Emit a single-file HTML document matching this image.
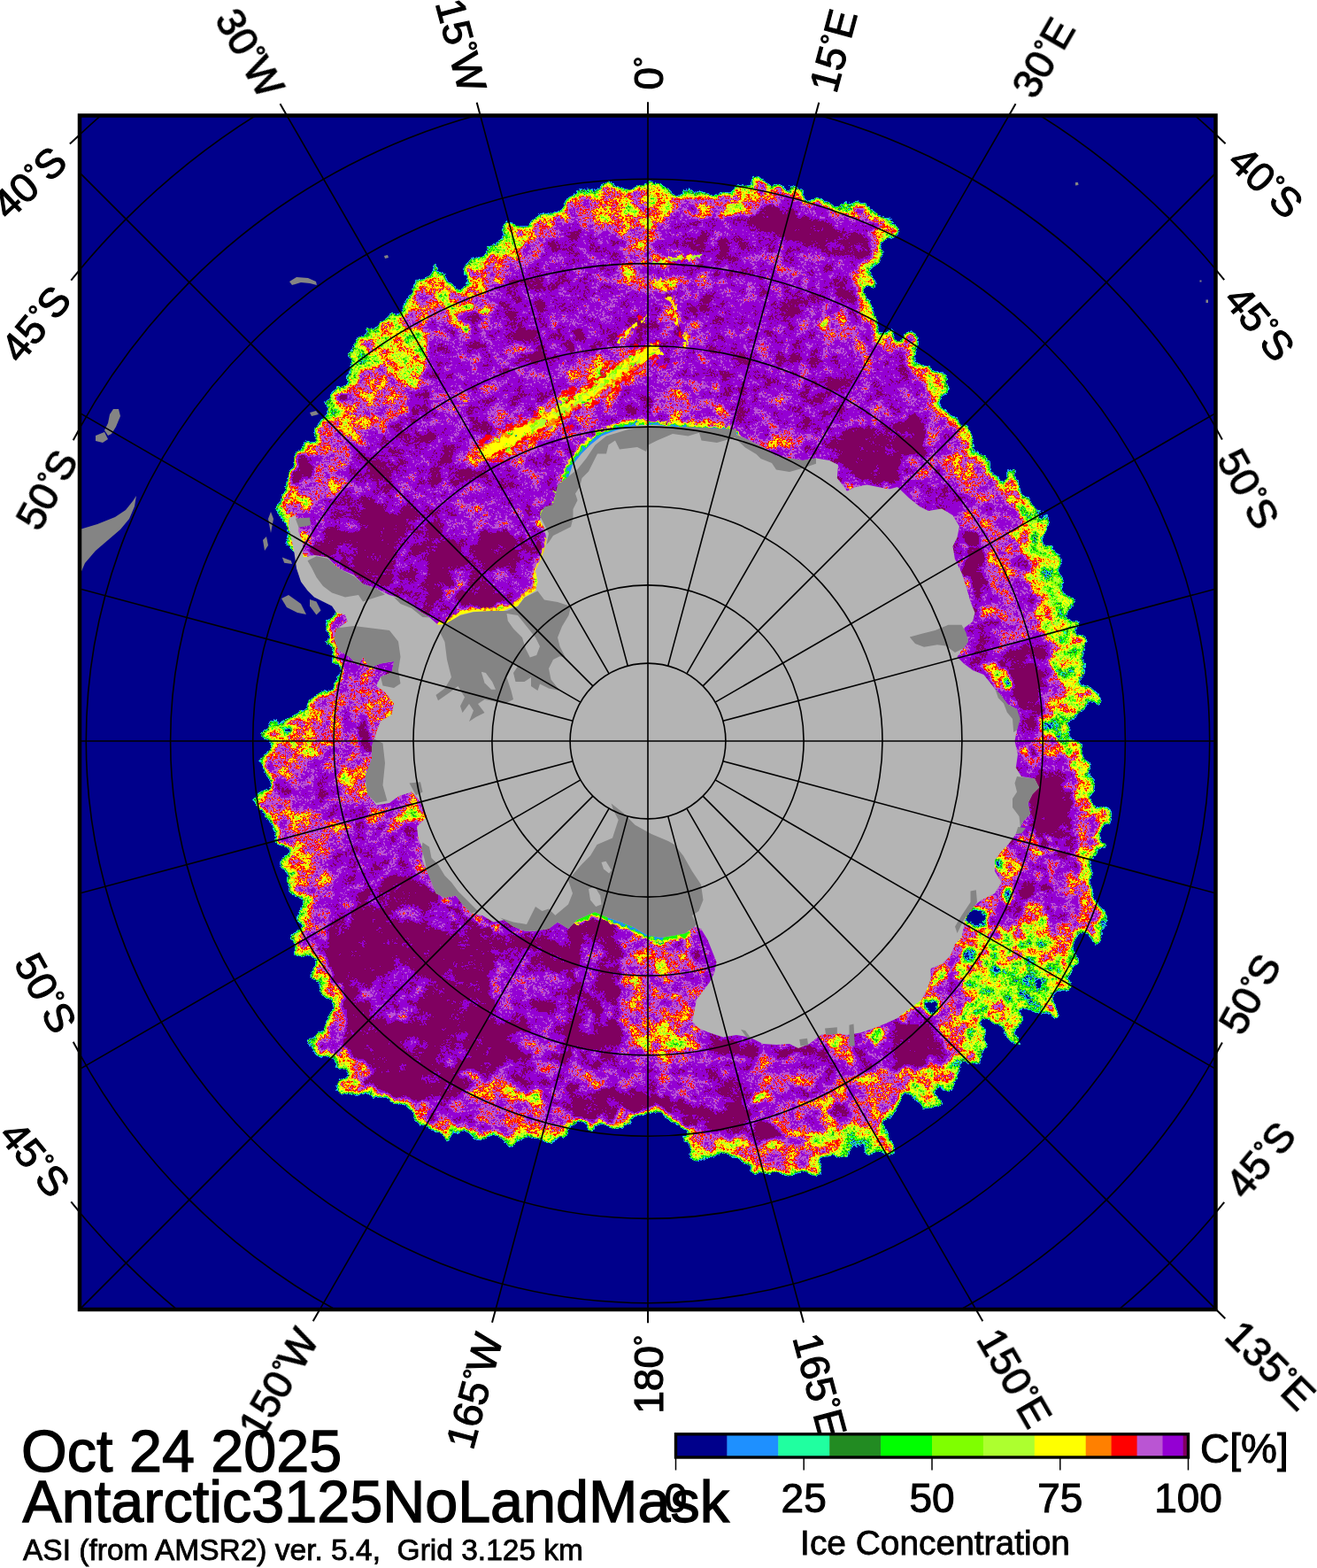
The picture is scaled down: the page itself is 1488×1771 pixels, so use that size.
<!DOCTYPE html>
<html lang="en"><head><meta charset="utf-8"><title>Antarctic sea ice concentration - Oct 24 2025</title>
<style>
html,body{margin:0;padding:0;background:#fff}
body{width:1488px;height:1771px;overflow:hidden;position:relative}
svg{position:absolute;left:0;top:0;display:block}
text{font-family:"Liberation Sans",sans-serif;fill:#000}
.g{fill:none;stroke:#000;stroke-width:1.6}
.lb{font-size:46px;stroke:#000;stroke-width:1.1px}
.tt{stroke:#000;stroke-width:1px}
.t2{stroke:#000;stroke-width:0.8px}
.t3{stroke:#000;stroke-width:1.3px}
</style></head><body>
<svg width="1488" height="1771" viewBox="0 0 1488 1771">
<defs>
<filter id="rag" x="-5%" y="-5%" width="110%" height="110%" color-interpolation-filters="sRGB">
<feTurbulence type="fractalNoise" baseFrequency="0.18" numOctaves="2" seed="5" result="t"/>
<feDisplacementMap in="SourceGraphic" in2="t" scale="9" xChannelSelector="R" yChannelSelector="G"/>
</filter>
<clipPath id="oc"><path d="M642 232 L635 241 L620 244 L605 246 L600 252.5 L602 259 L590 254 L577.5 256 L570 260 L567.5 267.5 L560 272.5 L552.5 280 L550 290 L542.5 297.5 L532.5 297.5 L528.8 305 L532.5 312.5 L530 320 L522.5 330 L515 330 L510 320 L502.5 312.5 L492.5 303.8 L482.5 310 L472.5 320 L467.5 332.5 L457.5 342.5 L450 352.5 L440 357.5 L430 367.5 L417.5 375 L408.8 385 L405 395 L395 398.8 L400 407.5 L397.5 417.5 L400 427.5 L390 436 L380 442.5 L370 445 L366 452.5 L375 460 L372.5 472.5 L362.5 480 L357.5 490 L362.5 500 L355 503.8 L345 501 L338.8 510 L332.5 520 L330 535 L328.8 547.5 L323.8 557.5 L321 562 L318.8 577 L321 589.5 L322.5 602 L326 614.5 L332 622 L340 630 L360 660 L382 692 L372.5 697 L370 707 L370 722 L375 737 L377.5 747 L385 754.5 L382.5 769.5 L370 779.5 L357.5 789.5 L350 792 L345 802 L332.5 809.5 L320 819.5 L302.5 822 L297.5 827 L310 837 L307.5 847 L295 852 L292.5 857 L302.5 867 L307.5 879.5 L302.5 892 L295 899.5 L287.5 907 L295 917 L305 924.5 L312.5 934 L315 944 L327.5 951.5 L330 961.5 L320 971.5 L320 981.5 L332.5 989 L325 999 L335 1009 L347.5 1014 L342.5 1026.5 L337.5 1036.5 L340 1046.5 L330 1054 L326 1059 L337.5 1066.5 L340 1076.5 L352.5 1084 L355 1094 L351 1101.5 L362.5 1109 L367.5 1124 L377.5 1134 L375 1144 L370 1159 L370 1171.5 L357.5 1174 L347.5 1179 L360 1184 L370 1191.5 L380 1196.5 L385 1209 L390 1219 L386 1229 L400 1234 L410 1236.5 L425 1236.5 L440 1241.5 L452.5 1246.5 L465 1251.5 L470 1259 L475 1269 L487.5 1271.5 L500 1276.5 L505 1282.8 L515 1276.5 L530 1284 L542.5 1284 L552.5 1279 L565 1284 L580 1291.5 L595 1284 L610 1284 L625 1286.5 L638 1284 L644 1266 L657 1266.5 L667 1274 L677 1264 L692 1271.5 L699.5 1261.5 L709.5 1274 L717 1259 L727 1251.5 L735 1248.5 L742.5 1252.5 L750 1260 L760 1267.5 L775 1272.5 L782.5 1280 L775 1287.5 L782.5 1297.5 L785 1307.5 L792.5 1312.5 L805 1307.5 L812.5 1300 L825 1305 L835 1307.5 L842.5 1315 L847.5 1322.5 L857.5 1327.5 L870 1327.5 L882.5 1325 L895 1326 L907.5 1325 L920 1320 L925 1310 L937.5 1307.5 L952.5 1300 L970 1297.5 L985 1300 L995 1297.5 L1007.5 1305 L1010 1295 L1002.5 1282.5 L992.5 1272.5 L1002.5 1262.5 L1007.5 1250 L1015 1240 L1015 1230 L1027.5 1235 L1045 1242.5 L1060 1243.8 L1055 1232.5 L1070 1225 L1080 1217.5 L1082.5 1205 L1092 1197.5 L1094 1199 L1106.5 1199 L1109 1189 L1114 1174 L1109 1159 L1114 1149 L1126.5 1156.5 L1139 1169 L1149 1176.5 L1146.5 1166.5 L1149 1154 L1154 1141.5 L1164 1134 L1176.5 1141.5 L1189 1144 L1186.5 1134 L1191.5 1124 L1201.5 1116.5 L1211.5 1109 L1206.5 1099 L1209 1086.5 L1214 1074 L1214 1059 L1219 1049 L1226.5 1054 L1234 1064 L1244 1059 L1247.8 1044 L1244 1029 L1236.5 1019 L1231.5 1006.5 L1226.5 991.5 L1231.5 979 L1241.5 969 L1234 959 L1246.5 951.5 L1239 944 L1251.5 934 L1254 930 L1251.5 919.5 L1239 914.5 L1231.5 907 L1234 894.5 L1236.5 879.5 L1226.5 867 L1224 852 L1219 839.5 L1211.5 832 L1206.5 822 L1211.5 812 L1216.5 802 L1229 799.5 L1239 792 L1239 782 L1226.5 777 L1214 772 L1221.5 762 L1226.5 752 L1214 744.5 L1224 734.5 L1226.5 722 L1214 717 L1211.5 704.5 L1201.5 694.5 L1209 684.5 L1214 674.5 L1201.5 669.5 L1199 657 L1194 647 L1196.5 634.5 L1191.5 624.5 L1181.5 617 L1174 607 L1181.5 597 L1184 584.5 L1176.5 579.5 L1164 572 L1159 562 L1152 558 L1150 547.5 L1149 537.5 L1141.5 535 L1134 547.5 L1126.5 545 L1121.5 535 L1119 525 L1114 517.5 L1104 510 L1096.5 500 L1091.5 490 L1086.5 482.5 L1080 477.5 L1074 470 L1064 462.5 L1054 455 L1061.5 445 L1066.5 435 L1059 421 L1046.5 420 L1034 410 L1031.5 397.5 L1036.5 387.5 L1032.8 377.5 L1024 382.5 L1014 387.5 L1002 380 L992 367.5 L984.5 355 L984.5 345 L977 337.5 L974.5 327.5 L984.5 320 L987 302.5 L989.5 290 L992 275 L999.5 265 L1009.5 260 L1010.8 248.8 L1004.5 245 L999.5 250 L989.5 243.8 L977 235 L964.5 233.8 L957 237.5 L942 235 L929.5 230 L917 225 L902 222.5 L892 215 L879.5 210 L867 212.5 L862 207.5 L854.5 201 L847 203.8 L844.5 211 L832 213.8 L817 217.5 L804.5 222.5 L792 220 L777 217.5 L769.5 222.5 L759.5 222.5 L749.5 215 L742 206 L729.5 207.5 L717 211 L704.5 215 L697 207.5 L690.8 206 L684.5 215 L674.5 220 L662 217.5 L649.5 220Z"/></clipPath>
<clipPath id="fr"><rect x="90.0" y="130.5" width="1283.5" height="1348.5"/></clipPath>
<filter id="ice" x="0" y="0" width="100%" height="100%" filterUnits="objectBoundingBox" color-interpolation-filters="sRGB">
<feTurbulence type="fractalNoise" baseFrequency="0.05" numOctaves="3" seed="21" result="d0"/>
<feDisplacementMap in="SourceGraphic" in2="d0" scale="22" xChannelSelector="R" yChannelSelector="G" result="sd"/>
<feGaussianBlur in="sd" stdDeviation="2.2" result="b"/>
<feTurbulence type="fractalNoise" baseFrequency="0.42" numOctaves="2" seed="7" result="h0"/>
<feColorMatrix in="h0" type="matrix" values="1 0 0 0 0  1 0 0 0 0  1 0 0 0 0  0 0 0 0 1" result="h"/>
<feTurbulence type="fractalNoise" baseFrequency="0.07" numOctaves="2" seed="3" result="m0"/>
<feColorMatrix in="m0" type="matrix" values="0 1 0 0 0  0 1 0 0 0  0 1 0 0 0  0 0 0 0 1" result="m"/>
<feTurbulence type="fractalNoise" baseFrequency="0.02" numOctaves="2" seed="11" result="l0"/>
<feColorMatrix in="l0" type="matrix" values="0 0 1 0 0  0 0 1 0 0  0 0 1 0 0  0 0 0 0 1" result="l"/>
<feComposite in="h" in2="m" operator="arithmetic" k1="0" k2="0.3" k3="0.42" k4="0" result="nm"/>
<feComposite in="nm" in2="l" operator="arithmetic" k1="0" k2="1" k3="0.28" k4="0" result="nml"/>
<feComposite in="b" in2="nml" operator="arithmetic" k1="0.4" k2="1.036" k3="1.06" k4="-0.74" result="f"/>
<feComponentTransfer in="f">
<feFuncR type="discrete" tableValues="0 0 0 0 0 0 0 0 0 0 0.1192 0.1192 0.1192 0.1192 0.1271 0.1271 0.1271 0.1271 0.1349 0.1349 0.1349 0.1349 0 0 0 0 0.4996 0.4996 0.4996 0.4996 0.68 0.68 0.68 0.68 0.68 1 1 1 1 1 1 1 1 1 1 1 1 1 1 1 1 1 0.731 0.731 0.731 0.731 0.731 0.731 0.731 0.731 0.731 0.731 0.582 0.582 0.582 0.582 0.582 0.582 0.582 0.582 0.582 0.582 0.582 0.582 0.582 0.582 0.582 0.582 0.582 0.582 0.5035 0.5035 0.5035 0.5035 0.5035 0.5035 0.5035 0.5035 0.5035 0.5035 0.5035 0.5035 0.5035 0.5035 0.5035 0.5035 0.5035 0.5035 0.5035 0.5035"/>
<feFuncG type="discrete" tableValues="0 0 0 0 0 0 0 0 0 0 0.5663 0.5663 0.5663 0.5663 1 1 1 1 0.5467 0.5467 0.5467 0.5467 1 1 1 1 1 1 1 1 1 1 1 1 1 1 1 1 1 1 1 1 0.5035 0.5035 0.5035 0.5035 0 0 0 0 0 0 0.3349 0.3349 0.3349 0.3349 0.3349 0.3349 0.3349 0.3349 0.3349 0.3349 0 0 0 0 0 0 0 0 0 0 0 0 0 0 0 0 0 0 0 0 0 0 0 0 0 0 0 0 0 0 0 0 0 0 0 0 0 0"/>
<feFuncB type="discrete" tableValues="0.5467 0.5467 0.5467 0.5467 0.5467 0.5467 0.5467 0.5467 0.5467 0.5467 1 1 1 1 0.629 0.629 0.629 0.629 0.1349 0.1349 0.1349 0.1349 0 0 0 0 0 0 0 0 0.1859 0.1859 0.1859 0.1859 0.1859 0 0 0 0 0 0 0 0 0 0 0 0 0 0 0 0 0 0.829 0.829 0.829 0.829 0.829 0.829 0.829 0.829 0.829 0.829 0.829 0.829 0.829 0.829 0.829 0.829 0.829 0.829 0.829 0.829 0.829 0.829 0.829 0.829 0.829 0.829 0.829 0.829 0.378 0.378 0.378 0.378 0.378 0.378 0.378 0.378 0.378 0.378 0.378 0.378 0.378 0.378 0.378 0.378 0.378 0.378 0.378 0.378"/>
</feComponentTransfer>
</filter>
</defs>
<rect x="0" y="0" width="1488" height="1771" fill="#fff"/>
<g clip-path="url(#fr)">
<rect x="90.0" y="130.5" width="1283.5" height="1348.5" fill="#00008b"/>
<g filter="url(#ice)">
<rect x="70.0" y="110.5" width="1323.5" height="1388.5" fill="#000"/>
<path d="M642 232 L635 241 L620 244 L605 246 L600 252.5 L602 259 L590 254 L577.5 256 L570 260 L567.5 267.5 L560 272.5 L552.5 280 L550 290 L542.5 297.5 L532.5 297.5 L528.8 305 L532.5 312.5 L530 320 L522.5 330 L515 330 L510 320 L502.5 312.5 L492.5 303.8 L482.5 310 L472.5 320 L467.5 332.5 L457.5 342.5 L450 352.5 L440 357.5 L430 367.5 L417.5 375 L408.8 385 L405 395 L395 398.8 L400 407.5 L397.5 417.5 L400 427.5 L390 436 L380 442.5 L370 445 L366 452.5 L375 460 L372.5 472.5 L362.5 480 L357.5 490 L362.5 500 L355 503.8 L345 501 L338.8 510 L332.5 520 L330 535 L328.8 547.5 L323.8 557.5 L321 562 L318.8 577 L321 589.5 L322.5 602 L326 614.5 L332 622 L340 630 L360 660 L382 692 L372.5 697 L370 707 L370 722 L375 737 L377.5 747 L385 754.5 L382.5 769.5 L370 779.5 L357.5 789.5 L350 792 L345 802 L332.5 809.5 L320 819.5 L302.5 822 L297.5 827 L310 837 L307.5 847 L295 852 L292.5 857 L302.5 867 L307.5 879.5 L302.5 892 L295 899.5 L287.5 907 L295 917 L305 924.5 L312.5 934 L315 944 L327.5 951.5 L330 961.5 L320 971.5 L320 981.5 L332.5 989 L325 999 L335 1009 L347.5 1014 L342.5 1026.5 L337.5 1036.5 L340 1046.5 L330 1054 L326 1059 L337.5 1066.5 L340 1076.5 L352.5 1084 L355 1094 L351 1101.5 L362.5 1109 L367.5 1124 L377.5 1134 L375 1144 L370 1159 L370 1171.5 L357.5 1174 L347.5 1179 L360 1184 L370 1191.5 L380 1196.5 L385 1209 L390 1219 L386 1229 L400 1234 L410 1236.5 L425 1236.5 L440 1241.5 L452.5 1246.5 L465 1251.5 L470 1259 L475 1269 L487.5 1271.5 L500 1276.5 L505 1282.8 L515 1276.5 L530 1284 L542.5 1284 L552.5 1279 L565 1284 L580 1291.5 L595 1284 L610 1284 L625 1286.5 L638 1284 L644 1266 L657 1266.5 L667 1274 L677 1264 L692 1271.5 L699.5 1261.5 L709.5 1274 L717 1259 L727 1251.5 L735 1248.5 L742.5 1252.5 L750 1260 L760 1267.5 L775 1272.5 L782.5 1280 L775 1287.5 L782.5 1297.5 L785 1307.5 L792.5 1312.5 L805 1307.5 L812.5 1300 L825 1305 L835 1307.5 L842.5 1315 L847.5 1322.5 L857.5 1327.5 L870 1327.5 L882.5 1325 L895 1326 L907.5 1325 L920 1320 L925 1310 L937.5 1307.5 L952.5 1300 L970 1297.5 L985 1300 L995 1297.5 L1007.5 1305 L1010 1295 L1002.5 1282.5 L992.5 1272.5 L1002.5 1262.5 L1007.5 1250 L1015 1240 L1015 1230 L1027.5 1235 L1045 1242.5 L1060 1243.8 L1055 1232.5 L1070 1225 L1080 1217.5 L1082.5 1205 L1092 1197.5 L1094 1199 L1106.5 1199 L1109 1189 L1114 1174 L1109 1159 L1114 1149 L1126.5 1156.5 L1139 1169 L1149 1176.5 L1146.5 1166.5 L1149 1154 L1154 1141.5 L1164 1134 L1176.5 1141.5 L1189 1144 L1186.5 1134 L1191.5 1124 L1201.5 1116.5 L1211.5 1109 L1206.5 1099 L1209 1086.5 L1214 1074 L1214 1059 L1219 1049 L1226.5 1054 L1234 1064 L1244 1059 L1247.8 1044 L1244 1029 L1236.5 1019 L1231.5 1006.5 L1226.5 991.5 L1231.5 979 L1241.5 969 L1234 959 L1246.5 951.5 L1239 944 L1251.5 934 L1254 930 L1251.5 919.5 L1239 914.5 L1231.5 907 L1234 894.5 L1236.5 879.5 L1226.5 867 L1224 852 L1219 839.5 L1211.5 832 L1206.5 822 L1211.5 812 L1216.5 802 L1229 799.5 L1239 792 L1239 782 L1226.5 777 L1214 772 L1221.5 762 L1226.5 752 L1214 744.5 L1224 734.5 L1226.5 722 L1214 717 L1211.5 704.5 L1201.5 694.5 L1209 684.5 L1214 674.5 L1201.5 669.5 L1199 657 L1194 647 L1196.5 634.5 L1191.5 624.5 L1181.5 617 L1174 607 L1181.5 597 L1184 584.5 L1176.5 579.5 L1164 572 L1159 562 L1152 558 L1150 547.5 L1149 537.5 L1141.5 535 L1134 547.5 L1126.5 545 L1121.5 535 L1119 525 L1114 517.5 L1104 510 L1096.5 500 L1091.5 490 L1086.5 482.5 L1080 477.5 L1074 470 L1064 462.5 L1054 455 L1061.5 445 L1066.5 435 L1059 421 L1046.5 420 L1034 410 L1031.5 397.5 L1036.5 387.5 L1032.8 377.5 L1024 382.5 L1014 387.5 L1002 380 L992 367.5 L984.5 355 L984.5 345 L977 337.5 L974.5 327.5 L984.5 320 L987 302.5 L989.5 290 L992 275 L999.5 265 L1009.5 260 L1010.8 248.8 L1004.5 245 L999.5 250 L989.5 243.8 L977 235 L964.5 233.8 L957 237.5 L942 235 L929.5 230 L917 225 L902 222.5 L892 215 L879.5 210 L867 212.5 L862 207.5 L854.5 201 L847 203.8 L844.5 211 L832 213.8 L817 217.5 L804.5 222.5 L792 220 L777 217.5 L769.5 222.5 L759.5 222.5 L749.5 215 L742 206 L729.5 207.5 L717 211 L704.5 215 L697 207.5 L690.8 206 L684.5 215 L674.5 220 L662 217.5 L649.5 220Z" fill="rgb(188,188,188)"/>
<g clip-path="url(#oc)">
<path d="M302.5 892 L307.5 879.5 L302.5 867 L292.5 857 L295 852 L307.5 847 L310 837 L297.5 827 L302.5 822 L320 819.5 L332.5 809.5 L345 802 L350 792 L357.5 789.5 L370 779.5 L382.5 769.5 L385 754.5 L377.5 747 L375 737 L370 722 L370 707 L372.5 697" fill="none" stroke="rgb(167,167,167)" stroke-width="80.0" stroke-linecap="round" stroke-linejoin="round"/>
<path d="M328 842l1 -7M328 853l2 -5M396 758l-3 -5M377 796l-7 -10M362 793l1 -8M350 821l-5 -7M349 820l-5 -12M355 809l6 -6M321 828l-0 -15M333 811l4 -4M396 745l5 -11M386 798l-3 -9M338 853l7 -8M307 862l9 -11M306 832l-1 -14M335 836l-5 -5M290 860l8 -11M329 885l1 -9M324 853l-5 -10M387 776l-6 -10M339 812l5 -10M362 816l-7 -11M318 827l6 -6M314 859l-8 -10M324 869l-0 -15M376 784l-2 -6M402 772l-6 -8M361 823l9 -12M330 858l0 -11M304 895l4 -14M393 751l-1 -6M336 820l-1 -6M368 790l7 -14M330 883l-7 -9M374 716l4 -7M324 853l5 -9M415 769l4 -4M366 793l-0 -6M306 859l-1 -6M329 878l-5 -5M387 766l4 -7M295 857l2 -11M402 720l-3 -10M297 858l-1 -5M400 745l10 -7M375 724l11 -9M304 857l6 -9M359 821l2 -7M300 854l1 -7M368 800l-7 -9M362 809l8 -11M344 849l-10 -12M374 808l1 -5M393 720l1 -10M416 762l-5 -12M323 858l-9 -8M334 843l-2 -14M385 776l-0 -9M401 769l14 -8M327 826l4 -4M375 785l4 -5M357 794l-2 -6M397 720l2 -4M376 798l-1 -12M369 736l9 -8M411 785l-1 -11M376 729l2 -11M294 861l10 -10M373 809l7 -9M381 785l5 -6M396 757l3 -5M369 786l2 -11M355 808l-6 -11M330 852l-2 -11M416 785l-1 -7" fill="none" stroke="rgb(188,188,188)" stroke-width="5" stroke-linecap="round"/>
<path d="M383 757l6 -7M306 854l4 -8M333 834l3 -6M309 893l-2 -11M392 750l8 -7M311 841l-5 -12M385 737l13 -6M309 864l7 -12M358 823l-4 -14M344 883l-5 -4M314 860l5 -7M338 885l4 -14M323 825l-5 -7M378 718l3 -8M395 733l-1 -6M389 741l-6 -13M407 742l6 -4M330 839l2 -14M347 823l-4 -9M371 814l10 -11M322 830l-4 -6M340 824l-6 -7M367 816l-6 -14M399 727l9 -11M340 877l3 -5M321 852l3 -10M333 853l-2 -5M347 844l1 -12M347 805l4 -11M394 760l4 -14M353 807l12 -10M316 843l-6 -11M388 730l-5 -14M389 710l5 -9M333 821l2 -10M389 806l-8 -8M332 868l-11 -11M364 789l5 -4M352 825l-3 -7M294 860l0 -8M331 894l-11 -11M345 887l-5 -8M331 856l-8 -14M354 801l-2 -11M397 778l-4 -6M397 729l-1 -13" fill="none" stroke="rgb(159,159,159)" stroke-width="5" stroke-linecap="round"/>
<path d="M330 858l-6 -4M364 800l-4 -15M392 717l10 -11M397 732l10 -5M328 827l-2 -7M296 868l5 -11M411 790l-4 -12M384 787l-3 -6M381 718l10 -8M324 848l0 -8M345 819l-8 -13M354 827l-7 -11M294 857l3 -9M329 848l-6 -7M323 853l-6 -7M312 844l8 -9M384 727l-4 -7M409 773l4 -12M374 807l-2 -5M305 834l2 -10M335 849l8 -12M410 776l8 -5M376 724l5 -5M301 858l-7 -10M403 729l-2 -13M336 878l5 -11M339 841l-7 -8M323 889l-2 -14M328 882l-2 -12" fill="none" stroke="rgb(134,134,134)" stroke-width="5" stroke-linecap="round"/>
<path d="M310 868l1 -5M387 754l-3 -4M308 870l-5 -8M325 838l-6 -6M410 753l3 -13M323 856l5 -8M382 787l3 -5M304 834l-3 -7M385 788l2 -11M406 787l-1 -7M318 874l-8 -6M328 827l-6 -6M325 851l-4 -4M361 816l-5 -6M336 832l2 -8M420 769l-3 -5M407 762l-2 -12M328 830l0 -8M394 758l-2 -5M395 748l-5 -7M308 882l7 -9M341 826l9 -8M370 802l-1 -7M305 862l-9 -13M387 789l-6 -14" fill="none" stroke="rgb(167,167,167)" stroke-width="5" stroke-linecap="round"/>
<path d="M307 852l3 -4M339 888l-1 -5M408 771l6 -8M342 827l9 -8M312 831l-8 -11M300 831l4 -6M315 885l-5 -5M385 757l-3 -12M382 710l5 -9M391 764l-1 -12M391 768l4 -3" fill="none" stroke="rgb(212,212,212)" stroke-width="5" stroke-linecap="round"/>
<path d="M396 755l2 -7M323 826l9 -8M319 859l5 -13M336 882l-1 -8M302 859l-6 -7M371 800l6 -13M327 831l9 -11M392 766l6 -5M315 857l0 -6M364 795l2 -7M331 845l-1 -7M380 779l7 -10M293 862l8 -9M327 848l4 -4M369 787l2 -5" fill="none" stroke="rgb(146,146,146)" stroke-width="5" stroke-linecap="round"/>
<path d="M411 781l6 -8M373 703l13 -6M304 833l-1 -8M408 772l0 -11M316 829l-6 -9M344 840l-3 -6M316 857l4 -5M376 754l6 -12M411 779l13 -7M347 827l-3 -12M306 874l-3 -5M333 819l-4 -14M377 709l3 -14M317 850l-7 -14M409 757l-3 -13M374 800l5 -4M311 865l-1 -6M370 796l-5 -8M320 828l-5 -13M368 796l9 -8M315 847l-2 -7M383 789l-0 -8M398 757l1 -8M324 853l-4 -4M324 830l2 -11M370 822l-10 -12M300 835l-2 -15M334 826l-5 -7" fill="none" stroke="rgb(134,134,134)" stroke-width="3" stroke-linecap="round"/>
<path d="M392 715l8 -12M342 814l10 -8M316 893l6 -11M391 786l4 -8M396 754l6 -3M416 766l6 -12M403 718l-2 -6M403 786l9 -6M353 803l1 -6M334 830l3 -6M326 862l5 -10M360 792l10 -9M328 844l2 -5M292 866l10 -11M420 780l0 -7M354 806l-4 -15" fill="none" stroke="rgb(146,146,146)" stroke-width="3" stroke-linecap="round"/>
<path d="M320 879l-8 -6M302 829l-0 -10M412 785l6 -8M405 733l3 -11M346 828l0 -11M321 872l5 -14M359 814l10 -10M417 789l-7 -13M314 859l6 -10M301 868l5 -8M363 807l5 -9M391 782l-3 -9M396 746l5 -6M363 794l1 -7M385 753l-1 -6M375 710l10 -4M390 709l1 -9M415 785l1 -7M315 867l-3 -9M392 754l-8 -12M404 741l-2 -5M331 862l2 -11M327 837l-0 -11M414 762l7 -4M392 752l5 -7M391 715l0 -9M359 818l8 -8M337 868l-7 -8M336 888l5 -5M376 753l4 -10M371 812l1 -10M339 892l-0 -11M323 849l4 -3M363 821l1 -5M345 819l2 -7M393 763l1 -15M361 799l-3 -12M337 850l0 -13M333 872l-5 -9M305 858l4 -12M360 804l4 -10M363 799l6 -15M330 825l2 -9M327 844l9 -11M307 835l5 -10M398 760l5 -4M332 824l-6 -8M328 869l-0 -8M379 784l-6 -9M315 828l5 -10M329 852l-2 -12M329 879l-7 -11M312 878l-6 -7M380 787l4 -5M352 814l3 -8M374 721l6 -7M338 815l-10 -10M399 744l3 -8M382 803l0 -7M362 810l5 -11M315 829l3 -8M377 746l5 -5M330 835l-1 -8M402 768l12 -9" fill="none" stroke="rgb(188,188,188)" stroke-width="3" stroke-linecap="round"/>
<path d="M405 790l9 -9M334 883l-2 -13M339 871l-12 -10M353 819l7 -7M327 827l-4 -6M377 745l10 -11M300 863l3 -12M345 877l4 -6M353 796l2 -10M348 814l11 -8M389 761l1 -5M368 811l10 -12M385 804l1 -11M367 793l-3 -10" fill="none" stroke="rgb(167,167,167)" stroke-width="3" stroke-linecap="round"/>
<path d="M401 720l6 -5M317 855l6 -10M345 838l4 -5M304 854l-4 -6M324 840l4 -9M407 771l-2 -13M407 759l4 -8M390 741l-4 -11M385 754l3 -4M393 715l-1 -9M332 847l-4 -4M394 731l12 -8M372 812l8 -6M339 868l-8 -9M317 831l7 -9M396 741l3 -9M377 748l5 -7M304 828l6 -12M389 713l11 -8M319 884l-0 -5M371 798l-2 -11M358 807l-0 -15M409 772l-1 -6M381 794l11 -9M320 857l1 -6M326 858l-6 -6M325 823l-3 -4M400 752l5 -11M365 805l-9 -10M311 850l0 -13M302 828l4 -7M345 841l6 -6M385 756l3 -5M326 830l7 -12" fill="none" stroke="rgb(159,159,159)" stroke-width="3" stroke-linecap="round"/>
<path d="M389 740l4 -10M336 825l-6 -10M307 835l5 -12M339 852l1 -15M313 836l-7 -6M399 756l5 -10M316 828l6 -5M307 829l-8 -10M331 860l-2 -5M383 807l4 -10M370 722l10 -12M325 859l-5 -10M314 831l-5 -13M303 852l7 -7M340 847l-4 -7M315 852l-3 -7M373 744l5 -13M314 826l-5 -10M326 844l3 -5M334 849l-2 -10M421 777l2 -6M381 800l8 -9M333 821l-2 -6" fill="none" stroke="rgb(212,212,212)" stroke-width="3" stroke-linecap="round"/>
<path d="M335 627l2 -9M323 610l3 -7M362 659l5 -2M333 626l10 -6M376 684l2 -13M327 605l4 -11" fill="none" stroke="rgb(146,146,146)" stroke-width="5" stroke-linecap="round"/>
<path d="M315 598l15 -3M364 668l7 -5M334 632l6 -12" fill="none" stroke="rgb(134,134,134)" stroke-width="5" stroke-linecap="round"/>
<path d="M325 612l4 -11M326 617l1 -10M336 630l1 -16M356 651l2 -7M330 602l2 -5M364 665l0 -7" fill="none" stroke="rgb(159,159,159)" stroke-width="5" stroke-linecap="round"/>
<path d="M326 620l15 -4" fill="none" stroke="rgb(167,167,167)" stroke-width="5" stroke-linecap="round"/>
<path d="M338 633l9 -5M328 613l7 -2" fill="none" stroke="rgb(111,111,111)" stroke-width="5" stroke-linecap="round"/>
<path d="M339 632l2 -15M347 647l8 -3M339 634l2 -15" fill="none" stroke="rgb(188,188,188)" stroke-width="5" stroke-linecap="round"/>
<path d="M336 629l7 -3M325 615l5 -13M354 655l8 -13M327 599l3 -4M329 602l-4 -12M337 627l1 -10" fill="none" stroke="rgb(111,111,111)" stroke-width="3" stroke-linecap="round"/>
<path d="M333 627l-0 -11M330 624l4 -4M368 670l5 -6M326 621l13 -4" fill="none" stroke="rgb(134,134,134)" stroke-width="3" stroke-linecap="round"/>
<path d="M340 631l2 -8M357 658l-4 -11M338 636l9 -9M337 628l2 -7M333 623l4 -5" fill="none" stroke="rgb(146,146,146)" stroke-width="3" stroke-linecap="round"/>
<path d="M328 617l3 -12M352 648l-1 -7" fill="none" stroke="rgb(159,159,159)" stroke-width="3" stroke-linecap="round"/>
<path d="M360 659l8 -8" fill="none" stroke="rgb(188,188,188)" stroke-width="3" stroke-linecap="round"/>
<path d="M335 628l4 -12" fill="none" stroke="rgb(167,167,167)" stroke-width="3" stroke-linecap="round"/>
<path d="M407 402l12 -1M420 416l2 -13M414 393l4 -8M350 526l5 -2M415 380l7 -0M406 452l4 -6M333 547l3 -8M337 572l7 -3M332 580l0 -13M369 481l4 -4M328 596l8 -7M376 509l6 -10M374 449l4 -4M336 571l1 -10M374 494l5 -7M377 446l9 -6" fill="none" stroke="rgb(111,111,111)" stroke-width="5" stroke-linecap="round"/>
<path d="M343 560l8 -2M383 448l6 -5M337 520l6 -10M373 474l5 -3M399 429l2 -9M407 390l7 -7M347 537l5 -6M360 523l0 -15M345 525l-1 -10M344 554l0 -9M381 498l5 -2M376 502l-1 -9M401 448l3 -9M405 412l4 -4M343 545l11 -4M392 464l13 -8M416 389l6 -4M377 479l7 -3M371 494l8 -9M354 513l6 -10M339 589l-2 -7M396 410l2 -15M399 447l14 0M325 591l10 -12M325 582l6 -13M369 459l6 -2M328 595l2 -6M363 497l2 -10M351 531l6 -4M325 572l-3 -14M333 588l6 -7M364 507l-1 -8M380 473l6 -8" fill="none" stroke="rgb(159,159,159)" stroke-width="5" stroke-linecap="round"/>
<path d="M331 543l10 -3M404 416l3 -5M405 410l10 2M342 597l-2 -6M407 432l8 -2M323 589l8 -13M356 535l3 -5M392 448l4 -5M413 391l10 -5M390 460l6 -2M361 512l4 -11M341 569l-3 -15M403 452l9 -9M376 477l5 -11M341 516l14 -3M347 564l4 -7M422 415l2 -7M336 569l8 -12M336 575l10 -4M370 499l1 -6M369 513l12 -4M366 507l3 -11M411 420l1 -6M396 401l7 0M335 593l-3 -16M408 425l3 -13M381 472l6 -2M374 523l11 -7M407 393l7 -11M375 450l12 -4M357 509l5 -3M401 417l7 -9M406 402l2 -7M406 446l7 -1M322 583l13 -7M365 521l1 -9M416 412l10 -4M377 472l13 -7M397 419l11 -4M374 468l13 -6M353 512l8 -6M409 433l2 -7M416 401l13 -3M380 500l7 -7" fill="none" stroke="rgb(188,188,188)" stroke-width="5" stroke-linecap="round"/>
<path d="M366 522l2 -9M376 507l-0 -8M348 509l-1 -13M332 531l2 -11M385 460l3 -11M325 571l9 -9M369 515l10 -3M375 456l5 -9M344 559l1 -8M397 402l6 -3M361 515l-1 -14M368 451l9 -5M347 521l8 -10M339 573l14 -7M374 519l7 -1M382 464l13 -7M337 573l5 -10M371 457l4 -6M408 422l6 -3M375 466l11 -2M363 497l3 -8M344 532l4 -5M354 531l4 -15M333 590l2 -8M390 462l1 -7M371 494l1 -6M406 435l8 -8M365 513l4 -4M415 379l7 1M326 571l8 -10" fill="none" stroke="rgb(134,134,134)" stroke-width="5" stroke-linecap="round"/>
<path d="M369 485l-0 -15M340 576l5 -11M331 536l13 -8M374 515l-0 -11M421 410l1 -10M326 565l1 -12M398 412l6 -2M395 412l11 -9M360 515l8 -9M326 555l2 -9M338 542l10 -8M329 580l-2 -10M339 535l9 -4" fill="none" stroke="rgb(167,167,167)" stroke-width="5" stroke-linecap="round"/>
<path d="M329 550l3 -6M340 548l-1 -5M374 517l15 -1M385 438l5 1M376 492l3 -5M378 479l3 -11M367 505l13 -0M380 480l13 0M414 402l10 2M346 538l13 -7M333 542l-1 -8M382 445l7 -5M397 439l1 -15M403 419l13 -2M388 457l11 -3M358 489l8 0M369 473l8 -6M378 519l1 -10M370 523l3 -6M374 470l7 -11M339 578l13 -9M358 506l5 -2M369 508l1 -7M368 459l3 -7" fill="none" stroke="rgb(146,146,146)" stroke-width="5" stroke-linecap="round"/>
<path d="M360 521l14 -5M402 440l3 -6M330 566l9 -2M357 509l10 -0M390 449l14 -6M403 417l6 -0M419 406l14 -7M377 521l8 -8M408 456l5 -8M386 449l13 -4" fill="none" stroke="rgb(167,167,167)" stroke-width="3" stroke-linecap="round"/>
<path d="M400 412l6 -2M410 447l9 -6M347 529l8 -9M344 521l11 -9M354 531l5 -3M415 395l7 -3M344 554l-2 -12M327 589l4 -10M317 567l10 -13M375 466l3 -15M375 484l5 -6M338 568l11 -7M320 570l9 -3M404 416l4 -4M380 476l9 -12M381 476l8 -6M359 512l7 -0M324 588l3 -6M356 516l11 -1M379 471l1 -11M383 489l16 1M331 599l-0 -7M408 405l5 -14M381 465l8 0M359 498l7 -6M374 502l10 -0M343 602l-1 -7M381 471l5 -7M371 457l15 -5M398 411l14 3M373 503l9 -0M374 465l9 -4M404 409l2 -14M401 415l1 -16M383 460l3 -10M407 421l8 -1M366 520l13 -3M365 514l11 -10M376 447l8 -3M388 452l9 -1M367 505l11 -1M408 427l8 -9M370 463l9 -5M376 459l6 -0M411 441l5 -3M347 557l2 -13" fill="none" stroke="rgb(188,188,188)" stroke-width="3" stroke-linecap="round"/>
<path d="M383 474l5 -4M338 594l5 -4M341 554l9 -7M402 411l5 -4M331 553l7 -3M412 452l10 -10M404 409l3 -8M321 576l11 -3M333 554l-1 -6M355 512l10 -7M381 455l3 -12M354 538l0 -14M379 476l10 -11M357 515l8 -7M372 520l-1 -10M334 522l7 -9M381 483l8 -5M387 449l8 -11M378 465l7 -0M343 536l9 -6" fill="none" stroke="rgb(146,146,146)" stroke-width="3" stroke-linecap="round"/>
<path d="M350 515l-1 -10M324 577l5 -1M342 527l14 -4M370 467l5 -15M397 420l5 -6M372 522l0 -12M327 593l2 -7M383 473l2 -6M374 521l0 -10M387 445l13 -0M372 513l1 -6M340 605l7 -4M361 517l4 -4M369 498l13 -2M361 514l6 -6M362 523l1 -12M327 553l7 -8M333 564l4 -10M337 537l1 -13M329 571l8 -8M382 452l6 1M385 478l3 -9M409 419l5 -12M327 594l7 -14M400 408l4 -12M333 542l5 -6M368 520l-1 -9M373 468l15 0M385 452l9 -3M340 585l8 -13M373 486l0 -12" fill="none" stroke="rgb(134,134,134)" stroke-width="3" stroke-linecap="round"/>
<path d="M370 449l7 -5M399 451l1 -15M379 469l5 -3M403 416l5 -5M321 581l5 -14M329 568l1 -10M359 524l9 -11M329 589l10 -8M378 500l3 -5M332 553l-2 -11M373 506l13 -1M379 456l15 -3M377 487l0 -8M384 442l11 1M364 461l12 -4M399 415l7 -5M404 457l6 -2M399 432l2 -6" fill="none" stroke="rgb(159,159,159)" stroke-width="3" stroke-linecap="round"/>
<path d="M417 417l4 -3M400 404l1 -9M319 567l8 -13M324 547l11 -2M338 525l3 -9M409 415l11 -8M344 528l-0 -6M375 518l1 -15M375 522l7 -2M355 522l-1 -12M378 462l7 -4M353 530l1 -10M374 522l2 -13M344 555l2 -7M402 459l1 -14" fill="none" stroke="rgb(111,111,111)" stroke-width="3" stroke-linecap="round"/>
<path d="M400 407.5 L395 398.8 L405 395 L408.8 385 L417.5 375 L430 367.5 L440 357.5 L450 352.5 L457.5 342.5 L467.5 332.5 L472.5 320 L482.5 310 L492.5 303.8 L502.5 312.5 L510 320 L515 330 L522.5 330 L530 320 L528.8 305 L532.5 312.5 L532.5 297.5 L542.5 297.5 L550 290" fill="none" stroke="rgb(159,159,159)" stroke-width="76.0" stroke-linecap="round" stroke-linejoin="round"/>
<path d="M427 404l7 -4M518 339l7 -3M512 343l12 -7M463 335l10 -5M487 319l9 -7M428 383l8 -1M456 352l4 -12M450 379l11 -7M444 362l4 -11M495 347l4 -3M529 336l15 2M460 372l3 -12M439 388l9 -8M466 353l15 4M530 307l11 -0M487 321l13 -8M410 427l3 -14M478 349l7 -10M464 372l5 -11M549 306l7 -6M505 328l7 3M468 341l8 -13M530 324l13 -2M426 400l8 0M532 303l11 -4M529 315l15 5M429 377l1 -6M508 333l13 -8M477 357l7 1M547 315l9 -6M457 369l5 -1M447 390l8 -4M465 343l5 -15M423 402l14 2M528 365l6 -1M417 418l12 1M453 387l6 -5M550 312l3 -5" fill="none" stroke="rgb(134,134,134)" stroke-width="5" stroke-linecap="round"/>
<path d="M410 399l9 -3M446 389l5 -11M430 417l3 -5M422 402l12 -11M506 335l5 2M535 338l12 -6M548 314l15 4M447 395l5 -9M418 411l7 -14M522 340l14 -7M416 430l6 -6M434 388l10 -1M448 373l3 -7M536 313l4 -10M528 328l6 -12M519 353l12 3M424 393l15 1M526 314l9 -10M444 374l11 -6M532 360l6 -10M527 361l14 3M478 354l10 -7M481 346l7 -1M454 397l7 -10M466 364l14 4M408 414l7 -12M481 356l5 -3M438 359l8 -2M447 362l5 -0M538 335l9 -3M424 382l7 -4M521 354l9 -1M429 370l14 -0M544 293l8 1M448 353l14 -7M404 412l7 1M458 373l4 -6M550 317l4 -6M463 389l6 -11M457 383l12 2M458 337l10 2M415 385l9 1M524 348l5 -3M471 354l9 -9M536 334l7 -6M530 321l15 -2M543 325l13 2M403 415l11 1M532 320l4 -6M412 429l13 -8M476 367l4 -12M404 419l7 -5M496 316l9 1M536 325l9 -3M412 402l11 -6M505 332l6 2M547 303l13 2M490 306l11 3M439 389l7 -14M526 364l7 -3M509 343l14 -3" fill="none" stroke="rgb(111,111,111)" stroke-width="5" stroke-linecap="round"/>
<path d="M411 393l3 -7M478 349l16 -2M393 406l8 -8M535 333l7 -5M529 317l7 -1M461 334l10 1M544 330l6 3M456 375l11 -0M454 356l4 -3M414 435l11 -6M430 410l14 -3M525 318l13 7M394 400l6 1M524 348l4 -7M425 410l8 2M532 327l7 -11M514 336l5 2M528 317l12 6M517 343l9 -2M532 334l10 5M407 380l13 0M471 365l8 0" fill="none" stroke="rgb(188,188,188)" stroke-width="5" stroke-linecap="round"/>
<path d="M407 385l7 1M431 402l6 1M403 411l4 -2M483 312l6 3M542 301l12 6M491 328l15 -3M515 347l10 -9M424 387l5 -5M524 320l12 -10M480 330l14 -3M414 433l6 -8M423 388l9 2M414 412l3 -8M485 332l10 -8M469 345l12 1M471 322l9 3M507 330l9 -6M436 361l7 -0M421 411l5 -8M543 333l10 -2M439 375l5 -2M444 364l7 -9M487 345l9 -3M517 345l5 -15M461 381l2 -8M475 349l7 -12M504 319l8 2M542 336l6 -2M493 346l7 -12M496 329l14 -4" fill="none" stroke="rgb(159,159,159)" stroke-width="5" stroke-linecap="round"/>
<path d="M479 370l6 -4M467 351l2 -5M526 309l6 -7M485 344l14 -3M508 334l6 -3M398 404l5 -10M449 391l3 -10M495 318l5 -2M526 315l13 -3M518 356l12 -7M420 383l7 -10M468 330l14 -8M432 412l7 -4M520 351l7 1M487 331l6 -2M507 331l14 1M528 371l8 -13M530 344l6 -5M419 436l0 -9M410 412l12 -2M534 333l10 -7" fill="none" stroke="rgb(89,89,89)" stroke-width="5" stroke-linecap="round"/>
<path d="M414 432l7 -4M418 396l9 -7M452 361l6 -9M547 306l14 7M485 349l12 -6M521 341l5 -13M466 327l14 -4M421 381l4 -12M483 323l4 -6M529 345l7 -6M454 387l4 -6M402 404l5 -1M515 345l7 -9M471 373l3 -5M395 410l14 0M477 338l9 -0M501 326l12 -4M415 433l7 -4" fill="none" stroke="rgb(146,146,146)" stroke-width="5" stroke-linecap="round"/>
<path d="M458 354l9 0M400 412l9 2M536 332l7 1M462 336l10 0M531 370l4 -11M459 391l3 -7M519 345l6 -14M548 317l3 -6M416 391l6 1M473 334l4 -9M484 359l6 -6M517 349l7 -8M549 318l15 -6M515 347l6 -2M528 311l15 -0M523 313l14 -1M409 426l10 -2M513 340l11 -2M413 374l10 2M527 311l13 6M393 401l5 -1M524 332l7 0M550 326l15 2M538 342l9 -2M441 396l3 -13M472 372l6 -7M508 335l11 -4M532 338l12 -7M485 339l8 0M455 372l6 -1M406 394l5 -3M476 348l6 -2M538 335l2 -6M453 379l13 4M398 404l6 -6M456 387l13 -3M531 339l12 -3M530 326l2 -5" fill="none" stroke="rgb(159,159,159)" stroke-width="3" stroke-linecap="round"/>
<path d="M535 303l12 -2M503 327l7 -11M525 310l13 7M523 356l12 6M516 341l13 -1M442 359l12 1M402 408l11 -2M413 419l7 -14M539 336l6 -4M480 340l8 -12M390 400l13 2M528 322l4 -10M538 332l8 -2M539 343l11 3M533 343l12 -3M490 317l3 -5M422 398l9 -12M532 334l3 -7M522 360l6 -14M521 342l16 -1M510 334l11 1M531 316l7 1M514 338l16 -1M521 358l8 -7M529 360l6 -8M490 341l3 -9M521 351l2 -4M512 342l14 -2M490 333l9 -3M404 402l5 -1M543 317l8 -11M538 327l10 -9M482 355l8 2M440 362l11 -11M448 386l6 -11M511 350l14 -6M472 369l2 -6M466 389l3 -7M477 341l15 -0M399 412l3 -10M417 393l4 -8M407 415l7 -0M521 350l5 1M440 378l9 -2M536 359l8 -14M494 328l3 -11M502 321l5 -6M415 396l12 -4" fill="none" stroke="rgb(111,111,111)" stroke-width="3" stroke-linecap="round"/>
<path d="M456 338l15 -2M442 407l1 -7M411 380l5 -1M422 426l11 -1M414 430l7 -4M459 370l5 -14M414 430l8 -1M511 340l13 -8M436 398l3 -8M421 393l4 -7M417 395l7 -8M535 335l10 -7" fill="none" stroke="rgb(146,146,146)" stroke-width="3" stroke-linecap="round"/>
<path d="M491 320l8 -4M554 324l13 4M467 329l10 0M400 412l8 -2M406 395l12 -5M516 346l11 2M447 368l10 -4M510 337l9 -4M554 320l6 -3M498 324l10 -7M527 335l12 -5M447 372l8 -7M404 421l15 -1M472 320l10 -6M462 370l8 -2M509 342l7 -6M523 336l5 -3M425 422l5 -2M508 337l13 -2M453 373l2 -5M413 429l4 -5M547 306l14 -7M539 341l14 -7M408 389l8 1M428 381l12 -10" fill="none" stroke="rgb(188,188,188)" stroke-width="3" stroke-linecap="round"/>
<path d="M410 415l4 -8M466 341l9 -13M404 411l5 -3M503 338l13 1M518 333l8 1M483 320l11 -9M529 352l13 -3M454 352l4 -14M486 355l7 -5M472 323l6 -4" fill="none" stroke="rgb(89,89,89)" stroke-width="3" stroke-linecap="round"/>
<path d="M441 384l8 1M527 321l14 -6M519 334l3 -7M497 317l9 -0M532 332l5 -11M483 360l4 -11M434 391l10 -10M459 343l13 -9M501 317l10 4M519 335l8 2M507 326l11 -1M451 355l9 1M530 323l13 7M554 316l5 1M442 394l7 -4M454 361l10 -10M534 309l13 -3M523 357l5 -3M480 313l13 1M470 385l6 -13M545 308l14 6M494 339l4 -6M420 418l10 -8M403 398l8 -8M452 344l12 3M427 378l4 -11M518 355l13 -3M456 368l6 1M527 340l8 -11M476 324l5 -3M495 314l5 -1M503 335l7 1M483 316l12 3M447 403l3 -16M453 381l5 -6M525 307l10 3M475 378l4 -12" fill="none" stroke="rgb(134,134,134)" stroke-width="3" stroke-linecap="round"/>
<path d="M570 276l7 -6M672 224l13 -6M662 229l10 -11M657 223l3 -4M647 237l7 -10M570 265l13 -2M652 225l6 2M574 268l6 -5M628 248l10 -6M622 247l11 6M635 248l6 3" fill="none" stroke="rgb(146,146,146)" stroke-width="5" stroke-linecap="round"/>
<path d="M602 256l8 -6M553 288l6 3M570 266l10 -3M644 227l13 -3M674 220l8 -2M668 231l14 2M665 226l15 -5M566 260l12 5" fill="none" stroke="rgb(159,159,159)" stroke-width="5" stroke-linecap="round"/>
<path d="M555 287l8 -3M638 245l9 -11M593 262l10 1" fill="none" stroke="rgb(167,167,167)" stroke-width="5" stroke-linecap="round"/>
<path d="M564 269l14 3M606 253l16 -1M650 234l9 -8M591 254l12 0M588 260l5 -7M538 296l13 4" fill="none" stroke="rgb(111,111,111)" stroke-width="5" stroke-linecap="round"/>
<path d="M563 276l13 -7M591 259l8 4M574 261l8 -3M601 268l4 -7M664 217l12 9M627 243l7 4M646 228l11 -5M602 261l4 -8M626 252l8 -13" fill="none" stroke="rgb(134,134,134)" stroke-width="5" stroke-linecap="round"/>
<path d="M633 252l5 3M681 216l7 -0M567 272l9 -11" fill="none" stroke="rgb(188,188,188)" stroke-width="5" stroke-linecap="round"/>
<path d="M575 271l10 -12M637 250l10 -12M678 230l4 -4M609 247l7 -3M646 234l5 -4" fill="none" stroke="rgb(111,111,111)" stroke-width="3" stroke-linecap="round"/>
<path d="M631 238l13 7M640 234l11 2M670 223l11 -1M677 215l10 5M638 240l11 -10M543 305l9 5M550 297l9 -9" fill="none" stroke="rgb(146,146,146)" stroke-width="3" stroke-linecap="round"/>
<path d="M653 233l13 -7M650 226l15 -4M664 227l6 -1M573 273l8 -9M602 251l10 -8M613 260l7 -11M550 293l9 -2M660 224l9 -7M550 287l12 -1M677 227l5 2M599 258l10 4M568 271l4 -6" fill="none" stroke="rgb(134,134,134)" stroke-width="3" stroke-linecap="round"/>
<path d="M658 216l10 5M602 249l11 2M594 260l16 0M559 275l6 1M621 249l13 1" fill="none" stroke="rgb(159,159,159)" stroke-width="3" stroke-linecap="round"/>
<path d="M605 247l4 3M575 268l9 -3M646 230l6 -1M600 262l9 -2M563 262l12 6M678 229l7 -4" fill="none" stroke="rgb(188,188,188)" stroke-width="3" stroke-linecap="round"/>
<path d="M637 247l13 -8M599 261l14 -6M582 270l6 -12M584 252l10 7M671 233l9 -6" fill="none" stroke="rgb(167,167,167)" stroke-width="3" stroke-linecap="round"/>
<path d="M674.5 220 L684.5 215 L690.8 206 L697 207.5 L704.5 215 L717 211 L729.5 207.5 L742 206 L749.5 215 L759.5 222.5 L769.5 222.5 L777 217.5 L792 220 L804.5 222.5 L817 217.5 L832 213.8 L844.5 211 L847 203.8 L854.5 201 L862 207.5" fill="none" stroke="rgb(159,159,159)" stroke-width="56.0" stroke-linecap="round" stroke-linejoin="round"/>
<path d="M781 228l5 -2M699 212l8 5M731 227l10 7M762 239l6 6M699 226l13 -10M754 226l11 7M803 223l8 1M834 221l8 2M833 214l5 3M804 234l10 4M806 237l8 6M698 218l10 -1M800 232l13 1M710 227l9 6M790 227l5 -1M766 221l11 -0M743 233l8 -4" fill="none" stroke="rgb(167,167,167)" stroke-width="5" stroke-linecap="round"/>
<path d="M743 213l8 -3M748 220l11 0M741 221l10 -3M677 248l8 -11M787 235l11 9M684 229l6 2M672 245l11 -1M756 238l5 -5M714 235l7 6M749 220l5 0M840 217l7 -2M741 237l6 0M734 228l8 -0M848 227l9 2M851 225l10 -4M777 243l11 4M768 229l7 -2M774 239l8 4M827 228l5 3M686 216l13 2M753 247l6 -5M726 228l11 3M820 230l8 8M712 215l8 6M781 239l14 -3M849 231l13 -4M685 238l9 -13M831 223l11 6M723 229l6 -2M699 211l6 4M745 238l8 -2M840 222l10 -2M807 232l13 4M815 233l15 -4M694 218l8 -1M751 246l8 3M832 235l3 5M849 198l8 10M732 204l12 7M720 233l14 -3M746 224l9 9M793 249l10 -1M699 239l7 -5M799 224l9 -2M837 217l11 7M731 215l13 -5M825 218l9 -3M795 241l10 1M697 233l10 -9M828 221l11 5M729 230l13 5M835 214l7 -4" fill="none" stroke="rgb(134,134,134)" stroke-width="5" stroke-linecap="round"/>
<path d="M818 234l7 -2M675 229l11 10M691 218l8 -6M841 218l7 9M739 207l7 2M804 229l8 -4M845 201l9 4M802 226l14 2M789 241l11 -7M801 246l11 -3M783 240l7 8M854 209l8 3M765 228l15 3M831 219l15 -3M822 231l6 7M841 213l7 1M692 225l8 -9M762 225l8 5M771 220l4 5M699 221l11 -5M798 242l8 -3M752 232l13 5M705 228l6 1M768 239l5 -3" fill="none" stroke="rgb(146,146,146)" stroke-width="5" stroke-linecap="round"/>
<path d="M845 223l10 10M683 235l8 -2M848 222l8 4M674 247l9 -7M850 222l5 4M696 228l5 3M815 242l6 3M750 232l11 -5M772 241l12 -6M851 212l9 -1M843 228l15 2M728 217l11 -0M835 227l14 0M686 216l7 -2M753 244l7 3M763 240l12 -4M691 233l7 -2M693 217l8 -8M771 228l11 1M796 230l4 4M727 228l7 5M824 222l5 -3M746 218l14 8M697 217l10 2M764 232l15 -4M675 224l15 0M788 234l6 8M839 212l11 2" fill="none" stroke="rgb(188,188,188)" stroke-width="5" stroke-linecap="round"/>
<path d="M691 210l6 -5M747 219l13 -0M699 216l8 1M836 223l12 10M793 225l7 -1M693 231l7 4M845 213l14 6M700 227l9 -3M757 254l7 -7M814 238l7 7M790 227l6 3M686 228l11 -0M679 237l7 -9M704 223l12 -2M851 210l11 1M706 223l10 4M852 205l8 5M768 241l7 -1M699 219l6 -0M837 223l11 4M751 224l9 -3M698 229l12 -3M836 213l7 -0M761 244l6 -1M685 212l8 1" fill="none" stroke="rgb(159,159,159)" stroke-width="5" stroke-linecap="round"/>
<path d="M696 222l14 -2M675 240l5 -4M852 207l8 8M816 233l9 8M710 218l9 -8M742 223l12 -1M699 233l9 6M717 239l4 -4M672 225l16 3M759 235l9 8M790 242l5 -0M695 208l7 5M715 223l7 -7M825 221l6 4M829 218l7 -2M847 219l7 8M765 247l8 -2M802 230l8 -2" fill="none" stroke="rgb(111,111,111)" stroke-width="5" stroke-linecap="round"/>
<path d="M678 246l13 -7M685 230l8 -2M817 220l6 -6M770 231l10 -2M771 246l9 -1M844 209l13 -8M744 221l11 9M839 222l6 3M840 221l6 2M689 215l6 2M674 222l10 4M854 229l5 8M784 237l6 3M848 216l8 3M704 237l5 3M745 214l11 10M748 236l7 -0M802 227l13 2M772 222l9 9M692 215l8 8M697 239l15 4M840 220l7 5" fill="none" stroke="rgb(188,188,188)" stroke-width="3" stroke-linecap="round"/>
<path d="M740 228l8 1M709 214l12 9M741 223l10 2M798 232l13 -9M773 223l8 -3M831 228l7 4M807 243l11 -4M837 216l14 3M820 217l9 1M843 205l15 -1M689 235l11 -8M684 225l7 5M694 228l13 1M698 218l7 -8M752 225l12 -3M798 222l11 10M845 224l10 12M683 240l9 -6M732 211l14 -1M693 213l15 1M801 233l11 5M765 225l11 -4M801 250l9 -7" fill="none" stroke="rgb(159,159,159)" stroke-width="3" stroke-linecap="round"/>
<path d="M736 207l15 1M840 223l9 0M775 229l6 3M693 223l10 10M674 224l8 -2M810 226l9 3M673 243l12 1M700 228l10 7M802 239l14 3M816 238l10 8M814 219l12 3M684 219l8 1M694 219l6 2M846 221l8 12M836 237l5 -1M841 222l6 1M752 234l14 -7M729 218l6 -3M758 239l6 6M838 223l10 -5M846 225l4 -3M691 231l13 -2M725 216l15 -4M726 226l8 -1M780 231l10 -6M715 223l6 -3M683 207l10 9M783 223l6 -4M695 216l15 -2M780 224l8 -4M703 235l10 -8M693 232l15 -1M743 218l10 -1M784 225l4 4M770 226l11 -0M846 229l14 -5" fill="none" stroke="rgb(134,134,134)" stroke-width="3" stroke-linecap="round"/>
<path d="M685 231l5 -2M813 234l14 -7M834 229l8 2M736 225l9 -9M768 232l11 -3M718 210l11 1M745 239l11 11M780 230l13 -8M739 233l12 10M813 230l7 -3M783 223l6 4M682 232l13 -6M838 224l11 -4" fill="none" stroke="rgb(167,167,167)" stroke-width="3" stroke-linecap="round"/>
<path d="M733 206l7 7M788 228l8 6M790 234l9 11M735 221l8 1M848 202l8 12M842 213l9 -3M813 228l7 4M796 234l5 2M815 243l13 -4M691 215l9 5M770 244l8 -4M695 233l6 4M752 223l10 9" fill="none" stroke="rgb(111,111,111)" stroke-width="3" stroke-linecap="round"/>
<path d="M709 232l9 4M694 241l13 -6M755 244l11 -7M677 242l8 3M739 223l6 -4M729 227l9 -3M808 232l15 3M697 233l10 2M729 215l12 -1M760 225l11 -3M713 229l8 -5M676 226l9 4M841 208l10 1M834 222l8 -3M851 199l7 9M697 235l7 3M846 199l7 9M681 212l7 6M678 217l5 2M748 238l13 2M682 226l12 6M848 223l8 6M681 212l11 8M848 200l8 7M753 239l8 7M792 228l6 0M771 242l4 -3M675 234l8 1M723 212l5 5" fill="none" stroke="rgb(146,146,146)" stroke-width="3" stroke-linecap="round"/>
<path d="M1030 392l6 2M912 223l6 7M1024 404l9 -1M989 271l9 1M1048 452l11 7M973 234l4 11M1049 419l6 8M1006 386l5 3M976 347l11 5M978 353l13 6M986 369l6 10M996 280l5 14M892 222l11 1M1057 457l3 7" fill="none" stroke="rgb(188,188,188)" stroke-width="5" stroke-linecap="round"/>
<path d="M957 236l14 7M1055 436l11 3M1024 406l8 2M990 269l12 8M989 368l6 6M1028 408l3 7M994 260l7 5M883 220l14 -5M972 340l6 3M1054 444l8 9M992 262l8 9M989 272l6 3M995 253l11 -1M956 238l8 5M992 278l3 8M857 207l13 7" fill="none" stroke="rgb(134,134,134)" stroke-width="5" stroke-linecap="round"/>
<path d="M984 356l5 7M1030 392l6 4M1058 446l0 7M860 211l5 3M995 275l7 4M869 208l11 8M992 252l13 3M1016 388l9 -1M1008 385l9 6M876 213l8 7M1056 447l7 1M998 247l5 6M1029 373l6 11M974 234l7 14M969 329l12 -4" fill="none" stroke="rgb(159,159,159)" stroke-width="5" stroke-linecap="round"/>
<path d="M967 332l10 2M981 374l15 -4M941 241l14 5M981 309l7 -1M976 337l6 12M997 255l6 0M1027 405l6 -1M856 208l7 10M901 219l8 12M1056 423l4 15M992 266l10 11M909 227l13 -3M854 209l8 0" fill="none" stroke="rgb(146,146,146)" stroke-width="5" stroke-linecap="round"/>
<path d="M1053 445l5 13M1028 391l7 12M971 333l12 6M994 264l4 4" fill="none" stroke="rgb(111,111,111)" stroke-width="5" stroke-linecap="round"/>
<path d="M982 244l9 3M1022 379l5 11M990 375l6 4M841 215l6 1M981 294l14 -2M1028 376l10 11" fill="none" stroke="rgb(167,167,167)" stroke-width="5" stroke-linecap="round"/>
<path d="M1051 463l14 8M875 216l13 7M1028 393l9 3M917 227l11 2M976 311l7 14M870 212l9 3" fill="none" stroke="rgb(111,111,111)" stroke-width="3" stroke-linecap="round"/>
<path d="M1061 457l4 13M1023 402l11 2M991 274l5 9M1003 266l3 11M975 236l5 5M1047 457l6 6M883 216l11 3M867 217l15 1M998 389l5 -1" fill="none" stroke="rgb(146,146,146)" stroke-width="3" stroke-linecap="round"/>
<path d="M857 217l11 -4M859 212l14 5M993 377l6 4M977 314l7 2M1007 391l11 2M1030 378l4 13M980 233l6 14M1061 439l1 8M1056 462l10 6M1027 376l10 5M979 311l6 -2M982 297l15 3" fill="none" stroke="rgb(188,188,188)" stroke-width="3" stroke-linecap="round"/>
<path d="M1047 455l13 4M880 217l16 -3M988 380l11 -1M1028 411l2 5M989 285l8 13M982 310l13 -1M995 378l10 1M995 381l7 0M1056 425l7 2" fill="none" stroke="rgb(159,159,159)" stroke-width="3" stroke-linecap="round"/>
<path d="M955 239l6 -2M981 362l6 10M992 278l9 -1M897 226l9 -5M992 280l11 3M859 221l9 -7M992 248l4 6M1060 436l8 6M976 332l7 -2M842 210l8 -4M838 214l13 -1M852 202l7 9M978 357l11 -0M988 278l11 3" fill="none" stroke="rgb(134,134,134)" stroke-width="3" stroke-linecap="round"/>
<path d="M1025 403l11 2M969 243l15 2" fill="none" stroke="rgb(167,167,167)" stroke-width="3" stroke-linecap="round"/>
<path d="M1075 486l15 5M1177 594l-2 14M1056 456l4 5M1056 461l9 3M1116 539l2 11M1171 603l-2 11M1149 556l8 4M1114 548l10 7M1153 569l12 3M1132 544l14 2M1122 541l11 7" fill="none" stroke="rgb(167,167,167)" stroke-width="5" stroke-linecap="round"/>
<path d="M1080 489l7 3M1061 469l6 5M1125 539l9 9M1156 558l4 7M1113 537l3 12M1141 555l13 8M1176 594l7 8M1106 517l5 15M1154 574l1 6M1171 602l7 4M1046 456l6 8M1111 537l6 3M1074 489l3 6M1147 565l-1 10M1070 483l2 9M1065 465l7 3M1099 512l6 8M1145 563l3 11M1170 592l1 6M1109 519l7 8M1127 541l13 2M1050 455l3 5M1137 548l9 3M1136 540l11 7M1110 520l9 3M1164 572l9 7M1086 491l7 10M1115 537l7 6M1128 549l6 1M1167 575l5 11M1144 545l6 12M1062 471l3 9" fill="none" stroke="rgb(134,134,134)" stroke-width="5" stroke-linecap="round"/>
<path d="M1180 597l-2 7M1057 458l3 5M1081 480l-0 7M1153 557l-1 9M1082 495l5 6M1082 505l9 4M1143 559l4 11M1180 624l-3 6M1148 563l2 10M1109 520l6 7M1152 580l8 4M1077 484l-0 13M1135 555l8 7M1042 464l8 2M1082 477l2 9M1079 500l12 0M1177 625l5 5M1116 540l8 9M1171 612l-0 5M1085 507l7 9M1128 545l-2 16M1067 473l2 6M1168 603l5 9" fill="none" stroke="rgb(159,159,159)" stroke-width="5" stroke-linecap="round"/>
<path d="M1140 558l2 4M1091 504l5 10M1084 494l4 12M1113 531l7 1M1150 567l11 5M1180 619l5 2M1137 543l5 2M1119 537l0 5M1106 521l8 2M1059 477l7 -0M1161 583l6 5M1062 479l6 2M1079 492l0 6M1075 482l3 14M1060 474l10 0" fill="none" stroke="rgb(188,188,188)" stroke-width="5" stroke-linecap="round"/>
<path d="M1108 520l5 4M1138 556l6 10M1088 511l11 7M1070 484l4 8M1190 618l-3 12M1124 539l-2 12M1114 532l4 10M1174 618l5 9M1141 540l-2 6M1087 505l1 11M1175 623l-2 6M1177 594l1 12M1170 577l2 12M1130 547l2 6M1178 618l6 4M1161 576l13 8M1120 540l-0 16M1118 534l-0 14M1045 460l7 3M1065 484l13 2" fill="none" stroke="rgb(146,146,146)" stroke-width="5" stroke-linecap="round"/>
<path d="M1052 452l5 3M1067 484l2 5M1138 540l-0 11M1110 546l7 1" fill="none" stroke="rgb(111,111,111)" stroke-width="5" stroke-linecap="round"/>
<path d="M1142 553l-1 15M1126 542l7 13M1091 487l2 13M1086 491l5 11M1092 508l1 15M1125 542l12 1M1090 492l3 5M1067 469l9 4M1054 446l4 13M1081 492l12 6M1061 472l8 8M1047 459l2 6M1114 534l3 7M1165 604l10 3M1050 464l4 5M1080 489l9 7M1084 487l8 4M1145 546l9 11M1063 469l9 1M1055 445l5 11M1086 488l0 14M1100 512l4 5M1177 575l-1 11M1117 526l4 8M1074 477l15 6M1152 561l-2 14M1118 526l3 15M1114 537l0 16M1094 493l1 8M1115 545l-2 13" fill="none" stroke="rgb(134,134,134)" stroke-width="3" stroke-linecap="round"/>
<path d="M1089 501l9 10M1081 496l7 6M1071 490l9 1M1149 566l5 13M1084 488l10 6M1173 624l11 9M1095 517l6 10M1051 454l0 8M1048 472l15 5M1117 540l3 5M1132 536l5 14M1116 537l6 7M1058 459l8 12M1170 581l-0 15M1087 493l5 12M1059 453l4 15M1129 545l10 5M1050 468l10 3M1049 452l8 7M1169 608l7 11M1165 583l-0 6M1051 467l10 1M1066 473l14 2M1170 584l10 6" fill="none" stroke="rgb(159,159,159)" stroke-width="3" stroke-linecap="round"/>
<path d="M1153 566l10 7M1083 504l9 7M1114 533l-1 10M1177 623l-0 13M1166 609l-1 9M1170 600l5 11M1173 599l3 14M1057 445l1 10M1069 469l4 7M1104 515l8 14M1125 545l6 7M1172 617l7 2M1167 620l2 5M1067 488l6 -0M1096 516l8 5M1116 522l0 6M1115 534l13 8M1132 545l9 3M1143 535l11 6M1142 561l7 6M1049 453l2 13M1113 540l-1 14M1146 551l8 1M1077 474l4 5M1074 489l2 6M1168 595l8 3M1183 593l-4 9M1067 478l0 5M1080 485l10 3" fill="none" stroke="rgb(188,188,188)" stroke-width="3" stroke-linecap="round"/>
<path d="M1100 528l12 3M1109 520l6 2M1105 530l7 10M1129 542l1 12M1114 550l5 2M1063 472l6 4M1139 556l11 3M1160 581l7 2M1129 543l3 14M1115 535l9 12" fill="none" stroke="rgb(167,167,167)" stroke-width="3" stroke-linecap="round"/>
<path d="M1100 524l8 1M1137 544l6 5M1138 543l12 6M1142 548l3 15M1054 469l3 5M1145 546l7 8M1174 591l0 5M1135 555l13 5M1160 607l6 11M1120 542l12 7M1069 482l8 3M1083 489l-1 11M1052 455l14 7M1142 554l8 5M1116 541l6 9" fill="none" stroke="rgb(146,146,146)" stroke-width="3" stroke-linecap="round"/>
<path d="M1162 579l9 8M1118 548l8 1M1129 540l2 10M1129 540l2 5M1081 489l6 15M1140 562l12 8M1134 543l3 8" fill="none" stroke="rgb(111,111,111)" stroke-width="3" stroke-linecap="round"/>
<path d="M1191.5 624.5 L1196.5 634.5 L1194 647 L1199 657 L1201.5 669.5 L1214 674.5 L1209 684.5 L1201.5 694.5 L1211.5 704.5 L1214 717 L1226.5 722 L1224 734.5 L1214 744.5 L1226.5 752 L1221.5 762 L1214 772 L1226.5 777 L1239 782 L1239 792 L1229 799.5 L1216.5 802 L1211.5 812 L1206.5 822" fill="none" stroke="rgb(146,146,146)" stroke-width="64.0" stroke-linecap="round" stroke-linejoin="round"/>
<path d="M1180 811l5 5M1204 805l-0 13M1180 652l-0 6M1165 645l5 14M1212 728l-1 5M1233 784l-2 6M1186 641l2 8M1204 676l3 13M1217 771l7 12M1217 731l-8 14M1185 688l3 7M1197 810l-10 9M1201 740l11 6M1212 768l-4 5M1220 786l7 5M1201 687l-2 8M1207 748l6 13M1194 699l7 10M1191 653l3 10M1201 779l6 11M1209 766l6 12M1201 735l2 10M1222 780l1 7M1195 680l2 7M1184 691l0 10M1172 649l6 7M1221 797l2 7M1182 809l1 13M1204 796l-6 6M1208 802l-2 5M1210 798l-4 4M1233 776l3 9M1178 690l6 6M1213 741l5 10M1211 713l3 13M1188 628l-0 8M1212 755l-2 16M1195 676l9 10M1213 711l-0 10M1220 736l-4 8M1191 774l1 10M1170 653l-4 15M1201 772l-0 6M1178 658l-2 11M1188 720l1 9M1206 763l6 6M1182 808l-0 9M1209 770l8 9M1204 743l6 8M1229 778l-1 12M1201 762l8 10M1202 671l-5 10M1199 800l-1 15M1210 714l-3 8M1235 790l3 5M1210 784l-2 11M1184 674l7 4M1188 639l-3 7M1185 703l2 8M1230 785l-1 10M1166 652l2 12M1208 743l-1 8" fill="none" stroke="rgb(111,111,111)" stroke-width="5" stroke-linecap="round"/>
<path d="M1183 688l11 7M1173 637l8 9M1190 748l4 8M1177 700l6 6M1202 810l-2 11M1169 644l10 5M1182 688l0 6M1198 676l-6 14M1208 710l7 6M1182 692l-2 5M1217 774l2 11M1177 664l5 5M1188 681l4 8M1198 811l6 13M1215 716l2 14M1224 793l8 8" fill="none" stroke="rgb(52,52,52)" stroke-width="5" stroke-linecap="round"/>
<path d="M1190 625l4 5M1220 788l-8 9M1212 793l-1 11M1217 717l-3 15M1202 812l0 7M1194 779l7 7M1198 803l11 11M1198 811l-4 13M1187 691l-0 5M1176 677l2 6M1219 764l-5 9M1194 764l3 6M1165 639l3 11M1221 790l-4 11M1190 713l-4 9M1204 728l4 5M1217 754l-8 12M1197 669l6 3M1167 634l4 5M1225 796l-2 6M1174 672l-5 11M1195 718l5 6M1200 729l0 13M1196 679l7 6M1192 765l-1 7" fill="none" stroke="rgb(188,188,188)" stroke-width="5" stroke-linecap="round"/>
<path d="M1192 674l4 5M1205 763l-1 5M1185 700l2 5M1174 636l2 6M1181 651l-0 9M1188 624l-1 8M1213 796l7 10M1191 631l6 6M1211 771l-6 8M1177 688l9 9M1192 819l6 5M1212 745l0 15M1222 732l-1 6M1189 802l5 15M1169 636l6 6M1213 754l8 9M1222 759l-3 4M1197 672l-2 8M1214 745l1 15M1175 666l5 10M1205 706l-2 9M1199 707l-8 14M1213 797l3 4M1194 693l1 13M1192 724l-2 7M1177 691l5 12M1182 640l5 6M1215 776l3 8M1199 767l2 14M1204 769l5 6M1195 660l3 10M1189 657l-3 8M1166 642l7 7M1195 670l10 10M1177 630l-4 15M1209 713l7 14M1197 739l-4 5M1208 777l-9 11M1195 750l2 5M1185 682l7 13M1207 666l-8 14M1189 719l-0 11M1213 752l10 12M1190 799l6 8M1178 677l13 6M1168 634l-1 5M1224 722l-1 7M1203 746l1 13M1179 665l8 6M1170 697l7 8M1182 644l8 12M1209 735l-5 9M1191 674l3 10M1173 654l-2 8M1191 658l4 5M1213 761l-2 9M1187 716l-2 5M1202 771l11 10M1212 770l-6 9M1180 672l10 12M1218 775l1 11M1181 708l5 9M1190 637l4 7M1212 800l-4 10M1203 717l-3 5M1216 770l-5 9M1163 654l10 3M1183 722l2 5" fill="none" stroke="rgb(134,134,134)" stroke-width="5" stroke-linecap="round"/>
<path d="M1208 747l-6 8M1192 766l9 6M1180 807l4 5M1188 642l4 15M1171 630l3 8M1188 804l3 7M1214 748l8 6M1181 811l1 6M1195 773l8 9M1190 770l5 12M1201 727l3 6M1196 680l8 5M1187 645l5 6M1162 651l13 8M1210 727l2 9M1174 656l-6 13M1218 758l6 7M1218 734l-4 6M1224 789l0 8M1213 795l-5 10M1207 676l5 3M1193 684l7 12" fill="none" stroke="rgb(146,146,146)" stroke-width="5" stroke-linecap="round"/>
<path d="M1197 802l4 6M1201 741l3 6M1226 785l-2 5M1219 773l5 10M1168 658l8 11M1183 703l3 7M1170 646l7 8M1195 762l5 11M1217 775l-6 13M1202 807l11 9M1184 744l3 15M1170 655l3 11M1215 759l-5 6M1196 774l4 11M1199 680l-6 10M1187 707l3 9M1185 671l10 7M1221 757l-2 5M1224 794l5 7M1227 781l4 7M1195 743l8 6M1187 798l0 13M1203 769l-3 5M1190 649l9 4M1204 695l-5 14M1191 727l7 12M1199 776l9 7M1192 661l10 7" fill="none" stroke="rgb(159,159,159)" stroke-width="5" stroke-linecap="round"/>
<path d="M1202 770l0 6M1174 641l12 4M1184 715l-0 10M1210 769l-0 7M1207 707l5 7M1185 650l-4 9M1173 634l7 4M1212 737l5 9M1189 820l1 5M1206 715l3 9M1201 796l-0 13M1183 695l-2 5M1177 656l11 8M1209 798l1 7M1200 760l0 13M1208 760l3 4M1204 759l3 4M1185 657l-1 7M1209 765l2 15M1184 704l5 4M1179 656l3 10M1217 755l2 13M1176 694l-4 12M1201 681l1 14M1186 775l0 5M1193 728l7 10M1195 657l0 9M1206 706l-1 15M1202 754l-6 11M1196 714l2 7M1167 656l8 5M1212 670l-1 9M1188 642l11 11M1227 780l1 11M1199 703l13 6M1189 706l-7 14M1193 719l5 12M1183 669l1 6M1206 716l10 12M1203 801l4 11M1193 773l-0 6M1202 811l4 15M1227 779l8 7M1187 653l-0 8M1208 784l-1 13M1177 709l11 7M1189 706l-0 8M1217 795l-1 12M1194 726l4 15M1193 768l-2 7M1192 775l-2 7M1200 736l5 3M1200 707l-3 8M1213 770l1 12M1180 656l5 7M1173 704l3 6M1189 765l-4 13M1189 685l5 11M1203 722l13 9M1208 790l7 8M1197 680l-4 11M1196 807l-3 6M1168 653l5 14M1202 773l4 8M1196 769l7 11M1214 756l-1 9" fill="none" stroke="rgb(89,89,89)" stroke-width="5" stroke-linecap="round"/>
<path d="M1227 790l4 8M1224 726l0 15M1206 793l3 12M1200 805l1 6M1207 746l10 11M1196 807l1 5M1208 799l-0 5M1174 678l7 7M1210 766l-5 11M1189 800l0 8M1233 789l3 9M1183 689l2 11M1199 762l1 6M1209 795l-4 5M1205 717l-7 11M1197 704l-4 11M1204 676l0 6M1179 678l5 11M1200 678l-5 14M1199 766l-1 8M1201 767l-3 15M1216 716l-0 10M1195 776l3 6M1211 719l-4 12M1204 810l4 10M1197 679l0 15M1210 783l1 5M1206 713l2 5M1190 804l7 7M1165 650l4 15M1174 674l7 14M1183 808l1 6M1203 680l-6 11M1214 721l6 5M1205 796l3 13M1174 652l6 8M1197 803l-4 10M1214 777l-7 10M1213 755l-0 11M1208 798l-2 11M1231 787l-1 7M1183 695l4 8M1216 729l7 5M1196 704l11 10M1183 718l4 13M1216 794l4 9M1207 795l-2 13M1172 672l13 8M1187 687l4 11M1222 775l6 5M1204 670l8 11M1182 699l4 12M1215 733l-3 10M1182 770l2 12M1179 657l-0 7M1177 691l8 10M1204 663l-7 13M1193 769l3 16M1178 674l6 11M1191 748l1 5M1208 714l-2 16M1194 768l-5 13M1177 697l-2 12M1211 797l-7 8M1178 695l4 10M1194 680l4 7M1188 670l2 9M1220 790l5 12M1225 781l-3 4M1196 669l13 6M1206 715l2 12M1211 767l-4 5M1211 717l8 11M1181 634l7 3M1216 797l-9 9M1171 634l0 10M1204 681l3 5M1215 793l-0 14M1208 708l3 10M1204 814l-7 12M1197 815l-0 5M1192 801l3 4M1197 710l7 14M1172 645l-5 10M1197 804l6 8M1180 652l10 4M1196 704l0 13M1201 797l-10 11" fill="none" stroke="rgb(111,111,111)" stroke-width="3" stroke-linecap="round"/>
<path d="M1209 787l5 4M1182 649l3 11M1166 652l2 5M1201 761l-7 8M1214 779l5 7M1188 646l4 6M1205 737l-8 10M1210 798l1 14M1202 809l5 6M1205 742l7 4M1215 796l3 8M1183 818l-6 8M1181 623l2 12M1181 811l1 8M1189 646l-2 8M1200 697l-6 14M1197 721l-0 10M1189 638l5 4M1166 650l12 6M1216 755l7 12M1183 694l1 15M1240 786l-2 8" fill="none" stroke="rgb(52,52,52)" stroke-width="3" stroke-linecap="round"/>
<path d="M1207 772l-4 9M1217 716l8 9M1221 795l-8 9M1188 682l3 12M1224 776l-1 9M1206 736l6 4M1178 665l-4 9M1188 686l4 9M1189 740l8 6M1209 806l-5 5M1208 798l-6 8M1197 680l7 3M1218 763l-3 6M1202 766l4 4M1171 643l6 14M1179 640l-6 14M1183 680l3 12M1208 774l-1 8M1178 696l-2 11M1203 763l2 9M1234 784l-1 6M1221 748l-2 5M1181 672l2 13M1216 779l-3 8M1208 806l4 3M1200 734l-4 7M1188 769l-1 5M1191 691l7 5M1210 719l6 10M1222 760l-3 4M1182 801l12 10M1215 713l-5 9M1170 664l-1 8M1177 630l5 3M1197 778l6 10M1192 738l3 9M1170 655l-2 5M1177 646l4 7M1195 767l-0 8M1208 710l-2 11M1204 791l6 6M1204 744l9 11M1191 757l6 7M1205 816l4 4M1205 788l9 8M1164 663l11 9M1179 661l6 3M1217 729l5 7M1206 675l3 11M1175 677l8 6M1209 808l-3 11M1199 775l10 10M1177 692l-0 9M1217 789l3 9M1214 752l-3 12M1192 724l10 8M1175 679l12 8M1207 812l-6 13M1187 698l-1 10" fill="none" stroke="rgb(134,134,134)" stroke-width="3" stroke-linecap="round"/>
<path d="M1186 646l7 7M1180 701l2 8M1215 748l-5 6M1170 650l5 11M1179 674l1 7M1198 699l5 5M1197 653l-3 13M1198 767l-2 5M1181 679l5 4M1184 698l4 14M1194 713l-6 13M1200 723l2 5M1185 692l-1 11M1210 743l-4 7M1188 685l4 4M1175 688l10 5M1178 651l-1 15M1190 763l4 13M1193 770l5 6M1189 710l-5 8M1173 667l10 10M1179 819l6 8M1203 767l6 7M1199 738l4 4M1196 775l-1 8M1201 812l-9 9M1183 673l6 8M1223 777l3 8M1226 786l-1 14M1214 803l-5 7M1216 745l9 7M1181 656l4 4M1196 723l8 8M1179 670l-5 9M1199 682l-2 8M1185 683l4 10M1221 758l-4 12M1206 702l-7 13M1207 742l1 6M1174 667l-2 13M1204 740l-5 14M1218 762l-4 13M1180 812l4 7M1204 773l2 9M1215 744l4 14M1204 815l-4 6M1197 652l-4 15M1204 722l-5 7M1168 667l6 8M1201 803l9 13M1179 658l-5 14M1210 741l-7 12M1165 666l7 4M1208 717l8 9M1171 632l-1 7M1192 670l9 11M1181 629l9 6M1183 659l5 7" fill="none" stroke="rgb(89,89,89)" stroke-width="3" stroke-linecap="round"/>
<path d="M1193 799l-4 9M1191 708l12 7M1189 658l-3 6M1195 800l-0 5M1208 797l6 9M1217 786l0 14M1201 692l4 9M1213 789l-4 4M1187 653l-1 8M1184 655l5 10M1188 709l-2 8M1187 631l8 5M1185 709l8 9M1193 755l7 5M1221 746l3 12M1210 733l7 11M1199 730l2 11M1180 651l4 4M1184 646l3 10M1183 628l2 11M1184 659l-5 13M1188 775l4 5M1170 703l6 4M1217 767l1 16M1231 780l-2 10M1211 806l-1 16M1222 750l6 11M1199 682l9 4M1188 623l7 11M1215 791l-4 6M1188 750l7 11M1211 775l13 9" fill="none" stroke="rgb(188,188,188)" stroke-width="3" stroke-linecap="round"/>
<path d="M1198 711l2 12M1207 774l2 9M1193 725l5 5M1203 778l5 8M1192 679l6 6M1192 752l8 5M1186 801l6 5M1193 765l0 6M1195 800l3 4M1177 636l2 15M1190 684l4 15M1196 660l-4 9M1208 672l1 7M1167 644l1 15M1177 630l-2 7M1194 714l-0 9M1163 637l12 5M1211 703l-3 9M1216 753l-2 5M1193 686l4 5M1186 635l2 5M1194 672l-1 12M1237 785l-2 7M1213 787l6 7M1191 771l2 9M1183 674l7 12M1206 771l4 5" fill="none" stroke="rgb(159,159,159)" stroke-width="3" stroke-linecap="round"/>
<path d="M1186 660l-3 9M1208 795l10 12M1187 713l7 10M1204 762l3 7M1216 757l8 12M1178 688l5 12M1192 761l-1 12M1210 781l-2 4M1198 744l6 8M1194 666l-7 14M1209 804l-0 8M1167 637l12 5M1234 776l-2 9M1183 687l6 6M1223 780l0 12M1173 655l9 4M1214 788l10 11M1197 700l4 5M1201 712l4 12M1186 678l7 4M1189 629l10 13M1189 643l1 11M1171 647l7 8M1185 806l-3 6M1164 659l11 5M1227 790l1 11M1207 812l-1 6" fill="none" stroke="rgb(146,146,146)" stroke-width="3" stroke-linecap="round"/>
<path d="M1230 935l-1 11M1206 819l-7 14M1191 819l1 8M1209 844l-2 12M1232 937l-3 4M1207 823l-1 6M1226 955l-4 11M1213 824l-7 9M1222 861l3 11M1215 837l6 13M1230 886l1 5M1237 927l-7 11M1208 839l0 8M1231 939l-2 10M1215 847l-9 10M1203 834l9 8M1221 853l4 11M1221 856l3 12M1226 866l1 6" fill="none" stroke="rgb(89,89,89)" stroke-width="5" stroke-linecap="round"/>
<path d="M1197 825l5 8M1230 878l4 5M1239 962l-1 9M1255 917l-8 9M1239 942l-8 6M1221 887l2 9M1239 950l-9 6M1236 905l-5 9M1211 826l-3 8M1232 906l-2 8M1237 879l-12 9M1219 896l-4 8M1231 956l-5 8M1224 893l-2 13M1229 902l-6 4M1237 946l-4 5M1215 838l0 12M1199 823l6 9M1240 915l4 5M1227 903l1 16M1250 914l2 13M1245 945l-6 7M1242 943l2 11M1211 834l-5 12M1227 899l-4 13M1195 831l6 6M1233 902l-5 11M1226 902l2 12M1197 818l-5 12M1223 906l3 13M1218 845l3 5M1237 926l4 8M1237 952l-4 9M1216 835l1 5M1232 962l2 9" fill="none" stroke="rgb(111,111,111)" stroke-width="5" stroke-linecap="round"/>
<path d="M1232 905l-9 11M1234 959l-10 11M1220 866l0 11M1221 905l-3 7M1212 844l-6 7M1232 901l-3 14M1241 949l0 7M1225 940l3 7M1222 898l-9 12M1218 904l5 8M1223 857l-4 8M1244 909l-12 9M1235 945l5 8M1217 900l4 13M1233 944l7 11M1226 901l4 8M1236 922l3 7M1231 956l4 10M1223 891l4 12" fill="none" stroke="rgb(134,134,134)" stroke-width="5" stroke-linecap="round"/>
<path d="M1240 955l-6 4M1224 873l-6 6M1245 925l-9 7M1197 829l-1 7M1213 857l5 13M1222 898l3 9M1234 912l1 5M1252 924l1 12M1242 911l5 14M1239 880l-8 8M1237 880l-5 13M1228 945l-3 13M1200 825l7 8" fill="none" stroke="rgb(159,159,159)" stroke-width="5" stroke-linecap="round"/>
<path d="M1194 829l10 11M1228 901l2 5M1238 942l-5 3M1216 867l0 11M1208 837l-4 5M1245 948l2 7M1208 829l-5 9M1245 931l-3 14M1216 834l-6 8M1234 939l3 11" fill="none" stroke="rgb(52,52,52)" stroke-width="5" stroke-linecap="round"/>
<path d="M1225 905l-2 15M1212 850l3 11M1247 917l-9 9M1219 865l8 8M1235 940l-2 12M1230 904l-7 12M1235 889l-3 9M1216 854l-1 11M1230 953l-5 8" fill="none" stroke="rgb(188,188,188)" stroke-width="5" stroke-linecap="round"/>
<path d="M1213 854l-4 15M1230 878l8 10M1222 898l-3 4M1235 958l-12 7M1225 899l1 5M1215 838l8 13M1229 938l0 16M1220 847l3 9M1233 899l-6 12M1219 852l-1 13M1230 875l-0 6M1234 879l-2 12" fill="none" stroke="rgb(146,146,146)" stroke-width="5" stroke-linecap="round"/>
<path d="M1231 939l-5 3M1214 838l-4 8M1213 838l-5 13M1223 903l-0 10M1205 827l-2 14M1228 897l7 10M1224 852l1 15M1244 913l2 10M1218 859l-10 11M1234 963l-5 6M1227 949l2 7M1238 936l0 7M1239 928l-10 9M1206 839l5 7M1222 954l2 12M1219 869l-1 7M1219 858l0 8M1225 874l-8 11M1224 949l2 6M1192 821l3 5M1217 838l-8 11M1235 942l1 9M1219 854l4 5M1226 960l-1 5M1241 907l-3 15M1251 912l-0 15M1211 858l0 9" fill="none" stroke="rgb(111,111,111)" stroke-width="3" stroke-linecap="round"/>
<path d="M1207 829l-0 6M1230 909l-10 8M1191 819l8 10M1242 922l-1 6M1244 919l2 5M1236 938l-5 11M1229 930l2 12M1233 938l-3 14M1226 887l-3 10" fill="none" stroke="rgb(52,52,52)" stroke-width="3" stroke-linecap="round"/>
<path d="M1232 950l3 5M1230 940l5 8M1238 926l-2 7M1219 857l8 9M1242 934l-5 8M1204 815l-3 15M1215 863l6 15M1246 914l-7 12M1238 948l-3 15M1231 911l3 8" fill="none" stroke="rgb(146,146,146)" stroke-width="3" stroke-linecap="round"/>
<path d="M1213 830l1 10M1223 895l9 12M1232 883l-0 5M1200 830l4 9M1238 915l7 10M1237 904l-10 11M1250 927l-4 11M1233 869l-8 6M1235 909l-5 4M1238 942l-5 7M1240 914l0 16M1234 937l4 6M1211 834l3 11M1221 865l-0 14M1237 949l-2 12M1243 915l5 13M1227 890l1 5M1227 893l-2 12M1226 891l-9 7M1211 828l-6 13" fill="none" stroke="rgb(89,89,89)" stroke-width="3" stroke-linecap="round"/>
<path d="M1237 914l3 4M1252 947l-13 10M1227 884l-1 6M1247 921l7 8M1205 819l-1 7M1237 913l-3 7M1217 840l-4 8M1219 867l1 8M1208 838l-2 9M1230 949l-6 5M1226 853l-7 14" fill="none" stroke="rgb(159,159,159)" stroke-width="3" stroke-linecap="round"/>
<path d="M1230 952l-4 4M1217 843l4 7M1223 862l-2 10M1218 894l-3 15M1232 870l0 11M1207 846l11 11M1213 834l-1 15M1213 832l-1 7M1232 955l2 6M1240 914l-6 14M1246 917l-2 11M1244 918l-5 14M1196 820l4 7M1214 832l-2 13M1212 840l4 8M1230 961l-5 3" fill="none" stroke="rgb(134,134,134)" stroke-width="3" stroke-linecap="round"/>
<path d="M1224 953l-3 12M1220 953l2 12M1242 913l-1 6M1245 919l9 13M1215 854l-8 8M1234 960l-10 7M1246 947l-1 6M1242 927l-11 7M1232 902l-8 12M1243 911l-4 10" fill="none" stroke="rgb(188,188,188)" stroke-width="3" stroke-linecap="round"/>
<path d="M1241.5 969 L1231.5 979 L1226.5 991.5 L1231.5 1006.5 L1236.5 1019 L1244 1029 L1247.8 1044 L1244 1059 L1219 1049 L1226.5 1054 L1234 1064 L1214 1059 L1214 1074 L1209 1086.5 L1206.5 1099 L1211.5 1109 L1201.5 1116.5 L1191.5 1124 L1186.5 1134 L1189 1144 L1176.5 1141.5 L1164 1134 L1154 1141.5 L1149 1154" fill="none" stroke="rgb(146,146,146)" stroke-width="92.0" stroke-linecap="round" stroke-linejoin="round"/>
<path d="M1123 1110l-0 12M1189 1140l-2 5M1190 1133l-6 6M1177 1081l3 12M1149 1108l3 13M1212 1058l-4 3M1146 1113l-12 9M1238 1027l-6 6M1175 1090l-5 4M1242 1036l-8 3M1128 1116l-9 6M1139 1134l-5 3M1183 1100l-0 6M1166 1122l-6 8M1205 991l-8 8M1218 1050l-7 9M1205 1040l-1 8M1201 981l-5 5M1223 1007l3 5M1206 995l-2 10M1135 1132l-5 9M1153 1136l-5 4M1207 1048l4 15M1198 1036l-4 13M1198 1038l-6 5M1215 1015l-2 5M1177 1105l-3 13M1224 1021l-4 3M1234 1017l-5 3M1187 1110l-6 4M1196 989l6 11M1215 1037l-4 5M1185 1098l-9 5M1199 1097l2 9M1185 1075l-4 8M1207 1014l-4 5M1198 1065l1 12M1158 1116l-1 12M1178 1056l-3 6M1217 968l-2 11M1140 1122l-2 9M1179 1070l-9 3M1199 1088l-11 5M1212 983l-9 8M1184 1083l-7 14M1161 1114l-12 3M1170 1118l-1 6M1192 983l-6 5M1165 1122l-2 8M1214 982l-4 4M1188 1073l2 8M1238 1037l-12 9M1162 1119l-5 14M1204 1000l3 11M1167 1098l-2 9M1145 1130l-12 5M1206 1096l-7 2M1194 1065l1 11M1140 1133l-8 4M1220 1047l4 9M1217 960l6 13M1205 1074l-7 4M1211 1041l4 14M1192 991l3 10M1185 1040l5 12M1143 1121l-11 9M1124 1119l-8 6M1189 1054l-8 13M1167 1126l-8 1M1168 1104l-11 8M1206 1110l-4 6M1222 997l3 14M1145 1145l-3 5M1142 1118l-7 11M1208 1024l-4 12M1195 1107l-9 9M1218 966l-3 5M1228 1052l-4 3M1187 1089l-2 11M1199 1006l-0 9M1182 1060l3 7M1195 987l1 14M1127 1125l-12 5M1131 1125l-8 11M1204 1087l-13 4M1198 961l-1 7M1227 1007l-6 10M1187 1043l3 6M1179 1063l2 11M1195 959l-5 11M1179 1135l-8 4M1171 1109l-0 11M1192 1106l-1 10M1178 1085l-5 10M1136 1138l-4 5M1196 962l0 5M1170 1099l-4 6" fill="none" stroke="rgb(89,89,89)" stroke-width="5" stroke-linecap="round"/>
<path d="M1184 1101l-0 8M1197 975l-10 9M1180 1108l0 14M1202 966l-1 7M1165 1131l-9 7M1189 1057l-3 8M1209 997l5 12M1233 1011l-7 10M1208 1003l5 9M1192 958l1 9M1165 1106l-8 12M1146 1142l-4 15M1186 1051l-1 7M1158 1140l-8 3M1204 1047l-9 4M1216 997l-4 9M1174 1118l-4 7M1208 960l4 5M1146 1122l2 10M1216 1046l-5 4M1231 976l-7 10M1151 1104l2 13M1208 1044l-8 11M1184 1059l4 15M1246 1050l-4 12M1183 1094l-1 11M1154 1130l-3 10M1166 1105l2 15M1197 983l-11 9M1205 1052l-10 6M1202 1042l-2 8M1215 1055l-7 3M1224 1044l2 6M1220 1003l3 7M1206 1066l-2 6M1177 1129l-7 8M1190 1030l-1 13M1219 1044l-8 11M1204 966l3 6M1147 1117l-14 7M1129 1119l2 11M1214 1012l-1 10M1187 1136l-5 10M1217 1016l-5 3M1207 1051l-11 7" fill="none" stroke="rgb(188,188,188)" stroke-width="5" stroke-linecap="round"/>
<path d="M1179 1127l1 8M1185 976l6 10M1220 1046l-5 5M1157 1123l1 12M1171 1131l-4 10M1226 1051l1 15M1199 1001l-3 5M1197 1112l2 5M1239 1033l-0 6M1213 1002l-5 14M1184 1031l3 10M1225 1059l-0 6M1189 1052l-7 3M1204 1064l-7 11M1246 1043l-9 6M1216 1034l-2 11M1205 1101l4 13M1213 1042l-1 12M1215 974l3 10M1172 1125l-6 13M1223 983l3 10M1170 1075l-6 5M1222 1007l-5 6M1160 1117l-13 6M1223 1056l3 7M1166 1126l0 7M1211 999l-1 10M1156 1116l-13 8M1183 1048l-6 6M1201 1117l-5 3M1229 1013l-2 9M1232 1011l-7 11M1143 1129l-5 7M1210 997l6 14M1169 1125l-8 13M1160 1124l-3 11M1202 1067l-9 3M1137 1128l-2 6M1212 961l-1 15M1153 1124l-1 6M1151 1121l-5 8M1189 1068l-5 2M1178 1097l-1 8M1203 1042l-4 15M1203 1040l2 5M1160 1127l0 7M1215 991l-2 6M1219 1044l-6 8M1213 1099l-15 4M1222 1037l-7 7M1203 968l2 9M1163 1128l-8 3M1214 1108l-11 6M1191 1099l-3 6M1197 1040l-10 3M1234 1010l-12 6M1199 989l-3 6M1202 1052l3 9M1217 977l2 7M1224 1044l-8 12M1178 1129l-10 4M1175 1079l-8 5M1245 1039l-5 3M1240 1029l2 5M1244 1049l-3 15M1156 1124l1 8M1131 1127l1 5M1162 1111l-3 5M1223 1000l1 9M1204 1105l-7 2M1145 1114l-0 12M1193 1098l-8 3M1169 1097l-7 12M1205 1112l-5 1M1209 1057l-8 14M1243 1053l-7 8M1224 978l-7 4M1156 1102l-5 5M1188 1137l-8 5M1202 967l-13 6M1192 1128l-11 2M1203 1098l-1 9M1171 1092l-0 12M1211 981l-7 3M1228 1056l-13 7M1210 1085l-7 2M1136 1116l-3 7M1198 1077l3 14M1173 1132l-6 3M1205 1043l-7 13M1168 1127l-6 4M1211 1058l-7 4M1144 1131l-11 3M1234 969l-2 12M1156 1096l-1 7M1215 1053l-11 4M1198 1058l-12 4M1216 1043l3 14M1173 1064l-1 15M1193 1071l-8 5M1217 1050l-3 10M1196 1036l2 11M1157 1119l-10 11M1171 1103l1 8M1148 1135l1 7M1122 1127l-1 6M1164 1122l-14 7M1194 969l-5 6M1160 1122l-7 10M1193 1090l-1 9M1201 1005l-4 5M1191 1140l-9 5M1162 1118l-3 9M1146 1134l-5 8M1220 1019l-13 8M1162 1111l-2 14M1183 1118l1 9" fill="none" stroke="rgb(111,111,111)" stroke-width="5" stroke-linecap="round"/>
<path d="M1214 1020l2 6M1220 1038l-3 11M1252 1044l-14 7M1186 1129l-4 14M1205 1001l-1 13M1188 1115l-5 6M1220 1022l-5 11M1238 1049l-9 11M1239 1025l-8 9M1179 1035l2 14M1190 1110l3 10M1157 1122l-0 5M1180 1106l-3 14M1196 1046l-0 6M1234 1015l-3 5M1187 1058l-1 10M1219 964l-6 4M1130 1133l-3 9M1219 1047l-1 5M1193 1123l-11 3M1199 1077l-4 4M1210 1038l2 15M1182 1043l-2 11M1233 1020l-7 8M1196 1039l3 9M1144 1122l-5 5M1168 1131l-4 3M1167 1129l1 8M1193 989l-4 4M1203 1039l3 8M1233 1008l-7 7M1220 1044l-10 6M1204 1085l-0 6M1162 1122l1 8M1222 995l-11 10M1150 1118l1 11M1210 1093l-8 10M1223 1048l-13 7M1197 1002l-1 7M1174 1089l-12 10" fill="none" stroke="rgb(159,159,159)" stroke-width="5" stroke-linecap="round"/>
<path d="M1210 1064l-4 3M1206 1041l2 5M1226 1057l-4 5M1215 965l-5 12M1201 1036l1 9M1179 1082l-2 8M1202 992l-1 8M1221 1043l-13 7M1198 1044l-6 2M1204 1095l4 11M1182 1128l-7 2M1199 1101l2 14M1230 1060l1 6M1184 1031l2 10M1197 1035l-5 7M1200 1099l-7 7M1188 1041l1 7M1212 1043l-3 4M1187 1064l-4 15M1230 1017l-9 6M1184 1101l-9 2M1199 1090l-0 13M1198 1042l3 12M1187 1051l-11 11M1200 1069l-10 4M1191 976l1 9M1158 1129l-6 4M1224 1046l-9 5M1213 996l-3 14M1235 1040l4 9M1214 1054l-0 8M1161 1112l-0 7M1227 972l-4 14M1133 1108l-13 2M1202 999l-5 12M1147 1118l-3 6M1180 1066l-5 10M1217 1008l-5 14M1194 1120l-11 7M1195 1048l-5 5M1159 1117l-7 2M1198 1043l-5 3M1187 1045l3 15M1195 1042l-7 14M1195 1098l0 6" fill="none" stroke="rgb(52,52,52)" stroke-width="5" stroke-linecap="round"/>
<path d="M1195 1037l3 12M1159 1093l0 10M1179 1040l2 5M1240 1022l1 11M1204 987l-3 6M1168 1123l-9 4M1209 1093l-8 13M1134 1135l-3 4M1215 1106l-9 2M1159 1119l-14 7M1179 1132l-12 6M1195 1085l-8 11M1192 1113l-2 6M1195 1104l2 16M1200 989l1 15M1212 1002l-4 8M1196 1037l2 5M1189 1042l-11 3M1235 1024l-7 6M1170 1125l-15 2M1214 1036l4 12M1213 961l-12 7M1200 1045l3 12M1225 983l2 7M1148 1116l-4 5M1154 1109l-3 9M1215 1006l-1 15M1221 1012l-6 14M1225 994l-11 7M1206 967l-3 8M1206 1051l-10 4M1142 1131l-2 7M1218 1053l-0 10M1175 1116l-4 11" fill="none" stroke="rgb(146,146,146)" stroke-width="5" stroke-linecap="round"/>
<path d="M1183 1060l-6 2M1193 1109l-4 6M1175 1059l-5 3M1234 966l8 11M1123 1115l-2 10M1184 1029l-8 5M1190 1120l-4 9M1146 1126l-5 6M1240 1022l3 10M1169 1054l5 11M1177 1120l2 14M1161 1118l-3 4M1151 1119l3 15M1195 1111l-7 3M1231 1048l-6 8M1205 1048l-11 4M1189 1101l-2 8M1219 1046l4 10M1199 1115l-13 4M1161 1131l-8 1M1225 980l-4 4M1208 984l-8 11M1162 1094l-2 14M1190 1129l-6 5M1199 1057l-0 9M1202 1100l-3 5M1214 1045l-7 4M1199 1096l-1 5M1129 1112l-8 9M1237 966l3 10M1222 1055l-10 10M1133 1118l-9 6M1216 1020l6 12M1204 1047l-4 12M1227 1056l0 10M1162 1104l-1 15M1231 1021l-13 7M1138 1110l0 12M1203 1011l-1 8M1190 1063l3 8M1209 979l-9 12M1173 1084l1 13M1150 1104l-2 8M1236 1030l-2 6M1196 1113l-12 10M1148 1129l-11 3M1184 1129l-6 6M1152 1135l-14 6M1215 1081l-12 10M1186 1083l-5 5M1199 957l-1 5M1190 1078l-6 4M1193 1091l-2 13M1232 1011l-8 6M1226 981l-3 10M1143 1115l-6 3M1151 1111l-2 11M1215 1013l-9 4M1233 1035l-10 7M1199 1032l0 15M1190 965l-0 10M1168 1061l3 10M1191 1059l-5 6M1117 1115l1 7M1184 1042l-5 9M1223 1044l-9 4M1176 1132l-12 8M1184 1048l3 12M1208 1084l-9 5M1235 1029l-11 10M1218 966l-11 8M1203 1045l-1 10" fill="none" stroke="rgb(134,134,134)" stroke-width="5" stroke-linecap="round"/>
<path d="M1203 1047l-9 6M1175 1041l2 7M1209 1062l-14 4M1198 1039l-8 7M1182 1085l-5 4M1159 1135l-9 10M1190 989l0 10M1179 1101l-4 5M1162 1124l-7 1M1225 965l1 12M1164 1085l3 16M1188 1078l-3 15M1190 1044l1 9M1188 1089l-6 5M1175 1069l2 10M1204 1044l-4 6M1215 1007l-1 12M1193 1054l-11 8M1193 1043l3 7M1152 1120l3 12M1131 1132l-14 5M1243 1052l-11 9M1208 1044l1 6M1246 1026l-10 8M1152 1112l-7 12M1162 1125l-7 9M1196 1034l-10 6M1219 1051l-3 5M1176 1052l1 10M1162 1104l-3 9M1228 977l-8 14M1167 1132l1 8M1166 1128l-4 10M1238 964l-3 11M1190 1112l-2 5M1126 1121l-4 11M1221 1027l-5 8M1234 1006l-8 8M1217 1046l3 9M1185 1113l-7 9M1204 985l-3 14M1195 983l-2 7M1198 1047l-4 6M1184 1041l1 9M1228 996l-9 7M1153 1117l-12 10M1119 1116l-4 4M1189 1120l-5 14M1209 1032l-10 10M1202 1036l-5 11M1177 1132l-1 12M1204 971l-5 6M1196 1071l-5 9M1199 955l6 14M1249 1041l-6 8M1179 1100l-10 4M1217 1004l-5 15M1168 1075l-4 4M1201 1058l-10 3M1217 996l-9 12M1117 1119l2 8M1213 1105l-7 9M1213 1024l-5 4M1243 1029l-2 7M1178 1056l-2 11" fill="none" stroke="rgb(89,89,89)" stroke-width="3" stroke-linecap="round"/>
<path d="M1133 1127l-8 2M1190 1124l-5 3M1217 1016l-3 6M1193 1078l0 7M1219 1014l-3 14M1216 1045l-8 3M1127 1123l-3 11M1184 1099l-5 5M1204 993l-5 9M1164 1124l-8 13M1223 977l-10 9M1223 1033l-15 5M1196 1044l-2 5M1227 1055l-1 12M1208 1047l-4 10M1201 1034l6 15M1169 1125l-8 12M1165 1088l-3 14M1169 1112l-2 5M1192 1077l-4 8M1142 1127l-3 5M1184 1051l-8 9M1204 1035l-7 12M1192 1056l4 12M1198 1037l-9 6M1207 1052l-9 6M1219 1072l-15 5M1185 1071l-9 7M1210 975l-4 4M1148 1116l-4 9M1241 1019l-14 6M1195 1102l-4 11M1187 1051l-5 11M1188 986l3 9M1150 1138l-13 8M1211 967l2 6M1179 1039l-1 12M1222 977l3 7M1209 965l-6 4M1184 1076l-3 9M1166 1116l3 13M1171 1133l-4 5M1132 1131l-6 8M1156 1122l2 12M1177 1079l1 16M1226 961l-3 8M1206 995l-14 6M1193 1039l-0 7M1205 960l-5 4M1233 1060l-9 4M1207 969l-3 7M1199 1092l4 14M1214 1041l0 7M1196 1088l-5 9M1193 1060l3 7M1244 1045l3 11M1140 1109l-9 9M1184 1129l2 9M1204 1099l-7 2M1223 1035l1 6M1164 1115l-5 10M1127 1110l-11 7M1201 994l-5 12M1170 1127l-6 3M1177 1135l-6 1M1210 1039l-6 11M1217 1010l-10 5M1167 1131l-5 5M1186 1112l-3 10M1145 1117l-8 2M1156 1122l-11 10M1174 1078l-11 4M1190 1065l-1 6M1225 992l-9 5M1233 1013l-5 15M1173 1073l-0 8M1230 1029l-2 10M1221 991l2 14M1159 1114l-0 6M1170 1130l2 8M1216 971l7 12M1223 988l-6 4M1195 1079l-9 3M1209 1075l-14 6M1205 1010l2 9M1231 1046l1 15M1181 1044l3 9M1144 1114l-7 6M1163 1131l-5 6M1172 1122l-7 1M1175 1120l1 14M1185 1081l-6 10M1167 1107l-5 4M1229 979l-3 8M1207 1041l-6 2M1214 1038l-2 8M1132 1127l-6 8M1232 1037l-2 8M1230 998l-5 7M1205 1037l3 16M1194 983l-12 8M1204 993l-5 4M1185 1049l-11 7M1195 1097l2 6M1198 979l-0 7M1179 1025l-3 12M1157 1091l-1 15M1177 1116l-5 7M1153 1145l-6 7M1216 995l-3 10M1195 1041l2 10M1206 1004l-11 10M1237 1047l2 7M1162 1115l-8 9M1199 1053l2 6M1196 1099l0 9M1152 1120l-6 5M1193 959l7 14M1153 1109l2 14M1223 1037l4 12M1182 1031l2 6M1209 1048l2 5M1231 993l-6 11M1191 1081l-8 11M1193 976l1 6M1210 1052l1 7" fill="none" stroke="rgb(111,111,111)" stroke-width="3" stroke-linecap="round"/>
<path d="M1149 1118l-8 2M1210 1045l1 6M1228 1013l3 9M1230 1029l-0 5M1182 1028l4 13M1200 1095l-5 10M1199 1034l0 14M1183 1036l-2 14M1130 1107l-11 7M1204 1094l-11 10M1145 1134l-1 8M1162 1124l-3 4M1125 1129l-13 2M1213 1012l-9 4M1151 1121l-5 4M1182 1071l2 12M1195 1039l1 7M1182 1135l-10 7M1228 1037l4 14M1186 1117l-3 6M1204 996l-2 12M1204 1036l-10 8M1166 1115l-3 7M1231 968l5 13M1219 1045l4 10M1205 1051l-7 2M1124 1112l1 9M1173 1107l-12 7M1158 1101l0 10M1146 1143l-4 10M1220 995l-2 7M1240 1024l-8 9M1181 1055l-1 10M1238 1037l-1 13M1223 988l-5 4M1225 1048l-8 6M1126 1111l-4 5M1184 1030l1 11M1199 990l-11 9M1202 1035l-7 12M1199 1090l-13 3M1186 1059l-0 6M1238 1023l-4 4M1212 983l1 6M1167 1103l-6 9M1213 1044l-13 7M1152 1123l-1 9M1206 1077l-7 14M1210 1026l-7 6M1174 1100l-14 6M1176 1084l-2 10M1205 1007l3 14M1197 1071l1 11M1178 1093l-11 11M1159 1106l-0 10M1204 1039l3 7M1168 1124l1 7M1187 1079l3 14M1132 1119l-11 9M1229 1050l-5 3M1242 1022l0 10M1226 966l5 9M1182 1138l-7 3M1165 1098l-6 6M1116 1115l1 5" fill="none" stroke="rgb(134,134,134)" stroke-width="3" stroke-linecap="round"/>
<path d="M1135 1121l-6 3M1206 1006l-11 4M1206 1032l-5 3M1178 1134l-2 5M1216 1010l-11 8M1188 973l1 11M1173 1061l-7 11M1183 1100l-10 5M1219 1036l-1 12M1211 1052l1 5M1124 1113l-13 9M1185 1092l-5 4M1163 1128l-5 6M1186 1032l5 10M1186 1098l-3 6M1172 1039l1 10M1235 972l-3 6M1210 1038l-8 12M1234 1049l-1 11M1191 1061l-11 3M1201 1032l6 13M1191 1061l-5 9M1224 987l-6 7M1215 1071l-8 2M1206 1038l-7 8M1163 1121l-2 11M1178 1078l-3 14M1212 1018l-4 5M1190 976l4 9M1233 1055l-2 16M1215 1056l-9 6M1206 1039l-10 4M1222 1010l-3 6M1212 1016l-5 14M1218 1049l-9 3M1184 1030l-1 8M1220 1038l2 11M1158 1124l-6 10M1219 992l1 11M1212 1043l-2 6M1219 1028l-1 5M1196 1118l-5 5M1160 1129l-0 6" fill="none" stroke="rgb(146,146,146)" stroke-width="3" stroke-linecap="round"/>
<path d="M1149 1129l-11 11M1211 1106l-12 3M1251 1036l-10 10M1216 1035l-6 10M1198 972l-7 4M1198 1099l2 8M1119 1126l-0 8M1187 1122l-9 4M1246 1055l-11 5M1171 1130l-0 9M1196 1120l-13 7M1211 977l-6 5M1156 1116l-5 9M1228 1043l-3 13M1199 1084l4 12M1186 1089l-10 7M1202 1045l5 11M1145 1144l-4 5M1191 1095l2 9M1133 1118l-7 3M1176 1118l-6 6M1217 1053l0 12M1224 961l-10 11M1177 1099l1 8M1192 1071l-10 10M1196 1000l2 15M1129 1115l-8 10M1176 1086l-1 12M1232 1053l-11 6M1212 1048l-14 5M1204 1037l-6 11M1177 1047l-6 5M1213 1005l-1 6M1153 1139l-13 5M1180 1138l-4 6M1202 1089l-9 11M1171 1095l2 9M1222 1049l-5 6M1159 1088l4 13" fill="none" stroke="rgb(52,52,52)" stroke-width="3" stroke-linecap="round"/>
<path d="M1140 1109l1 15M1198 1037l-1 5M1181 1108l-1 9M1222 989l-3 7M1184 1114l-10 7M1240 1019l-14 6M1233 1016l1 8M1208 1002l-4 7M1176 1064l-6 10M1218 975l0 6M1143 1128l-8 1M1221 997l6 11M1213 1070l2 6M1188 1131l-7 8M1177 1078l-13 7M1215 1066l-7 14M1230 1009l0 11M1152 1121l1 11M1190 1030l2 15M1149 1138l2 14M1231 1057l-2 7M1196 1089l2 10M1212 1040l5 15M1139 1132l-5 14M1201 1036l-1 15M1217 977l-5 4M1248 1029l-10 8M1163 1124l-7 14M1203 1002l2 15M1187 1099l-12 6M1164 1125l-1 8M1222 1030l-4 15M1155 1120l-0 7M1125 1110l-5 6M1211 1076l-1 9M1158 1141l-14 4M1216 1008l2 9M1169 1090l-1 13M1162 1096l-5 1M1183 1029l3 11M1130 1121l-12 9M1208 1054l-6 8M1200 1035l2 14M1209 1046l-1 8M1192 1122l-11 10M1172 1117l-12 7M1162 1134l-4 3M1174 1077l-7 6M1165 1109l-10 7M1195 1108l-2 10M1143 1113l-10 4M1205 1069l-15 4M1239 1024l4 13M1212 1040l-5 3M1186 960l6 15M1193 963l4 8M1164 1101l-6 8M1143 1120l-14 7M1222 1045l-0 10" fill="none" stroke="rgb(159,159,159)" stroke-width="3" stroke-linecap="round"/>
<path d="M1187 1028l-4 15M1199 966l1 5M1200 1111l1 11M1151 1139l-4 6M1171 1107l-9 6M1236 1018l1 5M1126 1118l-11 10M1156 1136l-5 9M1202 1008l-6 3M1121 1127l-9 1M1182 1060l1 6M1222 999l2 11M1198 1107l-6 4M1200 1083l-5 9M1201 1072l-2 8M1209 1085l-2 8M1245 1031l-4 6M1178 1108l2 10M1182 1122l-9 7M1207 982l3 6M1148 1103l1 12M1203 1037l-0 11M1187 1113l-6 9M1183 1136l-7 6M1190 1132l-7 5M1245 1036l4 10M1153 1120l-2 12M1207 966l3 10M1231 1029l2 13M1177 1120l-5 10M1213 1033l-4 12M1228 971l-6 8M1142 1116l1 6M1184 1090l-4 11M1225 1027l-5 7M1190 970l-1 8M1168 1102l-3 9M1196 1110l-10 3M1234 1015l3 16M1207 1003l-4 8M1126 1120l-4 15M1206 1037l-11 8M1165 1124l-3 14M1132 1120l-4 9M1203 974l-7 6M1200 1115l-6 6M1212 1053l-5 5M1125 1106l-1 10M1221 1011l-5 4M1172 1129l-15 2M1211 1045l-4 14M1143 1116l1 15M1216 1042l3 13" fill="none" stroke="rgb(188,188,188)" stroke-width="3" stroke-linecap="round"/>
<path d="M1116 1148l-1 5M1100 1186l-9 13M1054 1227l-6 4M1111 1173l-8 13M1129 1154l-9 8M1005 1220l-3 9M1142 1165l-5 6M1018 1217l-14 -0M1032 1221l-14 6M1123 1153l-2 6M1052 1224l-6 4M1131 1154l-8 6M1015 1225l-4 5M1132 1137l2 13M1116 1174l-7 6M1137 1159l-8 12M1110 1139l-2 12M1101 1191l-7 14M1063 1239l-11 7M1084 1202l-14 6" fill="none" stroke="rgb(134,134,134)" stroke-width="5" stroke-linecap="round"/>
<path d="M1122 1152l-5 2M1137 1161l-4 8M1135 1154l-11 2M1019 1227l-9 10M1020 1220l-14 4M1147 1167l-5 13M1095 1179l-2 9M1128 1147l-3 9M1108 1148l-7 5M1047 1224l-7 10M1132 1152l-8 8M1071 1213l-9 2M1102 1133l-5 11M1064 1216l-6 -1M1137 1156l-6 4M1074 1204l-10 12M1103 1135l-8 6M1060 1220l-1 14M1145 1153l-15 2M1146 1150l-15 2M1118 1148l-0 8M1129 1156l0 9M1129 1153l-8 4M1123 1151l-7 1M1077 1200l-2 9M1097 1138l-1 7M1057 1228l-7 7M1138 1161l-7 6" fill="none" stroke="rgb(89,89,89)" stroke-width="5" stroke-linecap="round"/>
<path d="M1151 1158l-14 8M1053 1214l-11 9M1012 1222l-14 2M1005 1232l-9 7M1055 1229l-5 6M1032 1222l-3 8M1106 1139l-10 3M1140 1150l-1 14M1098 1175l-3 10M1010 1216l-4 5M1104 1192l-13 7M1133 1154l-3 7M1063 1207l-7 5M1098 1144l-4 3M1085 1187l-5 3M1009 1232l-7 10M1024 1221l-1 12M1093 1181l-2 12M1034 1229l-5 1M1078 1212l-10 3M1148 1172l-5 4M1026 1228l-14 5" fill="none" stroke="rgb(52,52,52)" stroke-width="5" stroke-linecap="round"/>
<path d="M1105 1146l-8 2M1072 1208l-11 5M1099 1148l-3 11M1105 1142l2 12M1134 1138l2 10M1143 1165l-4 9M1143 1169l-6 1M1058 1216l-11 5M1016 1230l-11 8M1023 1220l-3 10M1142 1158l-8 8" fill="none" stroke="rgb(159,159,159)" stroke-width="5" stroke-linecap="round"/>
<path d="M1115 1140l-4 15M1024 1221l-11 8M1105 1175l-7 10M1018 1219l-12 9M1018 1230l-7 8M1103 1188l-6 5M1049 1223l-6 -0M1148 1159l-12 7M1058 1229l-11 8M1053 1227l-2 12M1064 1211l0 7M1013 1211l-4 15M1047 1227l-5 4M1131 1156l-1 9" fill="none" stroke="rgb(146,146,146)" stroke-width="5" stroke-linecap="round"/>
<path d="M1134 1152l-3 6M1058 1221l-12 8M1017 1229l-6 6M1132 1150l-0 9M1012 1229l-15 1M1110 1171l-11 11M1009 1224l-3 6M1051 1221l-9 4M1145 1168l-14 1M1084 1184l-8 2M1007 1233l-8 -2M1147 1165l-11 11M1117 1147l-10 7M1134 1155l-8 13M1110 1183l-10 10M1085 1185l-10 -0M1050 1219l-4 11M1022 1219l-6 6M1093 1183l-10 9M1103 1189l-7 11M1053 1237l-14 -3M1137 1149l-9 11M1102 1165l-5 7M1011 1221l-14 3M1149 1169l-14 3M1096 1149l0 8M1134 1155l-13 3M1135 1152l-4 6M1062 1224l-7 4M1102 1186l-5 3M1018 1222l-6 -0M1027 1220l-6 13M1141 1157l-12 2M1132 1160l1 8M1141 1167l-6 2M1067 1213l-14 2M1145 1157l-9 2" fill="none" stroke="rgb(111,111,111)" stroke-width="5" stroke-linecap="round"/>
<path d="M1087 1183l-10 9M1073 1209l-10 -1M1055 1227l-2 16M1073 1195l-4 10M1105 1171l2 14M1104 1147l-9 13M1109 1151l1 6M1110 1149l-11 10" fill="none" stroke="rgb(188,188,188)" stroke-width="5" stroke-linecap="round"/>
<path d="M1108 1141l-4 14M1043 1223l-1 15M1143 1167l-6 6M1137 1153l-12 4M1015 1225l-4 9M1049 1230l-6 13M1143 1167l-6 5M1082 1204l-9 0M1097 1169l-3 8M1134 1156l-15 5M1144 1160l0 10M1052 1232l-5 2M1023 1224l-10 10M1146 1167l-16 1M1098 1195l-9 6M1107 1178l-12 4M1055 1227l-2 13M1071 1191l-4 10M1092 1189l-10 6M1093 1186l-1 11M1079 1189l-9 2M1130 1147l-4 13M1053 1229l-6 -0M1009 1214l-8 11M1095 1188l-12 8M1025 1229l-7 4M1087 1180l-0 13M1091 1186l-8 12M1101 1184l-2 11M1027 1230l-5 4" fill="none" stroke="rgb(134,134,134)" stroke-width="3" stroke-linecap="round"/>
<path d="M1124 1147l-10 6M1079 1201l-0 15M1119 1173l-13 4M1050 1221l-6 9M1149 1155l-7 4M1092 1190l-4 4M1079 1211l-11 6M1131 1156l2 14M1142 1162l-10 8M1080 1199l-8 4M1104 1151l-3 9M1114 1173l-10 10M1139 1150l-14 7M1105 1172l-7 8M1140 1162l-0 13M1131 1153l-7 5M1093 1194l-10 -0M1097 1187l-8 5M1077 1220l-7 -1M1059 1236l-6 13M1099 1181l-8 1M1109 1140l-1 9M1101 1176l-7 12M1116 1174l-13 4M1138 1164l-5 4M1013 1236l-12 3M1009 1235l-7 11M1080 1182l-8 7M1116 1181l-12 4M1088 1190l-6 2M1015 1244l-14 -2M1076 1193l-12 8M1079 1217l-14 6M1003 1229l-11 6M1074 1199l-2 14M1096 1188l-1 9M1086 1192l-7 0M1060 1212l-8 14M1046 1230l-4 4M1068 1200l-1 6M1007 1222l-8 7M1098 1132l-2 15M1019 1229l-12 7M1088 1187l-12 1M1077 1195l-0 15M1089 1187l-4 11M1105 1172l-13 1M1022 1228l-3 8M1144 1149l-13 1" fill="none" stroke="rgb(111,111,111)" stroke-width="3" stroke-linecap="round"/>
<path d="M1102 1148l-13 2M1135 1155l-8 10M1098 1187l-4 5M1145 1152l-3 13M1106 1191l-6 3M1020 1229l-14 -2M1127 1152l-1 14M1084 1183l-9 5M1077 1179l0 11M1112 1144l-8 1M1129 1155l-0 6M1016 1236l-6 4" fill="none" stroke="rgb(159,159,159)" stroke-width="3" stroke-linecap="round"/>
<path d="M1128 1152l-2 11M1017 1224l-9 9M1106 1170l-4 8M1109 1145l-3 6M1135 1148l-1 6M1006 1226l-6 11M1010 1224l-13 2M1111 1165l2 13M1029 1230l-9 0M1076 1214l-12 10M1107 1151l-13 9M1121 1150l-6 5M1142 1166l-8 1M1134 1158l-4 9M1073 1209l-0 8M1043 1226l-1 11M1149 1171l-13 1" fill="none" stroke="rgb(146,146,146)" stroke-width="3" stroke-linecap="round"/>
<path d="M1124 1148l-9 1M1085 1189l-5 14M1021 1221l-14 3M1134 1161l1 10M1082 1199l-14 8M1132 1153l-6 12M1129 1154l-4 11M1111 1165l-11 2M1102 1144l-10 9M1016 1217l-11 2M1009 1221l-10 8M1106 1146l-8 0M1103 1151l-10 11M1115 1182l-13 8M1074 1194l-3 10M1010 1236l-9 -2M1022 1223l-6 5M1096 1187l-12 3M1129 1151l-4 14M1039 1231l-6 7M1019 1226l-12 4M1137 1164l-2 5M1111 1143l-4 10M1080 1203l-10 11M1133 1154l-12 6M1111 1141l-8 6M1113 1161l-7 3M1102 1145l-3 5M1082 1207l-7 7M1099 1188l-4 7M1087 1180l-9 13M1130 1159l-6 0" fill="none" stroke="rgb(89,89,89)" stroke-width="3" stroke-linecap="round"/>
<path d="M1107 1189l-8 12M1086 1183l-9 12M1147 1154l-6 2M1150 1155l-7 12M1073 1186l-2 12M1072 1220l-5 1M1147 1169l-2 10M1093 1191l-13 2M1100 1141l-7 8M1101 1166l0 11" fill="none" stroke="rgb(188,188,188)" stroke-width="3" stroke-linecap="round"/>
<path d="M1102 1141l-1 8M1135 1155l-9 4M1092 1187l-15 1M1052 1222l-3 15M1085 1197l-6 9M1015 1232l-14 6M1096 1193l-14 4M1086 1182l-15 4M1108 1143l-10 6M1125 1149l-2 11" fill="none" stroke="rgb(52,52,52)" stroke-width="3" stroke-linecap="round"/>
<path d="M996 1268l-10 7M1003 1270l-10 6M951 1285l-7 2M1004 1297l-6 7M906 1325l-14 0M995 1268l-12 1M975 1289l-10 -1M838 1301l-4 5M923 1305l-8 2M830 1297l-7 12M846 1306l-9 11M942 1295l-8 4" fill="none" stroke="rgb(167,167,167)" stroke-width="5" stroke-linecap="round"/>
<path d="M1000 1268l-8 9M943 1293l-4 11M835 1302l-13 5M876 1313l-12 7M838 1300l-8 12M944 1296l-6 6M1000 1244l-9 7M1009 1286l-2 10M882 1316l-9 12M995 1292l-4 6M846 1310l-6 9M916 1309l-8 7M874 1317l-10 5M934 1302l-2 5M999 1283l-3 6M866 1315l-6 11M951 1290l-7 9M833 1303l-9 4M986 1290l-10 0M920 1303l-9 6M897 1315l-5 4M988 1258l-3 12M880 1328l-14 -3M994 1267l-7 2M1010 1284l-10 5M834 1300l-8 0M919 1310l-12 1M1002 1292l-8 12M1000 1296l-11 -0M909 1320l-15 5M921 1309l-7 -2M868 1317l-12 1M998 1278l-2 8M883 1310l-15 4M947 1293l-12 6M915 1318l-5 1" fill="none" stroke="rgb(188,188,188)" stroke-width="5" stroke-linecap="round"/>
<path d="M816 1290l-6 8M1010 1286l-8 3M854 1310l-6 6M1011 1297l-11 9M985 1285l-4 5M814 1294l-7 1M893 1316l-13 -2M970 1290l-3 10M997 1287l-9 7M857 1314l-14 3M997 1288l-10 2M1002 1258l-7 5M847 1309l-10 9M862 1327l-11 -3M963 1290l-7 10M919 1303l-3 5M1000 1235l-4 9M829 1291l-12 -1M886 1318l-7 9M987 1286l-3 15M927 1299l-10 -3M826 1291l-5 5M978 1294l-3 5M834 1300l-4 6M814 1286l-15 5M849 1312l-7 9M883 1316l-5 4M987 1289l-11 -2M989 1289l-3 11M1007 1279l-10 -2M993 1299l-16 1M826 1296l-7 -0M998 1258l-3 12M995 1297l-14 0M833 1293l-8 5M949 1283l-4 6M1000 1281l-10 -3M979 1290l-13 5M997 1252l-5 7M841 1294l-10 12M1003 1295l-10 2M923 1299l-9 0M825 1290l-9 7" fill="none" stroke="rgb(134,134,134)" stroke-width="5" stroke-linecap="round"/>
<path d="M887 1322l-9 2M995 1284l-12 4M995 1266l-5 7M1001 1260l-8 11M983 1287l-6 12M821 1291l-5 3M930 1297l-16 0M957 1293l-6 6M813 1285l-4 7M845 1305l-6 -1M975 1290l-11 4M885 1320l-5 4M813 1307l-10 -8M999 1295l-11 -0M940 1291l-6 6M872 1317l-14 -6M1001 1283l-7 -0M988 1257l-3 10M833 1295l-5 4M851 1310l-10 6M923 1306l-7 4M927 1307l-11 2M820 1296l-8 1M922 1317l-10 -3" fill="none" stroke="rgb(146,146,146)" stroke-width="5" stroke-linecap="round"/>
<path d="M974 1284l-2 7M1004 1238l-10 8M993 1286l-10 10M818 1297l-4 4M936 1306l-5 4M1006 1298l-5 4M892 1312l-6 -1M856 1318l-8 -4M852 1312l-10 -1M825 1291l-6 -2M887 1317l-5 3M1006 1276l-8 11M919 1299l-3 6M860 1322l-15 -6M949 1296l-4 4M1010 1302l-15 -2M859 1317l-5 9M818 1296l-4 -3M923 1301l-9 -4M834 1292l-12 3M925 1298l-5 7M897 1322l-6 0M999 1296l-5 -2M1002 1269l-8 -0M812 1308l-13 -8M817 1290l-9 3M919 1318l-5 2M1006 1284l-3 4M888 1319l-13 -7M869 1318l-3 6M865 1320l-3 4M966 1286l-9 -3M929 1303l-13 -4M828 1301l-14 1M839 1300l-8 -6M932 1289l-3 8M934 1288l-10 11M889 1312l-6 1M895 1312l-4 7" fill="none" stroke="rgb(159,159,159)" stroke-width="5" stroke-linecap="round"/>
<path d="M1005 1255l-8 12M975 1288l-9 -3M1014 1292l-13 -2M918 1305l-9 13M921 1305l-11 8M841 1301l-7 6M999 1266l-5 10M903 1322l-7 2M1002 1295l-10 8M1002 1275l-6 7M836 1301l-15 -1M999 1273l-8 11M829 1294l-13 -7M995 1272l-7 2M967 1289l-11 10" fill="none" stroke="rgb(111,111,111)" stroke-width="5" stroke-linecap="round"/>
<path d="M807 1294l-4 7M1002 1282l-12 -4M923 1303l-6 -2M871 1326l-5 3M998 1290l-10 11M857 1321l-7 6M849 1320l-9 -6M887 1310l-5 8M973 1292l-10 11M982 1287l-7 7M967 1297l-13 -2M926 1295l-11 10M985 1284l-10 6M864 1324l-16 -0M956 1288l-6 11M904 1319l-6 4M1008 1243l-10 1M930 1303l-12 7M961 1296l-12 1M847 1312l-12 -4M1007 1296l-8 1M893 1316l-4 10M840 1303l-9 6M1001 1272l-11 6M985 1286l-5 2M1005 1238l-8 2M878 1310l-11 5M976 1288l-15 2M910 1307l-9 8M961 1291l-13 -4M1001 1292l-11 0M980 1294l-8 8" fill="none" stroke="rgb(159,159,159)" stroke-width="3" stroke-linecap="round"/>
<path d="M999 1292l-13 -3M952 1288l-3 5M991 1294l-11 5M884 1319l-6 2M1007 1269l-10 1M854 1317l-7 -1M1002 1257l-11 4M867 1326l-15 2M809 1291l-5 5M873 1319l-7 -4M955 1292l-1 6M928 1297l-14 -1M843 1298l-10 7M844 1306l-13 -1M843 1303l-13 7M868 1326l-11 2M847 1319l-5 -2M807 1296l-8 -2M888 1315l-12 2M1005 1263l-5 6M1007 1280l-13 -0M884 1310l-9 7M933 1297l-7 2M862 1317l-8 6M999 1252l-5 7" fill="none" stroke="rgb(188,188,188)" stroke-width="3" stroke-linecap="round"/>
<path d="M813 1294l-7 6M898 1317l-9 3M840 1305l-14 2M853 1320l-6 -2M994 1285l-2 9M1001 1249l-2 6M1003 1253l-5 3M927 1312l-12 9M906 1322l-14 3M833 1294l-11 2M928 1303l-11 3M818 1302l-5 -2M826 1299l-6 9M839 1300l-3 6M947 1296l-5 -1M937 1292l-12 2" fill="none" stroke="rgb(167,167,167)" stroke-width="3" stroke-linecap="round"/>
<path d="M917 1305l-5 6M866 1311l-6 9M848 1302l-14 8M864 1320l-6 5M920 1315l-8 1M974 1288l-11 11M999 1281l-6 4M1003 1291l-2 8M931 1309l-13 1M867 1313l-7 6M1007 1269l-11 6M1004 1283l-10 10M951 1303l-11 -5M849 1316l-4 7M847 1303l-10 7M843 1310l-12 -8M891 1308l-3 8M1000 1291l-12 -1M993 1265l-10 1M923 1296l-4 4M838 1290l-9 9M874 1328l-8 -3M873 1322l-15 5" fill="none" stroke="rgb(111,111,111)" stroke-width="3" stroke-linecap="round"/>
<path d="M814 1304l-7 -5M847 1309l-15 -3M1000 1265l-6 4M850 1308l-14 7M824 1297l-11 -2M1003 1267l-5 5M852 1313l-10 -2M1006 1277l-13 -3M851 1321l-12 -5M819 1298l-9 0M980 1288l-4 11M1005 1254l-10 -2M821 1297l-14 -1M1004 1276l-12 5M819 1294l-13 -3M939 1296l-14 8M814 1296l-5 6M867 1314l-14 -2M970 1280l-8 12M890 1318l-6 7M861 1315l-8 6M997 1259l-4 7M993 1268l-7 5M913 1321l-6 2M998 1290l-7 2M893 1317l-7 -2M838 1303l-9 -1M964 1291l-12 9M847 1311l-7 -1" fill="none" stroke="rgb(134,134,134)" stroke-width="3" stroke-linecap="round"/>
<path d="M984 1293l-7 -1M961 1292l-3 7M837 1295l-8 6M991 1290l-7 0M996 1270l-4 5M850 1318l-5 5M977 1294l-13 -3M919 1314l-7 4M811 1292l-9 -5M868 1315l-8 2M839 1299l-9 11M830 1298l-14 -1M1000 1295l-6 6M963 1285l-7 4M1000 1261l-3 15M811 1308l-10 -6M870 1317l-14 -4M1002 1239l-2 12M833 1305l-8 -5M843 1307l-11 -4M1003 1266l-12 5M1005 1297l-5 8M1003 1272l-7 11M988 1287l-8 5M981 1298l-14 0M847 1313l-9 -7" fill="none" stroke="rgb(146,146,146)" stroke-width="3" stroke-linecap="round"/>
<path d="M588 1284l-11 5M616 1282l-8 -7M743 1244l-10 5M645 1285l-12 -9M757 1264l-12 -8M602 1282l-12 -2" fill="none" stroke="rgb(159,159,159)" stroke-width="5" stroke-linecap="round"/>
<path d="M690 1264l-5 2M796 1306l-10 6M699 1263l-6 -3M787 1301l-6 1M809 1307l-7 -3M778 1282l-7 -3M613 1278l-10 5M753 1256l-11 1" fill="none" stroke="rgb(188,188,188)" stroke-width="5" stroke-linecap="round"/>
<path d="M813 1295l-5 1M611 1280l-11 -1M750 1251l-4 3M646 1270l-8 5M677 1266l-13 -0" fill="none" stroke="rgb(167,167,167)" stroke-width="5" stroke-linecap="round"/>
<path d="M746 1246l-15 -2M770 1266l-16 0M590 1286l-6 0M702 1264l-9 -6M718 1267l-9 -4M738 1249l-9 -3M789 1293l-11 -1" fill="none" stroke="rgb(134,134,134)" stroke-width="5" stroke-linecap="round"/>
<path d="M623 1280l-9 2M703 1258l-6 0M791 1306l-14 -7M778 1278l-6 -4" fill="none" stroke="rgb(111,111,111)" stroke-width="5" stroke-linecap="round"/>
<path d="M640 1286l-12 -9M788 1285l-6 -1" fill="none" stroke="rgb(146,146,146)" stroke-width="5" stroke-linecap="round"/>
<path d="M732 1246l-6 7M751 1251l-14 -1M648 1266l-8 -6M781 1278l-8 -2M651 1263l-7 5M781 1284l-12 -3M704 1263l-11 -4M795 1303l-12 -6" fill="none" stroke="rgb(134,134,134)" stroke-width="3" stroke-linecap="round"/>
<path d="M672 1273l-10 -6M763 1258l-10 9M807 1303l-5 4M596 1287l-10 -11M628 1280l-13 9M736 1245l-12 -1M788 1298l-11 -0" fill="none" stroke="rgb(159,159,159)" stroke-width="3" stroke-linecap="round"/>
<path d="M781 1275l-11 -2M789 1285l-12 6M586 1285l-6 1M804 1306l-9 7M794 1305l-4 3M740 1251l-10 -5M746 1247l-5 4" fill="none" stroke="rgb(188,188,188)" stroke-width="3" stroke-linecap="round"/>
<path d="M808 1300l-8 12M649 1266l-9 -3M650 1261l-7 2" fill="none" stroke="rgb(167,167,167)" stroke-width="3" stroke-linecap="round"/>
<path d="M614 1278l-14 1M598 1280l-5 -1" fill="none" stroke="rgb(111,111,111)" stroke-width="3" stroke-linecap="round"/>
<path d="M631 1279l-8 4" fill="none" stroke="rgb(146,146,146)" stroke-width="3" stroke-linecap="round"/>
<path d="M565 1278l-7 -7M362 1087l-10 -6M334 1057l1 -8M347 1077l-6 -7M348 1028l-0 -6M357 1013l-6 -3M445 1236l-9 -4M383 1138l-7 -1M472 1254l-3 -6M378 1145l-5 -2M476 1246l-13 2M512 1281l-3 -7M570 1284l-9 -5M372 1190l-5 -6M378 1136l0 -8M372 1181l-12 -8M516 1281l-14 -5M466 1248l-7 -11M503 1272l-14 -5" fill="none" stroke="rgb(146,146,146)" stroke-width="5" stroke-linecap="round"/>
<path d="M390 1211l-4 -13M367 1174l-11 -3M403 1240l-3 -12M368 1128l2 -11M372 1194l-2 -10M370 1192l0 -8M341 1068l-1 -8M413 1240l-2 -11M513 1281l-10 -3M373 1166l-10 -9M497 1268l-8 2M362 1090l-6 -4M522 1273l-7 2M544 1285l-9 -10M491 1270l-9 1M360 1100l-8 -5M409 1234l-13 -3M517 1279l-6 -8M520 1275l-5 -8M353 1179l-1 -9M520 1278l-14 -3M350 1034l-7 -13M395 1210l-7 -2M331 1058l2 -10M369 1183l-4 -6M385 1137l-5 -13M543 1284l-10 -3" fill="none" stroke="rgb(159,159,159)" stroke-width="5" stroke-linecap="round"/>
<path d="M379 1194l0 -6M523 1275l-9 -10M470 1251l-6 -10M353 1022l-11 -8M363 1189l-3 -15M356 1083l-9 -1M387 1137l-12 -6M356 1095l-1 -11M411 1231l-11 -4M568 1278l-6 -2M394 1208l-5 -5M372 1167l-8 -13M415 1240l-2 -14M371 1176l-3 -8M383 1131l-7 -8M331 1062l-3 -13M419 1241l-1 -14M382 1136l1 -6M479 1260l-13 -8" fill="none" stroke="rgb(188,188,188)" stroke-width="5" stroke-linecap="round"/>
<path d="M346 1013l-7 -5M417 1235l-7 -9M583 1291l-11 -8M407 1233l-11 -11M430 1233l-15 -5M366 1167l-8 -2M353 1179l-6 -4M481 1265l-3 -5M349 1029l-1 -16M553 1283l-7 -8M357 1177l-13 0M376 1191l-6 -7M330 1060l-1 -10M382 1193l-5 -6M362 1165l-5 -2M403 1234l-1 -14M382 1130l-11 -11M361 1097l-3 -14M388 1228l-0 -8M479 1258l-6 -4M357 1015l-9 -4M486 1262l-10 2M337 1054l-3 -5M340 1081l0 -15M369 1109l-6 -9" fill="none" stroke="rgb(134,134,134)" stroke-width="5" stroke-linecap="round"/>
<path d="M480 1265l-6 -11M364 1089l-10 -9M372 1175l-8 -7M397 1222l-13 -7M354 1091l3 -12M379 1151l-5 -13M373 1161l-8 -3M517 1276l-2 -7M337 1068l1 -14" fill="none" stroke="rgb(111,111,111)" stroke-width="5" stroke-linecap="round"/>
<path d="M347 1082l-3 -10M576 1276l-12 6M471 1259l-4 -7M428 1237l-8 -6M392 1229l-7 -8M339 1053l-4 -7M335 1058l-1 -13M350 1035l-11 -11M483 1274l-3 -14M363 1091l-8 -8M447 1240l-2 -6M423 1231l-11 1" fill="none" stroke="rgb(167,167,167)" stroke-width="5" stroke-linecap="round"/>
<path d="M369 1164l1 -7M346 1068l-4 -4M344 1067l-8 -7M350 1018l3 -15M488 1269l-15 -2M490 1269l-4 -8M358 1110l-6 -13M394 1222l-7 -14M367 1110l-7 -2M430 1236l-13 -3" fill="none" stroke="rgb(167,167,167)" stroke-width="3" stroke-linecap="round"/>
<path d="M473 1261l-1 -5M384 1130l-11 -7M355 1109l-2 -15M329 1065l-5 -15M585 1282l-7 2M474 1257l-7 2M586 1288l-13 -1M461 1242l-6 -3M343 1048l-7 -13M552 1282l-12 -2M517 1276l-14 6M393 1230l-3 -8M347 1082l-6 -14M374 1116l-10 -5M376 1186l-12 -0" fill="none" stroke="rgb(159,159,159)" stroke-width="3" stroke-linecap="round"/>
<path d="M514 1283l-10 -8M347 1068l-7 -2M334 1059l-8 -4M330 1058l-5 -2M349 1034l-11 -10M477 1265l-7 -7M392 1228l-10 -0M562 1278l-14 -2M384 1139l-8 -3M380 1134l-7 -4M429 1230l-7 2M481 1264l-9 -12M338 1051l-4 -3M368 1157l-1 -8M520 1279l-13 -3M355 1103l-1 -9M341 1071l-3 -5M471 1247l-8 -5M381 1194l-5 -3M343 1078l-7 -11M347 1036l-7 -14" fill="none" stroke="rgb(146,146,146)" stroke-width="3" stroke-linecap="round"/>
<path d="M395 1223l-11 -2M384 1129l-6 -1M378 1147l-2 -6M350 1086l2 -8M368 1113l-7 -1M391 1216l-9 -12M339 1051l2 -16M361 1187l1 -8M436 1239l-8 -10M366 1170l-4 -7M337 1054l-12 -3M348 1049l-8 -8M480 1263l-8 -10M360 1101l-4 -13M382 1147l-13 -10M370 1180l-4 -10M381 1133l-5 -10M484 1268l-7 -3M363 1165l-3 -6M559 1281l-13 -5M395 1224l-11 1M448 1244l-7 -11" fill="none" stroke="rgb(134,134,134)" stroke-width="3" stroke-linecap="round"/>
<path d="M359 1112l-2 -14M342 1052l3 -13M368 1191l-7 -11M429 1235l-11 -1M458 1249l-2 -6M378 1162l-11 -11M349 1182l0 -8M338 1053l-6 -1M346 1044l-4 -4M364 1110l-8 -7M389 1199l-4 -8M516 1275l-12 4M384 1130l-12 -10M568 1282l-9 -5" fill="none" stroke="rgb(188,188,188)" stroke-width="3" stroke-linecap="round"/>
<path d="M360 1096l-9 -3M370 1185l-5 -1M579 1283l-16 1M360 1089l-4 -4M483 1270l-5 -7M395 1227l-10 -0M535 1283l-8 -2" fill="none" stroke="rgb(111,111,111)" stroke-width="3" stroke-linecap="round"/>
<path d="M344 955l-14 -7M338 1003l-7 -7M332 988l-3 -8M344 986l-11 -8M314 939l7 -9M342 1007l-6 -13M339 963l-6 -5M336 1015l4 -13M332 972l-6 -8M299 908l1 -7M337 971l-9 -11M337 968l-9 -8" fill="none" stroke="rgb(146,146,146)" stroke-width="5" stroke-linecap="round"/>
<path d="M318 932l-3 -13M342 1011l-3 -12M326 958l5 -14M322 944l3 -6M303 903l-5 -5M337 989l-12 -7M344 1016l5 -14M330 980l-13 -7M341 986l-6 -4M319 950l6 -9M327 941l-5 -9M321 933l-10 -6" fill="none" stroke="rgb(188,188,188)" stroke-width="5" stroke-linecap="round"/>
<path d="M332 1005l-6 -10M337 991l-2 -11M327 981l-4 -9M341 959l-6 -4M303 905l-4 -9M302 900l-4 -7M331 957l-3 -10M339 991l-10 -11M307 920l-7 -11M327 951l-3 -6M325 948l-11 -7M337 1009l-2 -7M301 918l3 -5" fill="none" stroke="rgb(159,159,159)" stroke-width="5" stroke-linecap="round"/>
<path d="M348 1012l-9 -13M326 983l-12 -9M321 952l2 -9M321 941l-14 -7M324 943l0 -7M307 897l-4 -6M334 989l-3 -9" fill="none" stroke="rgb(111,111,111)" stroke-width="5" stroke-linecap="round"/>
<path d="M333 984l1 -7M342 1015l2 -8M346 1007l-4 -5M297 910l-7 -10M286 911l5 -9M325 972l8 -12M332 962l2 -16M315 924l-8 -9M330 1004l-3 -5M319 937l-5 -3M332 989l-1 -6M324 943l-7 -10M300 898l2 -5M329 962l2 -10M323 979l2 -12M297 903l0 -5" fill="none" stroke="rgb(134,134,134)" stroke-width="5" stroke-linecap="round"/>
<path d="M327 943l-5 -4M334 1003l1 -12M295 904l2 -6M325 949l1 -6M289 907l6 -7M305 915l-8 -11M359 1015l-9 -13" fill="none" stroke="rgb(167,167,167)" stroke-width="5" stroke-linecap="round"/>
<path d="M350 1008l-11 -4M330 990l6 -13M329 1002l-3 -12M314 928l-8 -11M355 1015l-13 -5M347 1015l-6 -13M305 902l-3 -6M305 929l1 -15M338 966l-7 -14M297 903l5 -10M300 905l1 -13M325 981l1 -14M331 1008l0 -9M334 980l-11 -7M321 936l-4 -6M328 960l3 -14M344 1016l2 -14M337 961l0 -9M313 897l-7 -10M327 985l-10 -12" fill="none" stroke="rgb(134,134,134)" stroke-width="3" stroke-linecap="round"/>
<path d="M308 897l-1 -11M301 909l-8 -13M329 1000l0 -6M330 973l-0 -16M297 919l-0 -7M320 973l3 -6" fill="none" stroke="rgb(167,167,167)" stroke-width="3" stroke-linecap="round"/>
<path d="M315 930l-5 -5M337 1012l-2 -6M341 999l-12 -5M301 905l-12 -10M355 1012l-4 -7M336 963l1 -6M338 1009l-5 -9M331 967l5 -15M315 925l0 -6M356 1014l-7 -11M335 963l-8 -4M308 902l-9 -11" fill="none" stroke="rgb(159,159,159)" stroke-width="3" stroke-linecap="round"/>
<path d="M333 1011l-2 -13M313 939l2 -9M312 927l-6 -7M290 919l3 -14M310 929l-6 -11M290 913l7 -13" fill="none" stroke="rgb(111,111,111)" stroke-width="3" stroke-linecap="round"/>
<path d="M320 932l-12 -8M322 934l-4 -5M329 972l2 -5M289 914l3 -10M313 926l3 -8M293 905l4 -6M335 1005l1 -9M323 976l-2 -8M330 974l-2 -14M298 919l-5 -14M310 900l-5 -13M309 926l-9 -13M337 1009l-5 -3" fill="none" stroke="rgb(146,146,146)" stroke-width="3" stroke-linecap="round"/>
<path d="M337 954l-5 -3M340 1015l-2 -13M336 1004l-3 -6M331 975l-8 -6M346 1015l-1 -14M307 898l-10 -7M337 996l-7 -5M336 960l-6 -4M308 919l-4 -6M334 999l-8 -4M340 956l-5 -3M338 968l-3 -13M298 916l-5 -12M306 900l-1 -6M341 1009l-4 -13M310 896l-3 -8" fill="none" stroke="rgb(188,188,188)" stroke-width="3" stroke-linecap="round"/>
<path d="M392 1030 L420 1000 L460 985 L500 1020 L560 1050 L620 1062 L650 1075 L690 1060 L700 1100 L690 1150 L650 1175 L640 1200 L600 1195 L570 1200 L540 1225 L500 1240 L470 1240 L440 1232 L412 1225 L395 1190 L390 1150 L382 1115 L372 1085 L365 1050Z" fill="rgb(235,235,235)"/>
<ellipse cx="445" cy="1124" rx="37.5" ry="27.5" transform="rotate(-30 445 1124)" fill="rgb(188,188,188)"/>
<ellipse cx="450" cy="1146.5" rx="12.5" ry="10" transform="rotate(0 450 1146.5)" fill="rgb(167,167,167)"/>
<ellipse cx="482.5" cy="1034" rx="32.5" ry="12.5" transform="rotate(10 482.5 1034)" fill="rgb(188,188,188)"/>
<ellipse cx="520" cy="1184" rx="30" ry="15" transform="rotate(-20 520 1184)" fill="rgb(188,188,188)"/>
<path d="M557.5 1089 L595 1084 L642 1096.5 L642 1184 L607.5 1196.5 L582.5 1184 L565 1146.5 L552.5 1114Z" fill="rgb(188,188,188)"/>
<ellipse cx="620" cy="1134" rx="15" ry="10" transform="rotate(0 620 1134)" fill="rgb(235,235,235)"/>
<ellipse cx="582.5" cy="1159" rx="12.5" ry="10" transform="rotate(0 582.5 1159)" fill="rgb(235,235,235)"/>
<path d="M545 1054 L582.5 1059 L620 1074 L642 1084 L642 1096.5 L595 1084 L557.5 1089Z" fill="rgb(212,212,212)"/>
<path d="M540 1221.5 L565 1214 L590 1221.5 L615 1241.5 L642 1256.5 L642 1284 L595 1284 L557.5 1274 L532.5 1259 L525 1239Z" fill="rgb(159,159,159)"/>
<ellipse cx="570" cy="1229" rx="10" ry="5" transform="rotate(20 570 1229)" fill="rgb(134,134,134)"/>
<ellipse cx="600" cy="1241.5" rx="10" ry="7.5" transform="rotate(0 600 1241.5)" fill="rgb(111,111,111)"/>
<ellipse cx="535" cy="1216.5" rx="10" ry="7.5" transform="rotate(0 535 1216.5)" fill="rgb(134,134,134)"/>
<path d="M470 949 L477.5 984 L487.5 1009 L507.5 1019 L532.5 1034 L545 1044 L570 1051.5" fill="none" stroke="rgb(146,146,146)" stroke-width="8.0" stroke-linecap="round" stroke-linejoin="round"/>
<path d="M565 1044 L575 1049 L602.5 1050.2 L625 1044" fill="none" stroke="rgb(134,134,134)" stroke-width="4.0" stroke-linecap="round" stroke-linejoin="round"/>
<path d="M315 934 L382.5 934 L387.5 959 L380 984 L370 1009 L352.5 1014 L332.5 999 L322.5 979 L325 959Z" fill="rgb(159,159,159)"/>
<ellipse cx="340" cy="966.5" rx="17.5" ry="15" transform="rotate(0 340 966.5)" fill="rgb(134,134,134)"/>
<ellipse cx="337.5" cy="1001.5" rx="12.5" ry="7.5" transform="rotate(0 337.5 1001.5)" fill="rgb(134,134,134)"/>
<path d="M342.5 1039 L352.5 1064 L365 1089 L375 1114 L382.5 1134 L387.5 1154 L382.5 1174 L390 1196.5 L395 1216.5" fill="none" stroke="rgb(146,146,146)" stroke-width="12.0" stroke-linecap="round" stroke-linejoin="round"/>
<path d="M335 1054 L355 1084 L367.5 1109 L377.5 1129" fill="none" stroke="rgb(134,134,134)" stroke-width="6.0" stroke-linecap="round" stroke-linejoin="round"/>
<ellipse cx="400" cy="1209" rx="15" ry="17.5" transform="rotate(0 400 1209)" fill="rgb(134,134,134)"/>
<ellipse cx="395" cy="1201.5" rx="7.5" ry="7.5" transform="rotate(0 395 1201.5)" fill="rgb(111,111,111)"/>
<path d="M642 1039 L672 1034 L692 1041.5 L702 1074 L699.5 1109 L704.5 1146.5 L699.5 1174 L679.5 1184 L657 1186.5 L642 1184Z" fill="rgb(235,235,235)"/>
<ellipse cx="667" cy="1089" rx="15" ry="25" transform="rotate(0 667 1089)" fill="rgb(188,188,188)"/>
<ellipse cx="672" cy="1154" rx="20" ry="15" transform="rotate(0 672 1154)" fill="rgb(188,188,188)"/>
<path d="M642 1226.5 L679.5 1231.5 L717 1234 L742 1237.8 L772 1244 L804.5 1254 L832 1266.5 L817 1276.5 L782 1269 L752 1259 L737 1246.5 L717 1254 L692 1259 L667 1266.5 L642 1261.5Z" fill="rgb(235,235,235)"/>
<path d="M802 1180.2 L832 1177.8 L867 1184 L892 1185.2 L917 1182.8 L917 1191.5 L887 1195.2 L854.5 1194 L822 1191.5 L802 1189Z" fill="rgb(235,235,235)"/>
<path d="M802 1194 L832 1196.5 L867 1199 L904.5 1199 L929.5 1209 L917 1229 L879.5 1234 L842 1229 L812 1219 L792 1204Z" fill="rgb(167,167,167)"/>
<path d="M702 1079 L724.5 1074 L754.5 1074 L782 1079 L797 1094 L792 1124 L784.5 1149 L787 1174 L789.5 1199 L772 1206.5 L747 1204 L724.5 1194 L707 1179 L699.5 1154 L702 1124Z" fill="rgb(167,167,167)"/>
<path d="M707 1109 L724.5 1099 L729.5 1129 L727 1159 L729.5 1184 L714.5 1179 L704.5 1159Z" fill="rgb(146,146,146)"/>
<path d="M742 1094 L767 1094 L782 1114 L777 1139 L782 1164 L787 1189 L767 1199 L752 1184 L747 1159 L749.5 1129Z" fill="rgb(146,146,146)"/>
<path d="M738 1099l-3 10M759 1192l-5 10M763 1089l12 -2M779 1101l9 -9M728 1078l-3 7M742 1164l14 -1M772 1095l0 7M705 1137l6 7M789 1097l-4 3M743 1123l10 5M740 1088l-3 -7M730 1131l-7 3M746 1157l-8 4M725 1137l4 10M776 1189l-2 5M728 1182l-11 -6M707 1150l6 -2M718 1131l4 6M765 1101l7 7M722 1154l-3 12M743 1107l-9 5M755 1111l5 13M781 1097l13 1M745 1096l-11 8M781 1146l8 -3M731 1167l-3 5M770 1107l6 12M728 1186l3 5" fill="none" stroke="rgb(146,146,146)" stroke-width="5" stroke-linecap="round"/>
<path d="M742 1167l-10 5M738 1073l5 7M748 1093l-8 2M732 1187l-3 -6M759 1090l5 7M762 1197l4 4M786 1146l-6 3M745 1082l-4 6M720 1075l8 10M708 1106l3 11M793 1128l-13 -3M706 1085l6 8M714 1109l-4 9M759 1196l-10 5M760 1096l12 -2" fill="none" stroke="rgb(134,134,134)" stroke-width="5" stroke-linecap="round"/>
<path d="M720 1161l8 6M796 1101l-6 10M711 1161l-7 1M728 1181l-3 6M762 1073l-5 8M760 1110l1 6M754 1187l-8 7M716 1143l-11 -3M720 1153l-4 8M756 1102l-13 2M716 1158l-2 5M759 1119l2 9M736 1153l-2 11M730 1158l8 -0M745 1082l-9 -6M742 1156l-1 10M757 1105l4 9M760 1113l7 -3M769 1123l13 3" fill="none" stroke="rgb(159,159,159)" stroke-width="5" stroke-linecap="round"/>
<path d="M785 1102l-6 1M767 1123l-4 8M783 1160l6 -1M779 1151l-2 9M756 1144l-5 -11M754 1146l-5 9M788 1108l-1 13M755 1171l-4 -4M744 1170l5 -1M714 1114l11 -7M716 1172l-3 5M780 1140l-8 4M749 1124l10 5M784 1136l5 4M777 1113l1 -11M761 1186l2 7M773 1170l5 7" fill="none" stroke="rgb(134,134,134)" stroke-width="3" stroke-linecap="round"/>
<path d="M710 1089l-2 7M762 1100l-6 -5M750 1100l6 4M765 1175l10 3M707 1129l3 13M730 1077l-8 0M771 1119l3 8M749 1104l-5 6M739 1173l-6 6M784 1111l-13 -4M754 1084l-12 0M711 1138l-6 12M744 1103l9 1M765 1188l7 5M763 1184l11 5M720 1156l1 6M765 1163l3 13M772 1148l8 10M733 1088l1 12M761 1162l7 11M735 1153l9 9M708 1115l-10 -6M746 1148l-11 -7M715 1162l10 7M709 1152l-10 4" fill="none" stroke="rgb(146,146,146)" stroke-width="3" stroke-linecap="round"/>
<path d="M715 1128l-5 10M784 1124l6 8M750 1084l-4 12M768 1191l-4 5M779 1183l3 7M723 1130l2 10M771 1150l4 13M731 1105l10 9M726 1080l3 6M787 1158l-8 -7M739 1133l9 -6M774 1194l5 5M696 1128l11 6M767 1129l-4 6M704 1089l9 8M753 1073l-1 6M763 1148l5 10M755 1170l5 6M785 1114l-14 -1M775 1160l8 2M752 1102l9 10M762 1105l-3 8M737 1139l-1 6M737 1138l4 -6M761 1136l3 4M729 1116l8 -10M763 1077l9 7M750 1149l2 -6M757 1118l7 -1M753 1091l-3 9M755 1146l6 -4M715 1113l5 1M714 1183l6 -9M732 1121l-6 5M702 1098l7 12M704 1143l5 -4" fill="none" stroke="rgb(159,159,159)" stroke-width="3" stroke-linecap="round"/>
<ellipse cx="767" cy="1179" rx="10" ry="10" transform="rotate(0 767 1179)" fill="rgb(134,134,134)"/>
<ellipse cx="667" cy="1216.5" rx="20" ry="12.5" transform="rotate(0 667 1216.5)" fill="rgb(159,159,159)"/>
<path d="M747 1214 L782 1226.5 L817 1244" fill="none" stroke="rgb(159,159,159)" stroke-width="8.0" stroke-linecap="round" stroke-linejoin="round"/>
<path d="M654.5 1040.2 L674.5 1032.8 L692 1039 L712 1047.8 L729.5 1055.2 L749.5 1059 L772 1056.5" fill="none" stroke="rgb(111,111,111)" stroke-width="5.0" stroke-linecap="round" stroke-linejoin="round"/>
<ellipse cx="772" cy="1061.5" rx="7.5" ry="10" transform="rotate(0 772 1061.5)" fill="rgb(134,134,134)"/>
<ellipse cx="867" cy="1241.5" rx="7.5" ry="10" transform="rotate(0 867 1241.5)" fill="rgb(146,146,146)"/>
<ellipse cx="862" cy="1237.75" rx="10" ry="3" transform="rotate(0 862 1237.75)" fill="rgb(89,89,89)"/>
<ellipse cx="949.5" cy="1179" rx="7.5" ry="20" transform="rotate(-20 949.5 1179)" fill="rgb(89,89,89)"/>
<ellipse cx="949.5" cy="1179" rx="15" ry="25" transform="rotate(-20 949.5 1179)" fill="rgb(134,134,134)"/>
<ellipse cx="992" cy="1166.5" rx="7.5" ry="10" transform="rotate(0 992 1166.5)" fill="rgb(89,89,89)"/>
<ellipse cx="937" cy="1166.5" rx="12.5" ry="7.5" transform="rotate(0 937 1166.5)" fill="rgb(134,134,134)"/>
<path d="M892 1249 L929.5 1234 L967 1211.5 L1014 1204 L1014 1306 L867 1306 L877 1271.5Z" fill="rgb(159,159,159)"/>
<ellipse cx="947" cy="1284" rx="37.5" ry="12.5" transform="rotate(-10 947 1284)" fill="rgb(134,134,134)"/>
<ellipse cx="992" cy="1221.5" rx="20" ry="15" transform="rotate(0 992 1221.5)" fill="rgb(134,134,134)"/>
<ellipse cx="917" cy="1266.5" rx="20" ry="12.5" transform="rotate(0 917 1266.5)" fill="rgb(188,188,188)"/>
<path d="M782 1281.5 L817 1284 L854.5 1294 L867 1306 L792 1306Z" fill="rgb(146,146,146)"/>
<path d="M845 1300 L870 1290 L895 1295 L920 1285 L945 1275 L970 1270 L995 1275 L1007.5 1295 L995 1300 L970 1297.5 L945 1305 L920 1320 L895 1325 L870 1326.2 L850 1320Z" fill="rgb(146,146,146)"/>
<ellipse cx="957.5" cy="1287.5" rx="30" ry="12.5" transform="rotate(-10 957.5 1287.5)" fill="rgb(111,111,111)"/>
<ellipse cx="802.5" cy="1300" rx="20" ry="10" transform="rotate(0 802.5 1300)" fill="rgb(146,146,146)"/>
<ellipse cx="870" cy="1280" rx="20" ry="10" transform="rotate(0 870 1280)" fill="rgb(235,235,235)"/>
<ellipse cx="945" cy="1255" rx="15" ry="10" transform="rotate(0 945 1255)" fill="rgb(235,235,235)"/>
<ellipse cx="832.5" cy="1255" rx="15" ry="10" transform="rotate(0 832.5 1255)" fill="rgb(235,235,235)"/>
<path d="M970 1225 L995 1205 L1020 1200 L1045 1205 L1070 1212.5 L1080 1220 L1055 1232.5 L1032.5 1235 L1015 1240 L1002.5 1262.5 L982.5 1262.5Z" fill="rgb(146,146,146)"/>
<ellipse cx="1040" cy="1227.5" rx="22.5" ry="10" transform="rotate(20 1040 1227.5)" fill="rgb(111,111,111)"/>
<path d="M927.5 1245 L937.5 1262.5" fill="none" stroke="rgb(134,134,134)" stroke-width="5.0" stroke-linecap="round" stroke-linejoin="round"/>
<path d="M882.5 1272.5 L895 1285" fill="none" stroke="rgb(134,134,134)" stroke-width="5.0" stroke-linecap="round" stroke-linejoin="round"/>
<path d="M895 1245 L920 1242.5 L950 1240" fill="none" stroke="rgb(134,134,134)" stroke-width="5.0" stroke-linecap="round" stroke-linejoin="round"/>
<path d="M345 619.5 L370 577 L420 567 L470 577 L495 592 L520 612 L522.5 637 L510 662 L495 697 L482.5 694.5 L460 675.8 L432.5 668.2 L410 657 L385 640.8 L365 627.5Z" fill="rgb(212,212,212)"/>
<path d="M350 622 L375 597 L400 587 L425 577 L460 582 L450 602 L455 627 L445 657 L430 664.5 L410 654.5 L385 639.5 L365 627Z" fill="rgb(235,235,235)"/>
<path d="M480 587 L510 607 L520 632 L510 662 L495 692 L482.5 687 L475 662 L485 637 L482.5 612Z" fill="rgb(235,235,235)"/>
<ellipse cx="460" cy="644.5" rx="17.5" ry="22.5" transform="rotate(0 460 644.5)" fill="rgb(188,188,188)"/>
<ellipse cx="395" cy="594.5" rx="15" ry="10" transform="rotate(0 395 594.5)" fill="rgb(188,188,188)"/>
<ellipse cx="557.5" cy="622" rx="27.5" ry="20" transform="rotate(-20 557.5 622)" fill="rgb(235,235,235)"/>
<ellipse cx="540" cy="672" rx="25" ry="15" transform="rotate(0 540 672)" fill="rgb(235,235,235)"/>
<ellipse cx="580" cy="644.5" rx="12.5" ry="15" transform="rotate(0 580 644.5)" fill="rgb(188,188,188)"/>
<path d="M517.5 693.5 L545 688.5 L570 689.5 L586.2 681.5" fill="none" stroke="rgb(126,126,126)" stroke-width="6.0" stroke-linecap="round" stroke-linejoin="round"/>
<path d="M590 674.5 L603.8 663.2 L604.5 644.5 L613 622 L614.5 599.5 L610 585.8" fill="none" stroke="rgb(134,134,134)" stroke-width="4.0" stroke-linecap="round" stroke-linejoin="round"/>
<path d="M320 562 L352.5 562 L355 577 L350 592 L352.5 612 L345 624.5 L332.5 614.5 L323.8 589.5 L318.8 577Z" fill="rgb(159,159,159)"/>
<ellipse cx="345" cy="572" rx="10" ry="10" transform="rotate(0 345 572)" fill="rgb(134,134,134)"/>
<path d="M382.5 769.5 L420 762 L430 774.5 L445 794.5 L440 812 L425 824.5 L420 849.5 L415 887 L425 912 L445 912 L465 897 L482.5 922 L482.5 934 L312.5 934 L295 912 L307.5 879.5 L295 854.5 L310 837 L300 824.5 L332.5 809.5 L357.5 789.5Z" fill="rgb(159,159,159)"/>
<ellipse cx="395" cy="787" rx="12.5" ry="5" transform="rotate(-10 395 787)" fill="rgb(146,146,146)"/>
<ellipse cx="395" cy="812" rx="22.5" ry="15" transform="rotate(0 395 812)" fill="rgb(159,159,159)"/>
<ellipse cx="352.5" cy="839.5" rx="22.5" ry="10" transform="rotate(10 352.5 839.5)" fill="rgb(146,146,146)"/>
<ellipse cx="327.5" cy="824.5" rx="15" ry="6.25" transform="rotate(0 327.5 824.5)" fill="rgb(134,134,134)"/>
<ellipse cx="302.5" cy="857" rx="10" ry="10" transform="rotate(0 302.5 857)" fill="rgb(134,134,134)"/>
<ellipse cx="326.25" cy="825.75" rx="5.5" ry="3" transform="rotate(0 326.25 825.75)" fill="rgb(52,52,52)"/>
<ellipse cx="387.5" cy="874.5" rx="20" ry="22.5" transform="rotate(0 387.5 874.5)" fill="rgb(159,159,159)"/>
<ellipse cx="412.5" cy="832" rx="6.25" ry="22.5" transform="rotate(0 412.5 832)" fill="rgb(235,235,235)"/>
<ellipse cx="320" cy="889.5" rx="12.5" ry="12.5" transform="rotate(0 320 889.5)" fill="rgb(212,212,212)"/>
<ellipse cx="357.5" cy="907" rx="27.5" ry="20" transform="rotate(0 357.5 907)" fill="rgb(188,188,188)"/>
<ellipse cx="400" cy="917" rx="15" ry="15" transform="rotate(0 400 917)" fill="rgb(188,188,188)"/>
<path d="M435 787 L442.5 802 L432.5 814.5 L425 827" fill="none" stroke="rgb(111,111,111)" stroke-width="5.0" stroke-linecap="round" stroke-linejoin="round"/>
<ellipse cx="465" cy="919.5" rx="15" ry="12.5" transform="rotate(0 465 919.5)" fill="rgb(134,134,134)"/>
<path d="M415 887 L422.5 909.5 L442.5 910.8" fill="none" stroke="rgb(134,134,134)" stroke-width="4.0" stroke-linecap="round" stroke-linejoin="round"/>
<path d="M412.5 382.5 L432.5 365 L450 352.5 L465 362.5 L477.5 380 L485 402.5 L477.5 422.5 L465 440 L450 430 L435 415 L420 402.5Z" fill="rgb(124,124,124)"/>
<path d="M470 325 L485 307.5 L495 302.5 L507.5 315 L517.5 330 L535 340 L530 352.5 L512.5 357.5 L502.5 350 L490 350 L480 365 L467.5 362.5 L460 350Z" fill="rgb(134,134,134)"/>
<path d="M552.5 285 L565 270 L580 260 L595 255 L592.5 272.5 L580 292.5 L567.5 305 L557.5 300Z" fill="rgb(134,134,134)"/>
<path d="M375 455 L395 442.5 L410 427.5 L425 415 L445 435 L465 450 L460 465 L445 477.5 L430 492.5 L410 505 L395 497.5 L382.5 480 L370 467.5Z" fill="rgb(146,146,146)"/>
<path d="M352.5 510 L370 502.5 L387.5 507.5 L400 520 L390 540 L380 562 L345 562 L340 545Z" fill="rgb(159,159,159)"/>
<ellipse cx="387.5" cy="447.5" rx="8.75" ry="6.25" transform="rotate(0 387.5 447.5)" fill="rgb(235,235,235)"/>
<path d="M331.2 520 L345 512.5 L352.5 525 L345 540 L332.5 545Z" fill="rgb(235,235,235)"/>
<path d="M542.5 517.5 L570 502.5 L600 487.5 L625 470 L642 455" fill="none" stroke="rgb(146,146,146)" stroke-width="30.0" stroke-linecap="round" stroke-linejoin="round"/>
<path d="M545 516.2 L570 502.5 L600 487.5 L625 470 L642 455" fill="none" stroke="rgb(122,122,122)" stroke-width="16.0" stroke-linecap="round" stroke-linejoin="round"/>
<path d="M582.5 496.2 L600 487.5 L625 470" fill="none" stroke="rgb(111,111,111)" stroke-width="5.0" stroke-linecap="round" stroke-linejoin="round"/>
<ellipse cx="570" cy="470" rx="22.5" ry="10" transform="rotate(-30 570 470)" fill="rgb(159,159,159)"/>
<ellipse cx="532.5" cy="357.5" rx="15" ry="10" transform="rotate(0 532.5 357.5)" fill="rgb(212,212,212)"/>
<ellipse cx="590" cy="377.5" rx="20" ry="10" transform="rotate(0 590 377.5)" fill="rgb(212,212,212)"/>
<ellipse cx="607.5" cy="402.5" rx="17.5" ry="7.5" transform="rotate(0 607.5 402.5)" fill="rgb(212,212,212)"/>
<ellipse cx="505" cy="512.5" rx="15" ry="7.5" transform="rotate(0 505 512.5)" fill="rgb(212,212,212)"/>
<ellipse cx="470" cy="497.5" rx="20" ry="10" transform="rotate(0 470 497.5)" fill="rgb(212,212,212)"/>
<ellipse cx="445" cy="522.5" rx="12.5" ry="7.5" transform="rotate(0 445 522.5)" fill="rgb(212,212,212)"/>
<ellipse cx="620" cy="345" rx="12.5" ry="7.5" transform="rotate(0 620 345)" fill="rgb(212,212,212)"/>
<ellipse cx="545" cy="485" rx="12.5" ry="7.5" transform="rotate(0 545 485)" fill="rgb(212,212,212)"/>
<ellipse cx="520" cy="540" rx="17.5" ry="10" transform="rotate(0 520 540)" fill="rgb(212,212,212)"/>
<ellipse cx="482.5" cy="545" rx="15" ry="7.5" transform="rotate(0 482.5 545)" fill="rgb(212,212,212)"/>
<ellipse cx="540" cy="405" rx="10" ry="7.5" transform="rotate(0 540 405)" fill="rgb(159,159,159)"/>
<ellipse cx="557.5" cy="435" rx="15" ry="6.25" transform="rotate(0 557.5 435)" fill="rgb(159,159,159)"/>
<ellipse cx="615" cy="425" rx="17.5" ry="10" transform="rotate(0 615 425)" fill="rgb(159,159,159)"/>
<ellipse cx="520" cy="340" rx="12.5" ry="6.25" transform="rotate(0 520 340)" fill="rgb(159,159,159)"/>
<ellipse cx="570" cy="305" rx="12.5" ry="7.5" transform="rotate(0 570 305)" fill="rgb(159,159,159)"/>
<ellipse cx="617.5" cy="295" rx="12.5" ry="7.5" transform="rotate(0 617.5 295)" fill="rgb(159,159,159)"/>
<ellipse cx="495" cy="452.5" rx="12.5" ry="7.5" transform="rotate(0 495 452.5)" fill="rgb(159,159,159)"/>
<path d="M642 227.5 L667 222.5 L692 215 L729.5 215 L754.5 227.5 L772 235 L767 252.5 L747 260 L729.5 272.5 L704.5 270 L679.5 265 L654.5 260 L642 255Z" fill="rgb(159,159,159)"/>
<ellipse cx="692" cy="240" rx="30" ry="12.5" transform="rotate(0 692 240)" fill="rgb(134,134,134)"/>
<ellipse cx="747" cy="232.5" rx="15" ry="10" transform="rotate(0 747 232.5)" fill="rgb(134,134,134)"/>
<path d="M739.5 295 L759.5 291.2 L779.5 290" fill="none" stroke="rgb(134,134,134)" stroke-width="8.0" stroke-linecap="round" stroke-linejoin="round"/>
<path d="M724.5 297.5 L759.5 291.2 L787 290" fill="none" stroke="rgb(159,159,159)" stroke-width="14.0" stroke-linecap="round" stroke-linejoin="round"/>
<path d="M699.5 275 L724.5 272.5 L729.5 302.5 L724.5 330 L707 325 L697 302.5Z" fill="rgb(159,159,159)"/>
<ellipse cx="754.5" cy="320" rx="12.5" ry="10" transform="rotate(0 754.5 320)" fill="rgb(146,146,146)"/>
<ellipse cx="757" cy="362.5" rx="15" ry="8.75" transform="rotate(0 757 362.5)" fill="rgb(134,134,134)"/>
<ellipse cx="787" cy="377.5" rx="10" ry="12.5" transform="rotate(0 787 377.5)" fill="rgb(159,159,159)"/>
<ellipse cx="707" cy="380" rx="7.5" ry="15" transform="rotate(0 707 380)" fill="rgb(159,159,159)"/>
<path d="M642 410 L672 402.5 L704.5 390 L732 390 L737 410 L717 430 L692 452.5 L667 472.5 L642 480Z" fill="rgb(159,159,159)"/>
<path d="M642 462.5 L667 440 L692 420 L717 405 L729.5 397.5" fill="none" stroke="rgb(122,122,122)" stroke-width="18.0" stroke-linecap="round" stroke-linejoin="round"/>
<path d="M657 450 L692 420 L724.5 400" fill="none" stroke="rgb(111,111,111)" stroke-width="5.0" stroke-linecap="round" stroke-linejoin="round"/>
<path d="M742 440 L767 435 L792 445 L817 460 L829.5 472.5 L827 482.5 L792 482.5 L754.5 477.5 L737 465Z" fill="rgb(159,159,159)"/>
<path d="M762 477.5 L792 481.2 L827 481.2" fill="none" stroke="rgb(111,111,111)" stroke-width="4.0" stroke-linecap="round" stroke-linejoin="round"/>
<path d="M655.8 508.8 L677 490 L703.2 479.5 L729.5 475" fill="none" stroke="rgb(89,89,89)" stroke-width="7.0" stroke-linecap="round" stroke-linejoin="round"/>
<path d="M792 407.5 L817 415 L837 427.5" fill="none" stroke="rgb(159,159,159)" stroke-width="8.0" stroke-linecap="round" stroke-linejoin="round"/>
<path d="M847 240 L867 235 L892 240 L917 247.5 L942 257.5 L967 265 L984.5 275 L979.5 290 L954.5 287.5 L929.5 282.5 L904.5 272.5 L879.5 265 L854.5 257.5Z" fill="rgb(235,235,235)"/>
<ellipse cx="687" cy="325" rx="12.5" ry="10" transform="rotate(0 687 325)" fill="rgb(212,212,212)"/>
<ellipse cx="649.5" cy="380" rx="12.5" ry="12.5" transform="rotate(0 649.5 380)" fill="rgb(212,212,212)"/>
<ellipse cx="897" cy="350" rx="20" ry="12.5" transform="rotate(0 897 350)" fill="rgb(212,212,212)"/>
<ellipse cx="904.5" cy="397.5" rx="12.5" ry="12.5" transform="rotate(0 904.5 397.5)" fill="rgb(212,212,212)"/>
<ellipse cx="869.5" cy="427.5" rx="10" ry="12.5" transform="rotate(0 869.5 427.5)" fill="rgb(212,212,212)"/>
<ellipse cx="804.5" cy="342.5" rx="10" ry="12.5" transform="rotate(0 804.5 342.5)" fill="rgb(212,212,212)"/>
<ellipse cx="952" cy="430" rx="10" ry="10" transform="rotate(0 952 430)" fill="rgb(212,212,212)"/>
<ellipse cx="817" cy="277.5" rx="15" ry="10" transform="rotate(0 817 277.5)" fill="rgb(212,212,212)"/>
<ellipse cx="782" cy="265" rx="12.5" ry="7.5" transform="rotate(0 782 265)" fill="rgb(212,212,212)"/>
<ellipse cx="842" cy="440" rx="12.5" ry="10" transform="rotate(0 842 440)" fill="rgb(212,212,212)"/>
<path d="M937 490 L967 480 L997 485 L1014 490 L1014 540 L992 545 L967 540 L942 515Z" fill="rgb(235,235,235)"/>
<path d="M992 272.5 L982 302.5 L974.5 330 L978.2 352.5 L992 375 L1007 390" fill="none" stroke="rgb(134,134,134)" stroke-width="14.0" stroke-linecap="round" stroke-linejoin="round"/>
<ellipse cx="974.5" cy="310" rx="11.25" ry="15" transform="rotate(0 974.5 310)" fill="rgb(111,111,111)"/>
<path d="M937 345 L962 370 L979.5 402.5 L992 427.5" fill="none" stroke="rgb(159,159,159)" stroke-width="9.0" stroke-linecap="round" stroke-linejoin="round"/>
<ellipse cx="879.5" cy="500" rx="22.5" ry="10" transform="rotate(0 879.5 500)" fill="rgb(146,146,146)"/>
<ellipse cx="932" cy="365" rx="7.5" ry="7.5" transform="rotate(0 932 365)" fill="rgb(134,134,134)"/>
<path d="M1021.5 387.5 L1036.5 415 L1051.5 435 L1064 460 L1076.5 477.5" fill="none" stroke="rgb(134,134,134)" stroke-width="14.0" stroke-linecap="round" stroke-linejoin="round"/>
<ellipse cx="1029" cy="490" rx="20" ry="25" transform="rotate(0 1029 490)" fill="rgb(235,235,235)"/>
<path d="M1051.5 477.5 L1076.5 485 L1096.5 502.5 L1119 522.5 L1139 540 L1149 562 L1089 562 L1064 540 L1051.5 515Z" fill="rgb(159,159,159)"/>
<path d="M1084 490 L1101.5 512.5 L1121.5 535 L1139 550" fill="none" stroke="rgb(134,134,134)" stroke-width="10.0" stroke-linecap="round" stroke-linejoin="round"/>
<path d="M1089 569.5 L1119 577 L1144 612 L1154 649.5 L1164 682 L1169 712 L1154 722 L1134 702 L1119 674.5 L1109 644.5 L1099 612 L1084 592Z" fill="rgb(159,159,159)"/>
<path d="M1086.5 599.5 L1104 602 L1114 637 L1119 669.5 L1104 674.5 L1096.5 657 L1089 624.5Z" fill="rgb(235,235,235)"/>
<path d="M1091.5 707 L1114 702 L1126.5 717 L1124 742 L1109 747 L1094 737Z" fill="rgb(212,212,212)"/>
<path d="M1131.5 737 L1154 734.5 L1169 752 L1176.5 782 L1176.5 812 L1164 824.5 L1154 802 L1144 774.5 L1134 757Z" fill="rgb(235,235,235)"/>
<path d="M1164 887 L1189 882 L1209 894.5 L1211.5 934 L1164 934Z" fill="rgb(235,235,235)"/>
<path d="M1101.5 752 L1121.5 744.5 L1139 757 L1149 774.5 L1139 782 L1121.5 772Z" fill="rgb(134,134,134)"/>
<ellipse cx="1140.25" cy="774.5" rx="6.25" ry="4.5" transform="rotate(0 1140.25 774.5)" fill="rgb(52,52,52)"/>
<ellipse cx="1166.5" cy="852" rx="10" ry="13.75" transform="rotate(0 1166.5 852)" fill="rgb(134,134,134)"/>
<ellipse cx="1166.5" cy="852" rx="4.5" ry="6.25" transform="rotate(0 1166.5 852)" fill="rgb(188,188,188)"/>
<path d="M1164 577 L1179 612 L1189 637 L1194 662 L1199 687 L1204 717 L1209 737 L1209 762 L1214 787 L1206.5 812" fill="none" stroke="rgb(111,111,111)" stroke-width="30.0" stroke-linecap="round" stroke-linejoin="round"/>
<path d="M1144 604.5 L1164 612 L1174 632" fill="none" stroke="rgb(89,89,89)" stroke-width="10.0" stroke-linecap="round" stroke-linejoin="round"/>
<path d="M1154 599.5 L1169 642 L1176.5 674.5 L1184 712" fill="none" stroke="rgb(134,134,134)" stroke-width="14.0" stroke-linecap="round" stroke-linejoin="round"/>
<path d="M1189 752 L1204 762 L1219 757" fill="none" stroke="rgb(89,89,89)" stroke-width="8.0" stroke-linecap="round" stroke-linejoin="round"/>
<path d="M1189 767 L1199 787 L1204 802" fill="none" stroke="rgb(146,146,146)" stroke-width="14.0" stroke-linecap="round" stroke-linejoin="round"/>
<path d="M1214 837 L1226.5 874.5 L1234 899.5 L1244 924.5" fill="none" stroke="rgb(134,134,134)" stroke-width="16.0" stroke-linecap="round" stroke-linejoin="round"/>
<ellipse cx="1119" cy="687" rx="15" ry="15" transform="rotate(0 1119 687)" fill="rgb(159,159,159)"/>
<path d="M1084 612 L1089 644.5 L1096.5 669.5" fill="none" stroke="rgb(159,159,159)" stroke-width="8.0" stroke-linecap="round" stroke-linejoin="round"/>
<path d="M1154 944 L1176.5 934 L1204 934 L1214 959 L1209 979 L1189 984 L1169 971.5Z" fill="rgb(235,235,235)"/>
<path d="M1164 984 L1189 989 L1214 984 L1234 1009 L1239 1039 L1234 1059 L1214 1074 L1204 1099 L1189 1109 L1174 1084 L1164 1046.5 L1154 1014Z" fill="rgb(146,146,146)"/>
<ellipse cx="1189" cy="1016.5" rx="17.5" ry="30" transform="rotate(-20 1189 1016.5)" fill="rgb(188,188,188)"/>
<ellipse cx="1159" cy="1004" rx="10" ry="15" transform="rotate(0 1159 1004)" fill="rgb(212,212,212)"/>
<path d="M1089 1074 L1119 1059 L1144 1054 L1169 1064 L1189 1084 L1194 1109 L1186.5 1134 L1164 1139 L1149 1159 L1126.5 1151.5 L1109 1139 L1096.5 1119 L1086.5 1096.5Z" fill="rgb(111,111,111)"/>
<ellipse cx="1134" cy="1114" rx="30" ry="20" transform="rotate(0 1134 1114)" fill="rgb(89,89,89)"/>
<ellipse cx="1169" cy="1041.5" rx="15" ry="25" transform="rotate(-10 1169 1041.5)" fill="rgb(134,134,134)"/>
<path d="M1124 961.5 L1144 959 L1149 984 L1139 1009 L1124 1024 L1109 1039 L1096.5 1059 L1084 1074 L1071.5 1094 L1056.5 1114 L1039 1134 L1024 1149 L1014 1149 L1029 1134 L1046.5 1119 L1051.5 1094 L1074 1079 L1086.5 1059 L1091.5 1034 L1109 1016.5 L1124 1009 L1131.5 996.5 L1124 984Z" fill="rgb(146,146,146)"/>
<ellipse cx="1127.75" cy="975.25" rx="4.5" ry="7.5" transform="rotate(0 1127.75 975.25)" fill="rgb(52,52,52)"/>
<ellipse cx="1101.5" cy="1039" rx="11.25" ry="12.5" transform="rotate(0 1101.5 1039)" fill="rgb(52,52,52)"/>
<ellipse cx="1094" cy="1076.5" rx="6.25" ry="7.5" transform="rotate(0 1094 1076.5)" fill="rgb(52,52,52)"/>
<ellipse cx="1051.5" cy="1136.5" rx="8.75" ry="10" transform="rotate(0 1051.5 1136.5)" fill="rgb(52,52,52)"/>
<ellipse cx="1137.75" cy="1014" rx="5.5" ry="10" transform="rotate(0 1137.75 1014)" fill="rgb(52,52,52)"/>
<ellipse cx="1079" cy="1106.5" rx="5" ry="3.75" transform="rotate(0 1079 1106.5)" fill="rgb(52,52,52)"/>
<path d="M1014 1159 L1034 1154 L1051.5 1164 L1056.5 1184 L1046.5 1204 L1029 1209 L1014 1204Z" fill="rgb(235,235,235)"/>
<path d="M1014 1204 L1039 1209 L1064 1204 L1079 1209 L1074 1224 L1059 1239 L1034 1241.5 L1014 1246.5Z" fill="rgb(134,134,134)"/>
<ellipse cx="1034" cy="1229" rx="20" ry="10" transform="rotate(0 1034 1229)" fill="rgb(111,111,111)"/>
<path d="M1059 1159 L1084 1149 L1104 1159 L1111.5 1184 L1106.5 1199 L1084 1199 L1069 1184Z" fill="rgb(146,146,146)"/>
<ellipse cx="1096.5" cy="1174" rx="10" ry="15" transform="rotate(0 1096.5 1174)" fill="rgb(111,111,111)"/>
<path d="M1154 944 L1176.5 934 L1209 934 L1221.5 964 L1214 996.5 L1221.5 1029 L1209 1049 L1189 1044 L1174 1016.5 L1164 984Z" fill="rgb(188,188,188)"/>
<path d="M1159 939 L1184 934 L1204 939 L1209 964 L1194 979 L1174 971.5Z" fill="rgb(235,235,235)"/>
<path d="M1202 947l-0 6M1170 970l-6 4M1213 1002l-1 13M1193 1038l-3 6M1188 1022l-7 8M1217 988l-10 3M1204 984l-4 5M1207 1040l-5 5M1200 988l-8 2M1203 1014l4 6M1189 976l-7 -7M1182 993l10 2M1221 963l-7 7" fill="none" stroke="rgb(159,159,159)" stroke-width="5" stroke-linecap="round"/>
<path d="M1184 953l11 8M1193 961l8 -3M1189 981l1 5M1220 959l-6 2M1167 954l2 10M1192 997l-1 11M1203 999l-6 4" fill="none" stroke="rgb(167,167,167)" stroke-width="5" stroke-linecap="round"/>
<path d="M1185 1022l5 4M1210 955l-11 -11M1185 996l-4 5M1195 983l7 5M1197 975l-5 -3" fill="none" stroke="rgb(212,212,212)" stroke-width="5" stroke-linecap="round"/>
<path d="M1216 960l1 10M1174 993l0 -9M1184 998l-10 -4M1164 939l3 11M1209 1034l8 0M1216 1021l-4 14M1182 949l7 2M1184 962l-15 1M1210 968l10 -3M1194 1039l14 6" fill="none" stroke="rgb(146,146,146)" stroke-width="5" stroke-linecap="round"/>
<path d="M1156 944l-2 6M1196 1000l-5 -7M1206 942l-10 7M1195 994l-7 8M1195 959l14 6M1219 956l-9 13M1206 998l11 -3M1209 973l-4 13M1202 936l12 11M1177 961l-3 8M1172 1006l10 4" fill="none" stroke="rgb(159,159,159)" stroke-width="3" stroke-linecap="round"/>
<path d="M1199 1038l-3 -16M1202 1044l-13 -8M1170 955l-4 14M1224 956l-11 10M1187 983l-7 13M1188 956l2 -6" fill="none" stroke="rgb(146,146,146)" stroke-width="3" stroke-linecap="round"/>
<path d="M1163 949l-2 14M1189 997l-5 -4M1168 969l3 15" fill="none" stroke="rgb(167,167,167)" stroke-width="3" stroke-linecap="round"/>
<path d="M1182 1022l10 5M1206 972l12 -4M1193 1030l-4 4M1207 949l3 -15M1199 1007l5 -1" fill="none" stroke="rgb(212,212,212)" stroke-width="3" stroke-linecap="round"/>
<path d="M1089 1074 L1119 1059 L1144 1054 L1169 1064 L1189 1084 L1194 1109 L1186.5 1134 L1164 1139 L1149 1159 L1126.5 1151.5 L1109 1139 L1096.5 1119 L1086.5 1096.5Z" fill="rgb(111,111,111)"/>
<path d="M1116 1081l11 11M1169 1116l8 1M1151 1068l3 7M1166 1063l8 13M1179 1124l-1 6M1114 1138l5 2M1099 1074l-8 -2M1154 1149l-11 8M1167 1108l1 7M1109 1133l7 5M1153 1109l-13 -0M1137 1065l9 6M1091 1087l6 12M1096 1074l5 8M1132 1069l-3 14M1097 1108l8 10M1133 1083l3 5M1096 1121l7 -5M1138 1122l-4 -8M1135 1055l4 15M1177 1123l-4 4M1130 1135l-13 4M1119 1152l13 6M1198 1105l-13 -3M1093 1086l9 -3M1162 1103l-1 9" fill="none" stroke="rgb(134,134,134)" stroke-width="5" stroke-linecap="round"/>
<path d="M1157 1108l-8 6M1146 1050l-8 13M1142 1113l-14 -1M1085 1084l4 15M1136 1106l-3 14M1177 1085l10 7M1166 1084l12 5M1144 1058l-9 -3M1109 1081l5 13M1083 1095l13 8M1189 1105l9 6M1115 1091l-7 7M1142 1139l-8 12M1136 1125l-4 -9M1097 1078l8 3M1120 1092l6 2M1114 1075l-5 -5M1143 1067l-3 8M1146 1138l-1 9M1091 1098l-14 -7M1146 1073l10 -3M1167 1128l1 14M1169 1098l-3 6M1130 1155l-13 -1M1086 1092l0 15M1103 1128l5 2M1173 1110l-1 8M1147 1134l11 1M1164 1069l-7 5M1196 1099l-15 1M1157 1072l2 7M1139 1066l13 -2M1132 1144l-6 1M1103 1120l-7 14M1123 1103l5 -1M1148 1081l4 4" fill="none" stroke="rgb(111,111,111)" stroke-width="5" stroke-linecap="round"/>
<path d="M1097 1077l5 3M1095 1105l-3 6M1142 1102l-11 -7M1158 1114l7 2M1171 1134l1 8M1161 1125l2 10M1142 1136l9 -8M1165 1075l-2 10M1198 1097l-6 13M1123 1145l-5 -6M1146 1137l-9 -5M1091 1085l8 0M1184 1123l-10 -10M1101 1079l-6 10M1141 1127l12 -7M1122 1091l-10 -5M1136 1128l1 6M1155 1121l-3 13" fill="none" stroke="rgb(52,52,52)" stroke-width="5" stroke-linecap="round"/>
<path d="M1175 1090l-3 -9M1150 1132l14 -1M1139 1132l-4 5M1117 1054l-12 9M1139 1153l-12 -2M1125 1109l10 9M1156 1089l4 7M1186 1079l12 10M1112 1109l9 5M1113 1073l-4 7M1111 1138l4 7M1127 1146l12 -11M1150 1124l8 10M1095 1104l-5 -4M1154 1067l2 7M1090 1075l-3 8M1113 1089l-1 6M1195 1092l-2 5M1139 1074l3 8M1123 1141l-7 -1M1124 1070l11 -5M1109 1123l-5 -9M1134 1073l2 13M1116 1091l-6 -2M1125 1123l-8 2" fill="none" stroke="rgb(89,89,89)" stroke-width="5" stroke-linecap="round"/>
<path d="M1128 1107l-5 2M1160 1082l-3 13M1130 1132l-3 11M1101 1129l2 9M1171 1117l-8 4M1198 1116l-10 1M1127 1156l7 -13M1101 1061l-6 12M1177 1079l-9 -11M1122 1085l-5 13" fill="none" stroke="rgb(146,146,146)" stroke-width="5" stroke-linecap="round"/>
<path d="M1096 1069l-6 8M1156 1067l4 -4M1178 1115l-9 3M1104 1122l4 4M1123 1122l-12 8M1093 1075l-5 1M1158 1072l-0 14M1172 1094l-9 -3M1098 1070l-5 -5M1111 1079l-9 12M1146 1069l-14 -6M1134 1076l7 1M1142 1144l-9 11M1125 1161l6 -9M1184 1114l-4 -8" fill="none" stroke="rgb(52,52,52)" stroke-width="3" stroke-linecap="round"/>
<path d="M1127 1065l-5 5M1137 1153l-7 8M1126 1121l1 5M1109 1132l4 -6M1133 1111l-14 6M1104 1093l1 7M1170 1107l-10 -12M1124 1066l5 13M1173 1078l-6 11M1179 1076l-6 4M1110 1118l10 9M1129 1114l1 11M1123 1104l-11 8M1104 1129l-4 4M1144 1127l15 5M1123 1111l8 3M1156 1132l8 3M1147 1143l-2 6M1139 1074l6 0M1175 1067l-0 16M1114 1078l6 -0M1176 1122l4 4M1112 1072l2 8M1150 1082l-2 14M1113 1080l5 9M1088 1078l6 12M1186 1124l8 1M1137 1117l2 9M1163 1090l1 8M1155 1110l-11 11M1129 1119l-2 6M1168 1073l-8 -8M1171 1062l6 5M1130 1126l-1 5M1094 1107l-6 9M1117 1083l3 10M1118 1115l-0 13M1129 1144l1 15M1111 1105l-5 4M1093 1097l-4 9M1128 1102l7 7M1137 1064l-6 -7M1178 1123l-3 6M1162 1070l-6 8M1093 1104l5 7M1139 1139l7 9M1147 1145l10 -9M1130 1119l7 -10M1188 1129l-10 7M1186 1102l5 14" fill="none" stroke="rgb(111,111,111)" stroke-width="3" stroke-linecap="round"/>
<path d="M1137 1054l-8 6M1136 1151l2 -9M1183 1090l11 -2M1157 1114l8 2M1151 1045l-6 11M1178 1103l2 14M1145 1127l2 12M1103 1111l4 13M1098 1084l1 5M1128 1050l6 4M1182 1120l-5 2M1160 1103l6 -10M1123 1114l-9 11M1095 1072l5 2M1082 1078l12 -4M1119 1071l-1 8M1142 1112l9 -0M1113 1121l-8 10M1193 1096l8 7M1144 1111l-5 14M1176 1067l-13 7M1163 1064l-5 7M1187 1117l1 7M1096 1080l2 6M1126 1138l2 6M1106 1053l10 11M1095 1086l6 -2M1147 1138l3 -5M1169 1110l-3 14M1114 1098l9 -1M1165 1121l14 -3M1131 1097l6 10M1136 1143l-10 -1M1164 1075l2 9M1105 1111l-0 -13M1148 1111l5 -5M1174 1088l-0 9" fill="none" stroke="rgb(89,89,89)" stroke-width="3" stroke-linecap="round"/>
<path d="M1146 1158l-11 1M1108 1085l4 14M1168 1070l-4 9M1098 1119l13 1M1200 1099l-13 5M1089 1091l3 12M1094 1097l7 0M1125 1113l4 5M1159 1082l-16 1M1192 1127l-9 -3M1148 1120l0 7M1110 1075l-6 12M1135 1082l-3 5M1145 1132l-7 12M1151 1050l8 11M1175 1077l1 5M1111 1071l0 8" fill="none" stroke="rgb(146,146,146)" stroke-width="3" stroke-linecap="round"/>
<path d="M1190 1101l-8 -2M1128 1143l-5 -5M1188 1085l-12 -4M1129 1085l9 4M1154 1095l6 4M1185 1113l-5 2M1132 1061l5 11M1112 1108l-2 16M1117 1076l-14 6M1139 1111l-5 12M1136 1112l2 15M1113 1057l4 5M1113 1135l-5 1M1186 1079l-12 9M1156 1136l-4 7M1091 1088l-9 -11M1127 1077l-3 11M1092 1095l-10 0M1134 1145l-9 10M1141 1093l5 -6M1103 1106l7 0M1174 1076l3 5M1187 1116l-9 1M1142 1075l10 8M1149 1086l-7 9M1142 1142l4 14" fill="none" stroke="rgb(134,134,134)" stroke-width="3" stroke-linecap="round"/>
<path d="M1129 1011l-9 -1M1042 1126l2 5M1057 1101l0 -5M1084 1072l-6 -1M1127 1013l-7 -3M1083 1058l7 7M1131 1010l-5 3M1101 1033l3 5M1147 958l-8 3M1093 1060l-6 0M1056 1098l-4 8M1096 1045l-6 -2M1080 1073l-7 5M1085 1055l7 -3M1143 978l-7 1M1149 971l-6 4M1092 1047l-2 4M1092 1032l2 7M1056 1090l3 5M1131 1016l-3 -5M1067 1091l-8 3M1131 968l-2 6M1099 1031l-5 7M1067 1095l-0 4M1065 1092l-2 4M1135 1001l-6 -7M1080 1074l-2 9M1066 1103l-4 1M1109 1015l0 5M1020 1142l-5 8" fill="none" stroke="rgb(159,159,159)" stroke-width="5" stroke-linecap="round"/>
<path d="M1061 1088l5 2M1127 1017l-4 -0M1124 1020l-1 6M1087 1042l8 -1M1041 1125l8 1M1099 1035l-4 3M1032 1137l-4 -8M1142 960l-2 5M1075 1072l9 2M1080 1078l-1 5M1117 1023l-6 4M1136 983l6 -2M1126 1013l3 -9" fill="none" stroke="rgb(167,167,167)" stroke-width="5" stroke-linecap="round"/>
<path d="M1138 986l3 6M1135 993l5 4M1133 986l5 7M1020 1144l4 6M1130 980l3 5M1053 1120l-7 3M1099 1025l4 -0M1018 1141l1 10M1144 983l-1 7M1147 997l-8 1M1044 1121l1 7M1139 983l-6 -2M1146 978l-2 4M1150 981l-5 -4M1136 991l-9 -1M1140 963l2 4M1109 1021l6 -0M1127 971l-1 6M1047 1124l-8 -2M1061 1095l2 9M1018 1146l2 5M1100 1025l5 3M1090 1029l5 8M1034 1131l2 8M1136 1008l-5 7M1139 1008l-3 4M1070 1089l0 6M1131 960l4 5M1073 1075l6 3M1141 963l-6 -3" fill="none" stroke="rgb(134,134,134)" stroke-width="5" stroke-linecap="round"/>
<path d="M1115 1012l-1 5M1121 978l8 -2M1147 968l-2 7M1091 1043l7 7M1093 1043l0 9M1131 971l7 -4M1127 982l1 9M1085 1067l-4 2M1128 1000l7 1" fill="none" stroke="rgb(146,146,146)" stroke-width="5" stroke-linecap="round"/>
<path d="M1069 1086l-5 6M1103 1028l-4 -0M1133 1018l-6 -7M1058 1100l-4 3M1136 992l-8 4M1134 988l7 -5M1129 987l-1 6M1098 1052l-8 5M1134 989l0 6M1066 1092l-5 5M1135 997l7 4" fill="none" stroke="rgb(167,167,167)" stroke-width="3" stroke-linecap="round"/>
<path d="M1125 956l3 7M1127 966l0 7M1095 1049l0 4M1092 1052l1 5M1130 980l1 8M1093 1058l-5 2M1133 969l-0 7M1097 1050l3 5M1061 1089l-7 4" fill="none" stroke="rgb(146,146,146)" stroke-width="3" stroke-linecap="round"/>
<path d="M1126 1025l-7 -1M1067 1107l-8 -4M1120 1026l2 -5M1095 1053l-3 8M1140 1005l-7 -6M1064 1105l-7 5M1137 972l6 -4M1141 993l-4 4M1136 984l-5 2M1117 1019l2 5M1078 1069l6 -1M1037 1124l0 10M1133 1008l7 -1M1124 964l9 -1M1139 974l-4 3M1030 1130l1 6M1053 1099l-5 7M1135 992l-3 5M1101 1027l-4 9M1051 1121l-4 2M1131 968l-3 9M1102 1026l-1 7M1051 1098l6 6M1066 1099l-6 -6M1128 1003l2 5M1089 1065l0 4M1104 1027l-1 5M1133 962l1 -4M1136 996l-6 4M1107 1019l8 3M1086 1069l-7 4M1099 1032l-1 8M1106 1016l4 6" fill="none" stroke="rgb(134,134,134)" stroke-width="3" stroke-linecap="round"/>
<path d="M1053 1098l-3 8M1074 1089l-8 5M1091 1056l3 3M1113 1027l9 4M1045 1123l-6 7M1139 963l3 3M1051 1126l-8 -5M1102 1032l-4 -1M1048 1113l3 3M1137 1006l-5 3M1126 1021l5 -6M1046 1114l4 6M1128 961l10 -0M1089 1058l4 4M1050 1112l-4 7M1140 965l2 -4M1077 1084l-2 6M1129 961l5 6M1127 991l7 3M1067 1093l2 -8M1140 994l-6 5M1120 1020l2 8M1140 960l-4 -3M1137 994l8 4M1095 1045l9 2" fill="none" stroke="rgb(159,159,159)" stroke-width="3" stroke-linecap="round"/>
<ellipse cx="1127.75" cy="975.25" rx="3.5" ry="6" transform="rotate(0 1127.75 975.25)" fill="rgb(52,52,52)"/>
<ellipse cx="1101.5" cy="1039" rx="9" ry="10" transform="rotate(0 1101.5 1039)" fill="rgb(52,52,52)"/>
<ellipse cx="1094" cy="1076.5" rx="5" ry="6" transform="rotate(0 1094 1076.5)" fill="rgb(52,52,52)"/>
<ellipse cx="1051.5" cy="1136.5" rx="7" ry="7.5" transform="rotate(0 1051.5 1136.5)" fill="rgb(52,52,52)"/>
<ellipse cx="1137.75" cy="1014" rx="4.5" ry="8.5" transform="rotate(0 1137.75 1014)" fill="rgb(52,52,52)"/>
<ellipse cx="1079" cy="1106.5" rx="4" ry="3" transform="rotate(0 1079 1106.5)" fill="rgb(52,52,52)"/>
</g>
<path d="M642 232 L635 241 L620 244 L605 246 L600 252.5 L602 259 L590 254 L577.5 256 L570 260 L567.5 267.5 L560 272.5 L552.5 280 L550 290 L542.5 297.5 L532.5 297.5 L528.8 305 L532.5 312.5 L530 320 L522.5 330 L515 330 L510 320 L502.5 312.5 L492.5 303.8 L482.5 310 L472.5 320 L467.5 332.5 L457.5 342.5 L450 352.5 L440 357.5 L430 367.5 L417.5 375 L408.8 385 L405 395 L395 398.8 L400 407.5 L397.5 417.5 L400 427.5 L390 436 L380 442.5 L370 445 L366 452.5 L375 460 L372.5 472.5 L362.5 480 L357.5 490 L362.5 500 L355 503.8 L345 501 L338.8 510 L332.5 520 L330 535 L328.8 547.5 L323.8 557.5 L321 562 L318.8 577 L321 589.5 L322.5 602 L326 614.5 L332 622 L340 630 L360 660 L382 692 L372.5 697 L370 707 L370 722 L375 737 L377.5 747 L385 754.5 L382.5 769.5 L370 779.5 L357.5 789.5 L350 792 L345 802 L332.5 809.5 L320 819.5 L302.5 822 L297.5 827 L310 837 L307.5 847 L295 852 L292.5 857 L302.5 867 L307.5 879.5 L302.5 892 L295 899.5 L287.5 907 L295 917 L305 924.5 L312.5 934 L315 944 L327.5 951.5 L330 961.5 L320 971.5 L320 981.5 L332.5 989 L325 999 L335 1009 L347.5 1014 L342.5 1026.5 L337.5 1036.5 L340 1046.5 L330 1054 L326 1059 L337.5 1066.5 L340 1076.5 L352.5 1084 L355 1094 L351 1101.5 L362.5 1109 L367.5 1124 L377.5 1134 L375 1144 L370 1159 L370 1171.5 L357.5 1174 L347.5 1179 L360 1184 L370 1191.5 L380 1196.5 L385 1209 L390 1219 L386 1229 L400 1234 L410 1236.5 L425 1236.5 L440 1241.5 L452.5 1246.5 L465 1251.5 L470 1259 L475 1269 L487.5 1271.5 L500 1276.5 L505 1282.8 L515 1276.5 L530 1284 L542.5 1284 L552.5 1279 L565 1284 L580 1291.5 L595 1284 L610 1284 L625 1286.5 L638 1284 L644 1266 L657 1266.5 L667 1274 L677 1264 L692 1271.5 L699.5 1261.5 L709.5 1274 L717 1259 L727 1251.5 L735 1248.5 L742.5 1252.5 L750 1260 L760 1267.5 L775 1272.5 L782.5 1280 L775 1287.5 L782.5 1297.5 L785 1307.5 L792.5 1312.5 L805 1307.5 L812.5 1300 L825 1305 L835 1307.5 L842.5 1315 L847.5 1322.5 L857.5 1327.5 L870 1327.5 L882.5 1325 L895 1326 L907.5 1325 L920 1320 L925 1310 L937.5 1307.5 L952.5 1300 L970 1297.5 L985 1300 L995 1297.5 L1007.5 1305 L1010 1295 L1002.5 1282.5 L992.5 1272.5 L1002.5 1262.5 L1007.5 1250 L1015 1240 L1015 1230 L1027.5 1235 L1045 1242.5 L1060 1243.8 L1055 1232.5 L1070 1225 L1080 1217.5 L1082.5 1205 L1092 1197.5 L1094 1199 L1106.5 1199 L1109 1189 L1114 1174 L1109 1159 L1114 1149 L1126.5 1156.5 L1139 1169 L1149 1176.5 L1146.5 1166.5 L1149 1154 L1154 1141.5 L1164 1134 L1176.5 1141.5 L1189 1144 L1186.5 1134 L1191.5 1124 L1201.5 1116.5 L1211.5 1109 L1206.5 1099 L1209 1086.5 L1214 1074 L1214 1059 L1219 1049 L1226.5 1054 L1234 1064 L1244 1059 L1247.8 1044 L1244 1029 L1236.5 1019 L1231.5 1006.5 L1226.5 991.5 L1231.5 979 L1241.5 969 L1234 959 L1246.5 951.5 L1239 944 L1251.5 934 L1254 930 L1251.5 919.5 L1239 914.5 L1231.5 907 L1234 894.5 L1236.5 879.5 L1226.5 867 L1224 852 L1219 839.5 L1211.5 832 L1206.5 822 L1211.5 812 L1216.5 802 L1229 799.5 L1239 792 L1239 782 L1226.5 777 L1214 772 L1221.5 762 L1226.5 752 L1214 744.5 L1224 734.5 L1226.5 722 L1214 717 L1211.5 704.5 L1201.5 694.5 L1209 684.5 L1214 674.5 L1201.5 669.5 L1199 657 L1194 647 L1196.5 634.5 L1191.5 624.5 L1181.5 617 L1174 607 L1181.5 597 L1184 584.5 L1176.5 579.5 L1164 572 L1159 562 L1152 558 L1150 547.5 L1149 537.5 L1141.5 535 L1134 547.5 L1126.5 545 L1121.5 535 L1119 525 L1114 517.5 L1104 510 L1096.5 500 L1091.5 490 L1086.5 482.5 L1080 477.5 L1074 470 L1064 462.5 L1054 455 L1061.5 445 L1066.5 435 L1059 421 L1046.5 420 L1034 410 L1031.5 397.5 L1036.5 387.5 L1032.8 377.5 L1024 382.5 L1014 387.5 L1002 380 L992 367.5 L984.5 355 L984.5 345 L977 337.5 L974.5 327.5 L984.5 320 L987 302.5 L989.5 290 L992 275 L999.5 265 L1009.5 260 L1010.8 248.8 L1004.5 245 L999.5 250 L989.5 243.8 L977 235 L964.5 233.8 L957 237.5 L942 235 L929.5 230 L917 225 L902 222.5 L892 215 L879.5 210 L867 212.5 L862 207.5 L854.5 201 L847 203.8 L844.5 211 L832 213.8 L817 217.5 L804.5 222.5 L792 220 L777 217.5 L769.5 222.5 L759.5 222.5 L749.5 215 L742 206 L729.5 207.5 L717 211 L704.5 215 L697 207.5 L690.8 206 L684.5 215 L674.5 220 L662 217.5 L649.5 220 L642 232" fill="none" stroke="rgb(111,111,111)" stroke-width="6.0" stroke-linecap="round" stroke-linejoin="round"/>
</g>
<g filter="url(#rag)">
<path d="M693 443l4 -10M663 430l5 -0M559 485l7 0" fill="none" stroke="#ff0000" stroke-width="2" stroke-linecap="round"/>
<path d="M551 520l5 -0M559 521l4 -1M603 469l3 -4M713 425l3 -3M642 486l5 -5M696 440l6 -0M737 412l6 -7M585 477l4 -7M737 415l4 -5M709 432l3 -4" fill="none" stroke="#ff0000" stroke-width="2.5" stroke-linecap="round"/>
<path d="M682 417l5 -8M747 415l6 -2M636 488l6 -8M578 507l6 -5M601 500l7 -7M636 446l8 -4M617 463l7 -6M568 490l5 -9M579 507l3 -4M687 446l6 -7M563 518l4 -6M574 482l5 -3" fill="none" stroke="#ff0000" stroke-width="3" stroke-linecap="round"/>
<path d="M543 500l9 -5M643 439l5 -1M703 430l8 -3M668 459l8 -6M681 422l4 -9M551 492l6 0M645 444l5 -6M718 422l6 -3M577 485l2 -4M564 521l10 -2" fill="none" stroke="#ff0000" stroke-width="3.5" stroke-linecap="round"/>
<path d="M546 499l5 -7M682 447l3 -5M715 398l3 -7" fill="none" stroke="#ff0000" stroke-width="4" stroke-linecap="round"/>
<path d="M736 409l9 -5M683 444l8 -7M615 484l9 -1M681 423l4 -7M678 445l8 -1" fill="none" stroke="#ba55d3" stroke-width="2" stroke-linecap="round"/>
<path d="M553 500l4 -5M617 462l9 -3M640 447l9 -1" fill="none" stroke="#ba55d3" stroke-width="2.5" stroke-linecap="round"/>
<path d="M706 403l8 -4M658 463l5 -8M616 463l6 0M722 418l5 -8" fill="none" stroke="#ba55d3" stroke-width="3" stroke-linecap="round"/>
<path d="M689 414l5 -1M593 478l6 -6M694 411l9 -4M716 418l9 -1" fill="none" stroke="#ba55d3" stroke-width="3.5" stroke-linecap="round"/>
<path d="M626 457l7 -3M633 474l7 -0M563 493l4 -2M708 402l4 -2" fill="none" stroke="#ba55d3" stroke-width="4" stroke-linecap="round"/>
<path d="M567 510l4 -1M661 458l3 -3M716 419l4 -5M694 411l10 -3" fill="none" stroke="#ff0000" stroke-width="2" stroke-linecap="round"/>
<path d="M697 433l5 -6M609 488l7 -3M627 478l8 -4M594 495l4 -2M638 472l7 -3" fill="none" stroke="#ff0000" stroke-width="2.5" stroke-linecap="round"/>
<path d="M588 499l7 -5M639 453l4 -4M651 462l5 -2M712 420l9 -4M735 405l9 0M698 430l9 -6M646 450l3 -5" fill="none" stroke="#ff0000" stroke-width="3" stroke-linecap="round"/>
<path d="M582 503l8 -4M671 428l8 -3M561 513l5 -1M589 482l6 -7M670 434l1 -4M639 471l5 -3M630 474l9 -2" fill="none" stroke="#ff0000" stroke-width="3.5" stroke-linecap="round"/>
<path d="M580 487l5 -4" fill="none" stroke="#ff0000" stroke-width="2" stroke-linecap="round"/>
<path d="M701 429l4 -7M736 404l7 -2M630 475l5 -5M579 486l4 -2M602 477l2 -4M583 485l9 -5M736 393l4 -6M724 413l4 -5M684 422l9 -6M555 515l5 -2M713 401l6 -0M560 514l7 -7M730 404l11 1" fill="none" stroke="#ff0000" stroke-width="2.5" stroke-linecap="round"/>
<path d="M726 411l5 -6M599 493l3 -5M565 510l6 -4M679 428l4 -6M723 398l4 -6" fill="none" stroke="#ff0000" stroke-width="3" stroke-linecap="round"/>
<path d="M610 485l4 -1M738 391l6 -5M696 430l9 -5M666 450l8 -3M727 396l5 -5M686 419l7 -2" fill="none" stroke="#ff0000" stroke-width="3.5" stroke-linecap="round"/>
<path d="M690 416l8 -2M605 473l7 -2M607 487l7 -6M738 391l6 -5M666 439l3 -6" fill="none" stroke="#ff0000" stroke-width="4" stroke-linecap="round"/>
<path d="M685 435l5 -0M585 487l3 -5M677 441l9 -3M556 500l8 -2" fill="none" stroke="#ff8000" stroke-width="2" stroke-linecap="round"/>
<path d="M675 445l4 -4M620 468l8 -6M594 480l7 -1M705 413l4 -7M591 483l5 -4M601 490l4 -4M646 464l4 -5M655 447l7 -6M719 413l9 -7M695 429l6 -4M638 469l4 -5M562 498l6 -2M562 498l3 -3M582 486l6 1M562 509l4 -2" fill="none" stroke="#ff8000" stroke-width="2.5" stroke-linecap="round"/>
<path d="M612 472l5 -3M601 474l9 0M735 390l7 2M670 449l7 -5M575 504l4 -6M697 416l7 -7M552 505l3 -5M621 480l4 -6M594 482l8 -5" fill="none" stroke="#ff8000" stroke-width="3" stroke-linecap="round"/>
<path d="M736 393l7 -3M544 506l7 -2M554 515l4 -6M567 496l7 -6M707 418l9 -1M626 477l5 -5M729 394l7 -1M705 410l4 -5" fill="none" stroke="#ff8000" stroke-width="3.5" stroke-linecap="round"/>
<path d="M551 516l4 -4M546 506l5 -3M691 430l10 -3M566 494l7 -2" fill="none" stroke="#ff8000" stroke-width="4" stroke-linecap="round"/>
<path d="M600 479l7 -1M673 444l3 -3M555 502l7 -1M710 410l3 -4M638 459l6 -6M665 446l10 -2M698 415l6 -1M607 485l4 -3M697 418l4 -7" fill="none" stroke="#ffff00" stroke-width="2" stroke-linecap="round"/>
<path d="M589 487l4 -6M574 493l6 -2M629 463l9 -5M577 500l8 -6M563 506l10 -2M670 445l8 -4M602 486l10 -4M626 471l5 0M562 501l5 -7M662 449l5 -0" fill="none" stroke="#ffff00" stroke-width="2.5" stroke-linecap="round"/>
<path d="M619 471l5 -7M678 439l7 -1M549 517l5 -8M733 403l4 -2M731 405l2 -4M609 484l7 -5M555 514l5 -5M613 471l4 0" fill="none" stroke="#ffff00" stroke-width="3" stroke-linecap="round"/>
<path d="M740 398l8 2M575 501l9 -6M690 427l10 -2M687 423l6 -2M730 398l6 -7M585 496l5 -3M596 482l3 -3M651 452l6 -9M678 429l6 -1M727 408l2 -4M566 496l7 -0" fill="none" stroke="#ffff00" stroke-width="3.5" stroke-linecap="round"/>
<path d="M583 485l9 0M734 395l9 -5M551 514l8 -6M630 463l8 -5M575 500l5 -1" fill="none" stroke="#ffff00" stroke-width="4" stroke-linecap="round"/>
<path d="M721 404l3 -4M597 491l5 -8M669 447l6 -9" fill="none" stroke="#ffff00" stroke-width="2" stroke-linecap="round"/>
<path d="M655 450l3 -4M670 446l3 -7M565 499l8 -3M600 479l10 -2M566 497l9 -2M586 491l4 -6M551 509l10 -2M587 489l3 -5M719 412l3 -5M691 421l7 -2M600 480l4 -2" fill="none" stroke="#ffff00" stroke-width="2.5" stroke-linecap="round"/>
<path d="M595 487l4 0M605 486l5 -8M556 504l4 0M673 445l2 -7M653 454l8 -4M672 435l10 -2M723 409l4 -8M675 440l7 -5M628 469l4 -8M671 443l4 -2M566 505l3 -3M694 425l8 -6M671 444l5 -4" fill="none" stroke="#ffff00" stroke-width="3" stroke-linecap="round"/>
<path d="M562 500l7 -0M617 472l8 -5M673 436l6 -2M705 414l2 -5M731 400l7 -8M625 473l4 -5M703 421l6 -6M558 508l8 -4M555 505l5 -3M720 402l4 -1M680 431l8 -6" fill="none" stroke="#ffff00" stroke-width="3.5" stroke-linecap="round"/>
<path d="M666 441l6 -1M638 461l3 -3M642 459l4 -6M692 424l4 -6M592 484l7 0M610 482l2 -4M555 504l9 -4M577 493l8 -6M631 465l5 -6" fill="none" stroke="#ffff00" stroke-width="4" stroke-linecap="round"/>
<path d="M566 502l3 -5M670 444l5 -5M720 406l9 -6M638 463l6 -5M732 397l7 -1M577 495l5 0M697 422l4 -7M704 418l6 -4M742 397l4 -2" fill="none" stroke="#ffff00" stroke-width="2" stroke-linecap="round"/>
<path d="M585 490l6 0M703 417l5 -0M664 444l6 -4M699 423l6 -9M684 432l4 -9M659 448l10 -3M689 424l5 -2M669 445l4 -6M661 450l7 -8M598 486l8 -4M742 397l4 -2M680 435l8 -6M654 449l10 -0M560 505l5 -2M638 462l4 -0M603 481l4 -3" fill="none" stroke="#ffff00" stroke-width="2.5" stroke-linecap="round"/>
<path d="M693 423l6 -2M672 440l5 -1M605 480l9 -1M565 501l9 -4M713 410l6 -4M653 456l5 -7M729 403l9 -6M615 473l10 -1M558 505l9 -5M642 458l7 -2M668 441l4 -1M569 500l8 -3M592 486l9 -1M676 441l3 -8M603 481l6 -3" fill="none" stroke="#ffff00" stroke-width="3" stroke-linecap="round"/>
<path d="M720 405l4 -2M665 446l5 -4M675 438l6 -1M577 496l4 -2M624 471l9 -4M619 473l10 -5M737 399l5 -4M691 424l6 -3M559 506l4 -6M701 418l8 -2M689 426l5 -4" fill="none" stroke="#ffff00" stroke-width="3.5" stroke-linecap="round"/>
<path d="M668 440l9 -1M548 511l3 -5M698 418l10 -3M681 432l7 -3M621 473l8 -3M586 495l5 -9M605 482l7 -8M679 434l10 -3" fill="none" stroke="#ffff00" stroke-width="4" stroke-linecap="round"/>
<path d="M602 481l6 -4M600 482l5 -5M624 475l4 -2M718 410l4 -2" fill="none" stroke="#7fff00" stroke-width="1.5" stroke-linecap="round"/>
<path d="M652 452l6 -5M689 424l3 -3" fill="none" stroke="#7fff00" stroke-width="2" stroke-linecap="round"/>
<path d="M734 400l5 -1M699 418l5 -6M601 487l4 -5M668 441l4 -6M692 423l4 -2M695 421l4 -6" fill="none" stroke="#7fff00" stroke-width="2.5" stroke-linecap="round"/>
<path d="M682 435l3 -4M696 419l4 -3M713 413l3 -3" fill="none" stroke="#7fff00" stroke-width="3" stroke-linecap="round"/>
<path d="M688 425l6 -2M677 436l5 -2" fill="none" stroke="#adff2f" stroke-width="1.5" stroke-linecap="round"/>
<path d="M718 411l4 -5M702 418l7 -2M671 444l4 -7" fill="none" stroke="#adff2f" stroke-width="2" stroke-linecap="round"/>
<path d="M678 436l4 -1M604 484l6 -4M611 479l4 -2M649 458l3 -3M693 427l3 -5M601 483l8 -1" fill="none" stroke="#adff2f" stroke-width="2.5" stroke-linecap="round"/>
<path d="M632 469l4 -5M626 468l6 -4" fill="none" stroke="#adff2f" stroke-width="3" stroke-linecap="round"/>
<path d="M655 451l6 -4M653 452l7 -1M638 461l7 -3" fill="none" stroke="#adff2f" stroke-width="1.5" stroke-linecap="round"/>
<path d="M679 435l4 -2M705 416l4 -5M601 484l7 -4" fill="none" stroke="#adff2f" stroke-width="2" stroke-linecap="round"/>
<path d="M662 446l4 -1M720 409l4 -5M650 454l5 -1" fill="none" stroke="#adff2f" stroke-width="2.5" stroke-linecap="round"/>
<path d="M635 463l5 -1M609 480l4 -5M651 453l7 -1" fill="none" stroke="#adff2f" stroke-width="3" stroke-linecap="round"/>
<path d="M763 291l9 -2" fill="none" stroke="#ff0000" stroke-width="1.5" stroke-linecap="round"/>
<path d="M740 294l11 -2M775 289l6 -1" fill="none" stroke="#ff0000" stroke-width="2" stroke-linecap="round"/>
<path d="M750 296l11 2" fill="none" stroke="#ff0000" stroke-width="2.5" stroke-linecap="round"/>
<path d="M769 296l6 -4" fill="none" stroke="#ff0000" stroke-width="3" stroke-linecap="round"/>
<path d="M756 291l8 1" fill="none" stroke="#ffff00" stroke-width="2.5" stroke-linecap="round"/>
<path d="M767 290l5 2M778 290l7 0" fill="none" stroke="#ffff00" stroke-width="2" stroke-linecap="round"/>
<path d="M775 293l5 -1M746 296l8 -2M775 290l5 -1M766 291l6 -0" fill="none" stroke="#ffff00" stroke-width="2.5" stroke-linecap="round"/>
<path d="M764 293l7 -2M738 298l10 -3" fill="none" stroke="#adff2f" stroke-width="2" stroke-linecap="round"/>
<path d="M758 294l6 -3M781 292l11 -4" fill="none" stroke="#adff2f" stroke-width="3" stroke-linecap="round"/>
<path d="M770 388l2 4" fill="none" stroke="#ff0000" stroke-width="1.5" stroke-linecap="round"/>
<path d="M760 350l-0 8M762 339l1 4M761 353l0 5" fill="none" stroke="#ff0000" stroke-width="2" stroke-linecap="round"/>
<path d="M769 375l-0 6" fill="none" stroke="#ff0000" stroke-width="2.5" stroke-linecap="round"/>
<path d="M761 335l1 9" fill="none" stroke="#ff8000" stroke-width="1.5" stroke-linecap="round"/>
<path d="M753 336l5 5M742 320l3 3M743 320l2 4M767 359l3 3" fill="none" stroke="#ff8000" stroke-width="2" stroke-linecap="round"/>
<path d="M764 363l2 5M776 377l1 8" fill="none" stroke="#ff8000" stroke-width="2.5" stroke-linecap="round"/>
<path d="M775 382l2 7" fill="none" stroke="#ffff00" stroke-width="1.5" stroke-linecap="round"/>
<path d="M765 358l-0 7M773 387l0 5M773 376l2 7M745 315l2 8" fill="none" stroke="#ffff00" stroke-width="2" stroke-linecap="round"/>
<path d="M755 335l1 5M762 344l1 5M741 316l4 7M739 315l4 4" fill="none" stroke="#ffff00" stroke-width="2.5" stroke-linecap="round"/>
<path d="M760 340l1 4M750 328l5 3" fill="none" stroke="#ffff00" stroke-width="1.5" stroke-linecap="round"/>
<path d="M749 325l2 4M759 341l0 4M749 325l5 5" fill="none" stroke="#ffff00" stroke-width="2" stroke-linecap="round"/>
<path d="M709 371l4 -3M719 371l4 -3" fill="none" stroke="#ff0000" stroke-width="1.5" stroke-linecap="round"/>
<path d="M699 380l4 -3" fill="none" stroke="#ff0000" stroke-width="2.5" stroke-linecap="round"/>
<path d="M722 360l4 -3" fill="none" stroke="#ff0000" stroke-width="3" stroke-linecap="round"/>
<path d="M709 373l4 -2" fill="none" stroke="#ff8000" stroke-width="2" stroke-linecap="round"/>
<path d="M709 376l4 -2" fill="none" stroke="#ff8000" stroke-width="2.5" stroke-linecap="round"/>
<path d="M711 371l4 -3" fill="none" stroke="#ff8000" stroke-width="3" stroke-linecap="round"/>
<path d="M705 381l4 -3M726 363l4 -6" fill="none" stroke="#ffff00" stroke-width="2" stroke-linecap="round"/>
<path d="M708 377l4 -4" fill="none" stroke="#ffff00" stroke-width="2.5" stroke-linecap="round"/>
<path d="M699 387l3 -5M713 371l4 -4" fill="none" stroke="#ffff00" stroke-width="3" stroke-linecap="round"/>
<path d="M640 543 L647 525 L657 512.5 L667 502.5 L679.5 492.5 L692 487.5 L707 482.5 L724.5 480" fill="none" stroke="#ffff00" stroke-width="13" stroke-linecap="round" stroke-linejoin="round" opacity="0.9"/>
<path d="M640 543 L647 525 L657 512.5 L667 502.5 L679.5 492.5 L692 487.5 L707 482.5 L724.5 480" fill="none" stroke="#00ff00" stroke-width="9" stroke-linecap="round" stroke-linejoin="round" opacity="0.9"/>
<path d="M640 543 L647 525 L657 512.5 L667 502.5 L679.5 492.5 L692 487.5 L707 482.5 L724.5 480" fill="none" stroke="#1e90ff" stroke-width="5.5" stroke-linecap="round" stroke-linejoin="round" opacity="1"/>
<path d="M724.5 480 L742 480 L767 482.5 L792 485 L817 486 L832 490" fill="none" stroke="#ffff00" stroke-width="9" stroke-linecap="round" stroke-linejoin="round" opacity="0.9"/>
<path d="M724.5 480 L742 480 L767 482.5 L792 485 L817 486 L832 490" fill="none" stroke="#00ff00" stroke-width="6" stroke-linecap="round" stroke-linejoin="round" opacity="0.9"/>
<path d="M724.5 480 L742 480 L767 482.5 L792 485 L817 486 L832 490" fill="none" stroke="#1e90ff" stroke-width="3.5" stroke-linecap="round" stroke-linejoin="round" opacity="1"/>
<path d="M497 706 L505 704.5 L520 694.5 L535 690.8 L550 690.8 L565 692 L575 687 L585 684.5 L592.5 674.5 L605 667" fill="none" stroke="#ff8000" stroke-width="8" stroke-linecap="round" stroke-linejoin="round" opacity="0.9"/>
<path d="M497 706 L505 704.5 L520 694.5 L535 690.8 L550 690.8 L565 692 L575 687 L585 684.5 L592.5 674.5 L605 667" fill="none" stroke="#ffff00" stroke-width="5.5" stroke-linecap="round" stroke-linejoin="round" opacity="1"/>
<path d="M607.5 657 L605 644.5 L610 634.5 L615 622 L617.5 609.5" fill="none" stroke="#ffff00" stroke-width="4" stroke-linecap="round" stroke-linejoin="round" opacity="0.8"/>
<path d="M612 580 L625 574.5 L630 567 L628 557" fill="none" stroke="#adff2f" stroke-width="5" stroke-linecap="round" stroke-linejoin="round" opacity="0.9"/>
<path d="M652 1039 L672 1030 L687 1036.5 L702 1041.5 L717 1047.8 L732 1056.5 L747 1059 L762 1056.5 L774.5 1054" fill="none" stroke="#ffff00" stroke-width="10" stroke-linecap="round" stroke-linejoin="round" opacity="0.9"/>
<path d="M652 1039 L672 1030 L687 1036.5 L702 1041.5 L717 1047.8 L732 1056.5 L747 1059 L762 1056.5 L774.5 1054" fill="none" stroke="#00ff00" stroke-width="6.5" stroke-linecap="round" stroke-linejoin="round" opacity="0.9"/>
<path d="M687 1036.5 L702 1041.5 L717 1047.8 L732 1056.5 L747 1059" fill="none" stroke="#1e90ff" stroke-width="3.5" stroke-linecap="round" stroke-linejoin="round" opacity="1"/>
</g>
<path d="M642 540 L647 525 L657 512.5 L667 502.5 L679.5 492.5 L692 487.5 L707 482.5 L724.5 480 L742 480 L767 482.5 L792 485 L817 486 L832 490 L847 497.5 L862 505 L877 515 L892 517.5 L907 520 L922 517.5 L937 520 L947 525 L945.8 540 L952 547.5 L957 555 L967 550 L979.5 547.5 L992 550 L1004.5 552.5 L1014 550 L1026.5 562 L1039 572 L1049 577 L1064 574.5 L1076.5 582 L1084 594.5 L1081.5 607 L1076.5 617 L1079 632 L1086.5 647 L1091.5 662 L1096.5 679.5 L1101.5 692 L1099 702 L1089 709.5 L1094 724.5 L1086.5 734.5 L1081.5 742 L1089 749.5 L1099 757 L1111.5 762 L1121.5 774.5 L1129 784.5 L1136.5 794.5 L1146.5 799.5 L1151.5 812 L1149 824.5 L1146.5 837 L1150 852 L1147.8 867 L1154 877 L1169 879.5 L1174 889.5 L1166.5 897 L1161.5 907 L1164 919.5 L1156.5 927 L1152.8 934 L1146.5 944 L1139 954 L1131.5 961.5 L1124 971.5 L1124 984 L1131.5 996.5 L1124 1009 L1109 1016.5 L1099 1024 L1091.5 1034 L1089 1046.5 L1086.5 1059 L1079 1066.5 L1074 1079 L1064 1089 L1051.5 1094 L1051.5 1106.5 L1046.5 1119 L1041.5 1129 L1031.5 1136.5 L1021.5 1144 L1014 1150 L999.5 1156.5 L987 1161.5 L972 1166.5 L957 1169 L942 1166.5 L927 1169 L914.5 1179 L902 1184 L892 1179 L877 1180 L862 1179 L847 1171.5 L832 1169 L817 1171.5 L802 1166.5 L789.5 1161.5 L782 1154 L784.5 1141.5 L787 1129 L794.5 1119 L802 1109 L807 1099 L809.5 1086.5 L804.5 1074 L799.5 1061.5 L792 1049 L784.5 1046.5 L774.5 1054 L762 1056.5 L747 1059 L732 1056.5 L717 1047.8 L702 1041.5 L687 1036.5 L672 1030 L652 1039 L642 1049 L630 1041.5 L620 1049 L605 1051.5 L592.5 1051.5 L580 1046.5 L570 1039 L557.5 1041.5 L545 1034 L532.5 1031.5 L522.5 1021.5 L515 1011.5 L502.5 1014 L492.5 1009 L487.5 996.5 L482.5 984 L477 971.5 L477.5 959 L472.5 946.5 L471 934 L482.5 922 L477.5 912 L472.5 902 L465 894.5 L450 899.5 L440 907 L425 909.5 L417.5 899.5 L412.5 887 L415 872 L420 857 L422.5 837 L425 827 L430 814.5 L442.5 807 L445 794.5 L435 782 L425 774.5 L430 764.5 L442.5 759.5 L445 747 L430 749.5 L417.5 754.5 L410 742 L405 752 L395 742 L382.5 734.5 L377.5 722 L385 707 L392.5 702 L390 694.5 L380 692 L375 684.5 L365 679.5 L355 674.5 L347.5 667 L340 657 L335 642 L332.5 624.5 L328.8 607 L326 595 L327 585 L333 582 L338 590 L337 600 L342 612 L342.5 629.5 L355 627 L370 629.5 L382.5 642 L400 649.5 L410 659.5 L425 664.5 L440 672 L457.5 677 L472.5 689.5 L485 697 L495 705.8 L505 704.5 L520 694.5 L535 690.8 L550 690.8 L565 692 L575 687 L585 684.5 L592.5 674.5 L605 667 L607.5 657 L605 644.5 L610 634.5 L615 622 L617.5 609.5 L615 597 L610 587 L612.5 579.5 L625 574.5 L630 567 L628 557 L636.7 546.7Z" fill="#b4b4b4"/>
<g fill="#848484">
<path d="M502.5 705 L520 695 L535 691.2 L555 690 L572.5 690 L585 685 L592.5 675 L607.5 667.5 L615 677.5 L630 680 L645 685 L642.5 695 L635 707.5 L630 720 L632.5 730 L638.8 742.5 L632.5 741.2 L625 745 L620 755 L622.5 767.5 L632.5 780 L620 777.5 L610 772.5 L607.5 780 L600 775 L600 765 L592.5 770 L582.5 770 L580 760 L585 752.5 L580 750 L572.5 765 L577.5 780 L580 790 L570 795 L560 792.5 L547.5 790 L540 795 L547.5 805 L537.5 810 L530 815 L535 802.5 L530 795 L522.5 805 L520 797.5 L525 787.5 L517.5 775 L507.5 782.5 L495 791.2 L492.5 785 L502.5 777.5 L510 765 L505 745 L502.5 725 L497.5 715Z"/>
<path d="M617.5 615 L620 602.5 L615 592.5 L610 582.5 L615 572.5 L625 570 L627.5 560 L630 547.5 L640 540 L652.5 530 L662.5 517.5 L672.5 502.5 L685 492.5 L710 485 L732.5 481.2 L785 482.5 L832 485 L832 493.8 L810 500 L792.5 497.5 L790 488.8 L777.5 492.5 L760 490 L742.5 497.5 L732.5 502.5 L730 510 L720 505 L700 507.5 L695 497.5 L687.5 502.5 L685 512.5 L675 512.5 L670 522.5 L665 532.5 L657.5 540 L655 550 L650 557.5 L652.5 565 L647.5 575 L647.5 585 L645 595 L635 600 L625 605 L620 612.5Z"/>
<path d="M827 488.8 L847 497.5 L862 505 L877 515 L892 517.5 L907 520 L922 517.5 L922 523.8 L907 528.8 L892 533 L877 530.5 L872 523 L859.5 518 L854.5 513 L842 505.5 L832 496.2Z"/>
<path d="M347.5 633.2 L357.5 628.2 L370 630.8 L382.5 642 L400 650.8 L410 659.5 L425 664.5 L435 671.5 L425 674.5 L410 679.5 L405 672 L390 674.5 L375 669.5 L365 662 L357.5 652 L352.5 642Z"/>
<path d="M445 674.5 L457.5 677.5 L472.5 689.5 L485 697.5 L477.5 697 L465 687 L452.5 682Z"/>
<path d="M380 709.5 L400 707 L420 709.5 L440 712 L450 724.5 L452.5 742 L450 757 L452.5 772 L445 777 L432.5 774.5 L430 764.5 L442.5 759.5 L445 747 L430 749.5 L417.5 754.5 L410 742 L405 752 L395 742 L382.5 734.5 L377.5 722Z"/>
<path d="M422.5 834.5 L432.5 839.5 L435 862 L432.5 887 L437.5 904.5 L425 907 L415 897 L412.5 877 L420 857 L420 842Z"/>
<path d="M462.5 884.5 L475 883.2 L477.5 894.5 L470 898.2Z"/>
<path d="M333.8 585.8 L350 584.5 L351.2 593.2 L337.5 595.8Z"/>
<path d="M318.8 629.5 L328.8 633.2 L330 637 L321.2 635.8Z"/>
<path d="M350 677 L357.5 679.5 L362.5 689.5 L357.5 694.5 L350 684.5Z"/>
<path d="M1027.8 719.5 L1041.5 715.8 L1056.5 712 L1071.5 705.8 L1086.5 705.8 L1091.5 714.5 L1094 724.5 L1089 732 L1079 737 L1069 729.5 L1059 728.2 L1044 730.8 L1034 727Z"/>
<path d="M1124 777 L1131.5 785.8 L1139 795.8 L1149 800.8 L1152.8 812 L1149 824.5 L1145.2 827 L1144 812 L1137.8 804.5 L1134 794.5 L1127.8 788.2Z"/>
<path d="M1149 877 L1169 879.5 L1174 889.5 L1166.5 897 L1161.5 907 L1164 919.5 L1156.5 927 L1152.8 934 L1151.5 922 L1144 912 L1144 902 L1149 894.5 L1146.5 884.5Z"/>
<path d="M477.5 951.5 L485 956.5 L487.5 969 L495 976.5 L502.5 989 L510 996.5 L517.5 1006.5 L525 1014 L535 1024 L540 1029 L532.5 1031.5 L522.5 1021.5 L515 1011.5 L502.5 1014 L492.5 1009 L487.5 996.5 L482.5 984 L480 971.5 L476.2 959Z"/>
<path d="M565 1036.5 L580 1041.5 L595 1044 L600 1034 L605 1024 L612.5 1029 L620 1026.5 L627.5 1034 L632.5 1034 L630 1041.5 L620 1049 L605 1051.5 L592.5 1051.5 L580 1046.5Z"/>
<path d="M690.6 907.5 L704 918 L717.5 931.7 L736 942 L755 950 L762 954 L772 966.5 L782 984 L792 999 L794.5 1016.5 L789.5 1029 L782 1034 L787 1044 L784.5 1046.5 L774.5 1054 L762 1056.5 L747 1059 L732 1056.5 L717 1047.8 L702 1041.5 L687 1036.5 L672 1030 L652 1039 L642 1049 L630 1041.5 L620 1040 L642 1021.5 L647 1009 L642 994 L657 976.5 L667 966.5 L674.5 954 L692 946.5 L698.7 926 L693 915Z"/>
<path d="M837 1162.8 L842 1164 L849.5 1174 L844.5 1172.8Z"/>
<path d="M903.2 1174 L912 1172.8 L913.2 1180.2 L904.5 1181.5Z"/>
<path d="M932 1161.5 L945.8 1160.2 L945.8 1167.8 L933.2 1169Z"/>
<path d="M959.5 1157.8 L964.5 1156.5 L965.8 1181.5 L959.5 1181.5Z"/>
<path d="M1096.5 1006.5 L1102.8 1005.2 L1104 1019 L1089 1039 L1081.5 1054 L1079 1046.5 L1086.5 1034 L1096.5 1019Z"/>
<path d="M1150.2 934 L1159 935.2 L1154 941.5 L1147.8 941.5Z"/>
<path d="M1215 206 L1218 206 L1218.5 209 L1215 209.5Z"/>
<path d="M1355.5 316.5 L1357.5 316.5 L1357.5 318.5 L1355.5 318.5Z"/>
<path d="M1362.5 338.5 L1365 338.5 L1365 342 L1362.5 342Z"/>
<path d="M434 289 L438 288 L439 291 L435 292Z"/>
<path d="M327 318 L335 313 L348 314 L357 318 L358 322 L350 320 L340 319 L330 322Z"/>
<path d="M350 466 L357 464 L360 468 L352 470Z"/>
<path d="M124 468 L128 462 L134 462 L136 470 L131 482 L126 490 L122 492 L118 486 L122 478Z"/>
<path d="M108 492 L118 488 L122 496 L116 500 L108 498Z"/>
<path d="M90 598 L110 592 L130 584 L142 576 L150 566 L154 560 L152 572 L146 586 L136 598 L122 610 L108 622 L96 636 L90 650Z"/>
<path d="M303 586 L306 578 L309 586 L306 602Z"/>
<path d="M297 610 L301 606 L303 616 L299 622Z"/>
<path d="M318 676 L326 672 L340 682 L346 694 L336 692 L324 686Z"/>
</g>
<g fill="#b4b4b4">
<path d="M572.5 693 L585 695 L595 707.5 L605 720 L610 730 L606.2 740 L598.8 742.5 L593.8 732.5 L590 720 L580 710 L573.8 701.2Z"/>
<path d="M543.8 758.8 L548.8 760 L556.2 770 L560 778.8 L555 778.8 L547.5 771.2Z"/>
<path d="M665 1004 L672 1001.5 L678.2 1011.5 L679.5 1021.5 L673.2 1024 L667 1016.5Z"/>
<path d="M679.5 974 L684.5 972.8 L690.8 982.8 L688.2 986.5 L682 981.5Z"/>
</g>
<g class="g">
<circle cx="732.0" cy="837.0" r="1047.9"/>
<circle cx="732.0" cy="837.0" r="938.7"/>
<circle cx="732.0" cy="837.0" r="833.8"/>
<circle cx="732.0" cy="837.0" r="732.7"/>
<circle cx="732.0" cy="837.0" r="634.7"/>
<circle cx="732.0" cy="837.0" r="539.4"/>
<circle cx="732.0" cy="837.0" r="446.3"/>
<circle cx="732.0" cy="837.0" r="354.9"/>
<circle cx="732.0" cy="837.0" r="265.0"/>
<circle cx="732.0" cy="837.0" r="176.1"/>
<circle cx="732.0" cy="837.0" r="87.9"/>
<path d="M732.0 837.0L732.0 -263.0M754.7 752.1L1016.7 -225.5M775.9 760.9L1282.0 -115.6M794.1 774.9L1509.8 59.2M808.1 793.1L1684.6 287.0M816.9 814.3L1794.5 552.3M732.0 837.0L1832.0 837.0M816.9 859.7L1794.5 1121.7M808.1 880.9L1684.6 1387.0M794.1 899.1L1509.8 1614.8M775.9 913.1L1282.0 1789.6M754.7 921.9L1016.7 1899.5M732.0 837.0L732.0 1937.0M709.3 921.9L447.3 1899.5M688.1 913.1L182.0 1789.6M669.9 899.1L-45.8 1614.8M655.9 880.9L-220.6 1387.0M647.1 859.7L-330.5 1121.7M732.0 837.0L-368.0 837.0M647.1 814.3L-330.5 552.3M655.9 793.1L-220.6 287.0M669.9 774.9L-45.8 59.2M688.1 760.9L182.0 -115.6M709.3 752.1L447.3 -225.5"/>
</g>
</g>
<rect x="90.0" y="130.5" width="1283.5" height="1348.5" fill="none" stroke="#000" stroke-width="4.5"/>
<g stroke="#000" stroke-width="2" fill="none">
<line x1="324.1" y1="130.5" x2="316.5" y2="117.3"/>
<line x1="542.7" y1="130.5" x2="538.7" y2="115.8"/>
<line x1="732.0" y1="130.5" x2="732.0" y2="115.2"/>
<line x1="921.3" y1="130.5" x2="925.3" y2="115.8"/>
<line x1="1139.9" y1="130.5" x2="1147.5" y2="117.3"/>
<line x1="1373.5" y1="1478.5" x2="1384.3" y2="1489.3"/>
<line x1="1102.7" y1="1479.0" x2="1110.3" y2="1492.2"/>
<line x1="904.0" y1="1479.0" x2="908.0" y2="1493.7"/>
<line x1="732.0" y1="1479.0" x2="732.0" y2="1494.2"/>
<line x1="560.0" y1="1479.0" x2="556.0" y2="1493.7"/>
<line x1="361.3" y1="1479.0" x2="353.7" y2="1492.2"/>
<line x1="90.0" y1="152.2" x2="78.9" y2="162.6"/>
<line x1="1373.5" y1="151.7" x2="1384.6" y2="162.2"/>
<line x1="90.0" y1="304.9" x2="80.3" y2="316.7"/>
<line x1="90.0" y1="1369.1" x2="80.3" y2="1357.3"/>
<line x1="1373.5" y1="304.3" x2="1383.2" y2="316.1"/>
<line x1="1373.5" y1="1369.7" x2="1383.2" y2="1357.9"/>
<line x1="90.0" y1="483.9" x2="82.7" y2="497.3"/>
<line x1="90.0" y1="1190.1" x2="82.7" y2="1176.7"/>
<line x1="1373.5" y1="483.0" x2="1380.9" y2="496.4"/>
<line x1="1373.5" y1="1191.0" x2="1380.9" y2="1177.6"/>
</g>
<g class="lb">
<text transform="translate(309.6 105.4) rotate(60.00)" text-anchor="end" y="16.5">30<tspan font-size="30" dy="-12">°</tspan><tspan dy="12">W</tspan></text>
<text transform="translate(535.2 102.5) rotate(75.00)" text-anchor="end" y="16.5">15<tspan font-size="30" dy="-12">°</tspan><tspan dy="12">W</tspan></text>
<text transform="translate(732.0 101.5) rotate(-90.00)" text-anchor="start" y="16.5">0<tspan font-size="30" dy="-12">°</tspan></text>
<text transform="translate(928.8 102.5) rotate(-75.00)" text-anchor="start" y="16.5">15<tspan font-size="30" dy="-12">°</tspan><tspan dy="12">E</tspan></text>
<text transform="translate(1154.4 105.4) rotate(-60.00)" text-anchor="start" y="16.5">30<tspan font-size="30" dy="-12">°</tspan><tspan dy="12">E</tspan></text>
<text transform="translate(1394.0 1499.0) rotate(45.00)" text-anchor="start" y="16.5">135<tspan font-size="30" dy="-12">°</tspan><tspan dy="12">E</tspan></text>
<text transform="translate(1117.2 1504.1) rotate(60.00)" text-anchor="start" y="16.5">150<tspan font-size="30" dy="-12">°</tspan><tspan dy="12">E</tspan></text>
<text transform="translate(911.5 1507.0) rotate(75.00)" text-anchor="start" y="16.5">165<tspan font-size="30" dy="-12">°</tspan><tspan dy="12">E</tspan></text>
<text transform="translate(732.0 1508.0) rotate(-90.00)" text-anchor="end" y="16.5">180<tspan font-size="30" dy="-12">°</tspan></text>
<text transform="translate(552.5 1507.0) rotate(285.00)" text-anchor="end" y="16.5">165<tspan font-size="30" dy="-12">°</tspan><tspan dy="12">W</tspan></text>
<text transform="translate(346.8 1504.1) rotate(300.00)" text-anchor="end" y="16.5">150<tspan font-size="30" dy="-12">°</tspan><tspan dy="12">W</tspan></text>
<text transform="translate(67.0 173.7) rotate(316.85)" text-anchor="end" y="16.5">40<tspan font-size="30" dy="-12">°</tspan><tspan dy="12">S</tspan></text>
<text transform="translate(1396.5 173.3) rotate(43.11)" text-anchor="start" y="16.5">40<tspan font-size="30" dy="-12">°</tspan><tspan dy="12">S</tspan></text>
<text transform="translate(69.9 329.2) rotate(309.65)" text-anchor="end" y="16.5">45<tspan font-size="30" dy="-12">°</tspan><tspan dy="12">S</tspan></text>
<text transform="translate(69.9 1344.8) rotate(50.35)" text-anchor="end" y="16.5">45<tspan font-size="30" dy="-12">°</tspan><tspan dy="12">S</tspan></text>
<text transform="translate(1393.6 328.6) rotate(50.30)" text-anchor="start" y="16.5">45<tspan font-size="30" dy="-12">°</tspan><tspan dy="12">S</tspan></text>
<text transform="translate(1393.6 1345.4) rotate(-50.30)" text-anchor="start" y="16.5">45<tspan font-size="30" dy="-12">°</tspan><tspan dy="12">S</tspan></text>
<text transform="translate(74.8 511.6) rotate(298.81)" text-anchor="end" y="16.5">50<tspan font-size="30" dy="-12">°</tspan><tspan dy="12">S</tspan></text>
<text transform="translate(74.8 1162.4) rotate(61.19)" text-anchor="end" y="16.5">50<tspan font-size="30" dy="-12">°</tspan><tspan dy="12">S</tspan></text>
<text transform="translate(1388.7 510.6) rotate(61.11)" text-anchor="start" y="16.5">50<tspan font-size="30" dy="-12">°</tspan><tspan dy="12">S</tspan></text>
<text transform="translate(1388.7 1163.4) rotate(-61.11)" text-anchor="start" y="16.5">50<tspan font-size="30" dy="-12">°</tspan><tspan dy="12">S</tspan></text>
</g>
<rect x="763.50" y="1619.8" width="58.40" height="26.200000000000045" fill="#00008b"/>
<rect x="821.40" y="1619.8" width="58.40" height="26.200000000000045" fill="#1e90ff"/>
<rect x="879.30" y="1619.8" width="58.40" height="26.200000000000045" fill="#20ffa0"/>
<rect x="937.20" y="1619.8" width="58.40" height="26.200000000000045" fill="#228b22"/>
<rect x="995.10" y="1619.8" width="58.40" height="26.200000000000045" fill="#00ff00"/>
<rect x="1053.00" y="1619.8" width="58.40" height="26.200000000000045" fill="#7fff00"/>
<rect x="1110.90" y="1619.8" width="58.40" height="26.200000000000045" fill="#adff2f"/>
<rect x="1168.80" y="1619.8" width="58.40" height="26.200000000000045" fill="#ffff00"/>
<rect x="1226.70" y="1619.8" width="29.45" height="26.200000000000045" fill="#ff8000"/>
<rect x="1255.65" y="1619.8" width="29.45" height="26.200000000000045" fill="#ff0000"/>
<rect x="1284.60" y="1619.8" width="29.45" height="26.200000000000045" fill="#ba55d3"/>
<rect x="1313.55" y="1619.8" width="23.66" height="26.200000000000045" fill="#9400d3"/>
<rect x="1336.71" y="1619.8" width="6.29" height="26.200000000000045" fill="#800060"/>
<rect x="763.5" y="1619.8" width="579.0" height="26.200000000000045" fill="none" stroke="#000" stroke-width="3.4"/>
<g stroke="#000" stroke-width="1.5">
<line x1="763.5" y1="1646.0" x2="763.5" y2="1660.5"/>
<line x1="908.2" y1="1646.0" x2="908.2" y2="1660.5"/>
<line x1="1053.0" y1="1646.0" x2="1053.0" y2="1660.5"/>
<line x1="1197.8" y1="1646.0" x2="1197.8" y2="1660.5"/>
<line x1="1342.5" y1="1646.0" x2="1342.5" y2="1660.5"/>
</g>
<text class="tt" x="763.5" y="1708" font-size="46" text-anchor="middle">0</text>
<text class="tt" x="908.2" y="1708" font-size="46" text-anchor="middle">25</text>
<text class="tt" x="1053.0" y="1708" font-size="46" text-anchor="middle">50</text>
<text class="tt" x="1197.8" y="1708" font-size="46" text-anchor="middle">75</text>
<text class="tt" x="1342.5" y="1708" font-size="46" text-anchor="middle">100</text>
<text class="tt" x="1356" y="1652" font-size="46">C[%]</text>
<text class="t2" x="1056.5" y="1756" font-size="38.9" text-anchor="middle">Ice Concentration</text>
<text class="t3" x="24" y="1661.5" font-size="66.5">Oct 24 2025</text>
<text class="t3" x="25.5" y="1718.5" font-size="66.5">Antarctic3125NoLandMask</text>
<text class="t2" x="26" y="1761.5" font-size="33.5" xml:space="preserve" style="white-space:pre">ASI (from AMSR2) ver. 5.4,  Grid 3.125 km</text>
</svg>
</body></html>
